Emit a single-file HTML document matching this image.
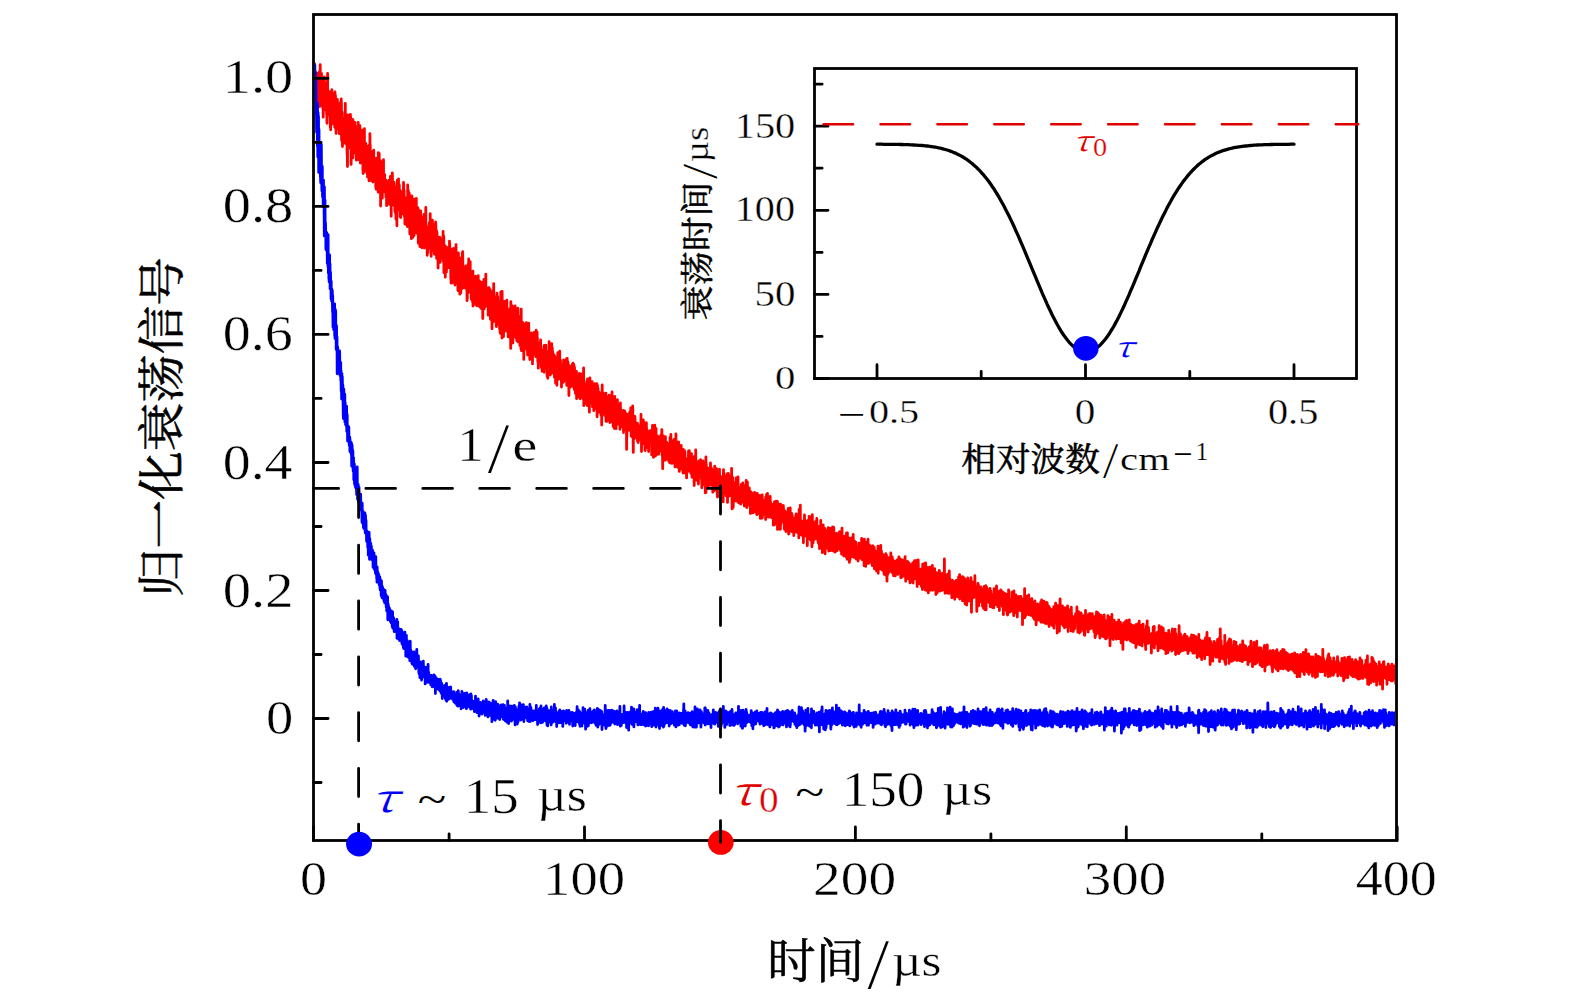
<!DOCTYPE html><html><head><meta charset="utf-8"><style>html,body{margin:0;padding:0;background:#fff;}svg{display:block;}</style></head><body><svg width="1575" height="1004" viewBox="0 0 1575 1004">
<defs><clipPath id="c1"><rect x="314.9" y="15.9" width="1080.2" height="823.2"/></clipPath></defs>
<polyline clip-path="url(#c1)" fill="none" stroke-linejoin="round" stroke-linecap="round" points="313.6,78.4 313.7,75.0 313.9,82.2 314.0,89.9 314.1,84.8 314.3,91.5 314.4,78.9 314.5,63.6 314.7,86.1 314.8,87.8 315.0,74.6 315.1,76.4 315.2,79.7 315.4,92.4 315.5,81.7 315.6,73.2 315.8,98.1 315.9,87.6 316.0,105.2 316.2,98.1 316.3,104.9 316.4,85.7 316.6,98.4 316.7,80.0 316.9,81.6 317.0,86.0 317.1,114.3 317.3,90.6 317.4,84.9 317.5,83.2 317.7,103.2 317.8,90.7 317.9,97.0 318.1,95.2 318.2,72.8 318.3,95.6 318.5,86.4 318.6,75.6 318.7,93.5 318.9,88.0 319.0,85.5 319.2,86.3 319.3,102.0 319.4,86.6 319.6,71.4 319.7,106.5 319.8,77.8 320.0,86.9 320.1,96.3 320.2,64.7 320.4,79.8 320.5,103.6 320.6,88.5 320.8,82.7 320.9,92.1 321.0,81.8 321.2,91.0 321.3,82.5 321.5,73.4 321.6,99.0 321.7,88.6 321.9,96.8 322.0,90.0 322.1,105.9 322.3,98.8 322.4,94.5 322.5,81.6 322.7,78.8 322.8,108.6 322.9,102.4 323.1,85.4 323.2,117.2 323.4,99.1 323.5,94.9 323.6,79.0 323.8,86.0 323.9,98.3 324.0,99.0 324.2,97.8 324.3,76.9 324.4,100.3 324.6,99.1 324.7,91.5 324.8,97.3 325.0,98.4 325.1,109.5 325.2,96.6 325.4,102.0 325.5,83.0 325.7,89.4 325.8,97.6 325.9,89.6 326.1,101.8 326.2,85.4 326.3,98.2 326.5,91.4 326.6,113.9 326.7,94.7 326.9,119.0 327.0,123.3 327.1,103.0 327.3,110.3 327.4,97.9 327.6,73.4 327.7,110.1 327.8,107.8 328.0,98.2 328.1,95.0 328.2,103.1 328.4,103.7 328.5,93.1 328.6,95.5 328.8,114.1 328.9,103.0 329.0,101.9 329.2,114.9 329.3,99.6 329.4,113.0 329.6,91.6 329.7,101.0 329.9,102.4 330.0,110.7 330.1,105.3 330.3,127.6 330.4,117.6 330.5,100.3 330.7,129.8 330.8,95.0 330.9,125.7 331.1,96.4 331.2,115.5 331.3,96.6 331.5,104.4 331.6,124.2 331.8,91.7 331.9,89.6 332.0,107.5 332.2,110.2 332.3,109.1 332.4,118.8 332.6,94.7 332.7,114.2 332.8,108.6 333.0,117.5 333.1,115.7 333.2,123.6 333.4,94.1 333.5,110.8 333.6,97.9 333.8,109.3 333.9,117.7 334.1,113.6 334.2,116.6 334.3,110.1 334.5,114.8 334.6,114.1 334.7,126.9 334.9,120.5 335.0,91.9 335.1,119.3 335.3,123.9 335.4,107.9 335.5,95.6 335.7,129.2 335.8,114.9 335.9,120.0 336.1,133.4 336.2,104.5 336.4,113.5 336.5,112.6 336.6,122.4 336.8,108.6 336.9,120.3 337.0,115.9 337.2,127.3 337.3,128.8 337.4,99.4 337.6,121.0 337.7,111.9 337.8,115.9 338.0,120.8 338.1,121.8 338.3,108.8 338.4,119.8 338.5,118.2 338.7,116.4 338.8,103.3 338.9,109.2 339.1,112.9 339.2,124.0 339.3,133.7 339.5,106.9 339.6,106.9 339.7,119.9 339.9,112.2 340.0,109.7 340.1,109.3 340.3,108.4 340.4,124.5 340.6,102.0 340.7,134.1 340.8,109.9 341.0,114.4 341.1,110.2 341.2,98.8 341.4,103.6 341.5,134.1 341.6,140.5 341.8,111.9 341.9,133.2 342.0,121.8 342.2,112.2 342.3,141.0 342.5,146.5 342.6,119.5 342.7,122.2 342.9,125.7 343.0,122.6 343.1,133.2 343.3,140.8 343.4,125.6 343.5,135.0 343.7,142.9 343.8,118.5 343.9,125.2 344.1,120.0 344.2,136.2 344.3,132.6 344.5,136.7 344.6,135.6 344.8,123.4 344.9,134.8 345.0,122.0 345.2,122.3 345.3,103.3 345.4,142.6 345.6,116.7 345.7,128.0 345.8,127.4 346.0,144.0 346.1,132.9 346.2,119.3 346.4,128.9 346.5,127.3 346.6,131.7 346.8,115.4 346.9,129.0 347.1,154.1 347.2,137.1 347.3,151.8 347.5,166.6 347.6,135.8 347.7,114.8 347.9,129.6 348.0,143.7 348.1,141.3 348.3,117.9 348.4,129.2 348.5,130.6 348.7,132.0 348.8,131.1 349.0,122.6 349.1,125.7 349.2,129.7 349.4,144.2 349.5,126.7 349.6,140.5 349.8,120.5 349.9,147.5 350.0,134.9 350.2,133.6 350.3,148.7 350.4,114.4 350.6,117.5 350.7,139.5 350.8,125.7 351.0,130.4 351.1,164.4 351.3,132.2 351.4,135.9 351.5,134.5 351.7,147.8 351.8,138.9 351.9,138.0 352.1,122.8 352.2,132.6 352.3,136.7 352.5,119.5 352.6,143.3 352.7,141.6 352.9,157.9 353.0,119.9 353.2,126.9 353.3,127.6 353.4,130.6 353.6,137.1 353.7,136.1 353.8,141.6 354.0,141.2 354.1,138.5 354.2,122.3 354.4,133.3 354.5,140.4 354.6,146.4 354.8,147.2 354.9,122.3 355.0,134.8 355.2,139.9 355.3,144.7 355.5,153.5 355.6,142.0 355.7,131.6 355.9,146.0 356.0,144.4 356.1,144.5 356.3,141.0 356.4,160.2 356.5,145.2 356.7,152.3 356.8,133.1 356.9,151.8 357.1,136.9 357.2,126.5 357.4,147.2 357.5,150.7 357.6,142.0 357.8,144.3 357.9,155.6 358.0,139.5 358.2,122.4 358.3,148.0 358.4,147.5 358.6,157.1 358.7,142.1 358.8,159.7 359.0,158.4 359.1,132.0 359.2,156.5 359.4,134.6 359.5,129.8 359.7,144.1 359.8,141.0 359.9,125.6 360.1,149.7 360.2,154.3 360.3,163.0 360.5,147.7 360.6,131.9 360.7,137.8 360.9,159.2 361.0,158.4 361.1,154.7 361.3,146.0 361.4,151.7 361.5,147.3 361.7,146.5 361.8,153.3 362.0,150.7 362.1,148.1 362.2,151.5 362.4,145.2 362.5,130.2 362.6,144.6 362.8,150.7 362.9,170.2 363.0,147.4 363.2,173.5 363.3,167.7 363.4,142.8 363.6,144.7 363.7,154.3 363.9,171.8 364.0,157.2 364.1,160.7 364.3,146.4 364.4,128.7 364.5,151.4 364.7,162.6 364.8,167.1 364.9,155.0 365.1,156.5 365.2,167.4 365.3,153.6 365.5,167.8 365.6,143.1 365.7,143.8 365.9,143.7 366.0,161.1 366.2,150.4 366.3,157.7 366.4,160.7 366.6,160.3 366.7,171.1 366.8,172.9 367.0,148.5 367.1,159.5 367.2,155.2 367.4,146.7 367.5,176.9 367.6,166.7 367.8,156.4 367.9,154.2 368.1,162.8 368.2,147.6 368.3,156.7 368.5,172.5 368.6,169.6 368.7,150.8 368.9,154.7 369.0,180.8 369.1,145.4 369.3,153.8 369.4,145.8 369.5,164.9 369.7,164.1 369.8,173.4 369.9,133.6 370.1,163.4 370.2,144.3 370.4,168.9 370.5,160.2 370.6,180.4 370.8,166.6 370.9,151.9 371.0,176.4 371.2,151.3 371.3,159.5 371.4,174.7 371.6,169.0 371.7,168.7 371.8,164.4 372.0,169.9 372.1,173.2 372.2,167.7 372.4,175.8 372.5,178.8 372.7,165.5 372.8,155.6 372.9,182.0 373.1,165.5 373.2,172.8 373.3,176.5 373.5,156.8 373.6,171.9 373.7,150.2 373.9,175.1 374.0,162.6 374.1,169.5 374.3,175.4 374.4,161.0 374.6,169.2 374.7,161.2 374.8,168.4 375.0,179.9 375.1,169.4 375.2,167.9 375.4,158.3 375.5,178.6 375.6,169.5 375.8,187.8 375.9,162.4 376.0,181.3 376.2,189.3 376.3,170.6 376.4,158.2 376.6,186.8 376.7,182.2 376.9,178.7 377.0,183.0 377.1,166.9 377.3,179.9 377.4,179.2 377.5,165.3 377.7,179.9 377.8,167.3 377.9,182.6 378.1,185.4 378.2,192.2 378.3,152.7 378.5,176.3 378.6,170.4 378.8,173.6 378.9,171.7 379.0,173.1 379.2,153.3 379.3,185.1 379.4,190.9 379.6,185.2 379.7,188.8 379.8,166.7 380.0,166.1 380.1,185.3 380.2,190.1 380.4,179.2 380.5,160.7 380.6,206.0 380.8,170.3 380.9,187.6 381.1,165.2 381.2,188.0 381.3,179.7 381.5,193.0 381.6,187.5 381.7,162.4 381.9,168.6 382.0,181.9 382.1,187.0 382.3,198.2 382.4,182.3 382.5,178.6 382.7,179.4 382.8,179.7 383.0,190.8 383.1,179.7 383.2,179.6 383.4,165.6 383.5,159.7 383.6,181.2 383.8,188.1 383.9,180.8 384.0,186.7 384.2,188.3 384.3,181.3 384.4,191.9 384.6,174.5 384.7,182.3 384.8,178.7 385.0,183.5 385.1,189.4 385.3,191.9 385.4,184.6 385.5,188.1 385.7,179.9 385.8,182.6 385.9,197.2 386.1,182.2 386.2,197.4 386.3,189.8 386.5,186.6 386.6,205.7 386.7,182.9 386.9,182.4 387.0,185.9 387.1,188.9 387.3,188.5 387.4,195.1 387.6,187.8 387.7,190.9 387.8,184.3 388.0,198.2 388.1,183.1 388.2,184.3 388.4,187.5 388.5,190.8 388.6,180.5 388.8,204.1 388.9,181.8 389.0,184.3 389.2,184.1 389.3,183.2 389.5,194.3 389.6,190.3 389.7,181.0 389.9,183.4 390.0,185.9 390.1,204.2 390.3,182.8 390.4,176.3 390.5,178.2 390.7,186.5 390.8,205.5 390.9,179.4 391.1,191.1 391.2,216.3 391.3,185.9 391.5,205.7 391.6,203.8 391.8,197.1 391.9,177.2 392.0,194.6 392.2,188.1 392.3,172.8 392.4,174.6 392.6,192.5 392.7,194.2 392.8,205.0 393.0,199.3 393.1,187.7 393.2,188.2 393.4,191.4 393.5,182.3 393.7,200.9 393.8,193.6 393.9,185.6 394.1,187.3 394.2,182.4 394.3,189.6 394.5,197.1 394.6,190.3 394.7,204.7 394.9,211.5 395.0,188.5 395.1,195.4 395.3,191.7 395.4,212.8 395.5,199.1 395.7,201.7 395.8,204.7 396.0,219.3 396.1,199.5 396.2,186.8 396.4,192.4 396.5,202.8 396.6,196.9 396.8,189.0 396.9,225.8 397.0,198.5 397.2,191.7 397.3,190.5 397.4,180.1 397.6,186.1 397.7,194.8 397.8,195.1 398.0,190.3 398.1,204.2 398.3,199.2 398.4,189.6 398.5,178.8 398.7,201.0 398.8,200.0 398.9,197.6 399.1,185.9 399.2,200.3 399.3,184.9 399.5,210.3 399.6,202.4 399.7,202.7 399.9,192.7 400.0,190.2 400.2,216.8 400.3,210.8 400.4,198.1 400.6,208.5 400.7,217.6 400.8,191.3 401.0,197.1 401.1,197.3 401.2,207.5 401.4,192.1 401.5,205.4 401.6,191.8 401.8,212.7 401.9,212.2 402.0,201.5 402.2,211.0 402.3,197.0 402.5,201.4 402.6,213.8 402.7,203.7 402.9,208.3 403.0,195.4 403.1,211.5 403.3,209.7 403.4,192.9 403.5,182.5 403.7,185.1 403.8,205.2 403.9,203.8 404.1,190.4 404.2,207.6 404.4,216.5 404.5,205.5 404.6,202.2 404.8,215.5 404.9,224.1 405.0,222.1 405.2,200.7 405.3,215.5 405.4,209.3 405.6,205.9 405.7,201.9 405.8,211.8 406.0,203.5 406.1,217.8 406.2,212.6 406.4,219.5 406.5,197.7 406.7,209.7 406.8,217.1 406.9,213.3 407.1,212.2 407.2,202.9 407.3,226.6 407.5,221.0 407.6,214.5 407.7,184.9 407.9,201.2 408.0,212.2 408.1,204.0 408.3,190.5 408.4,214.0 408.6,215.5 408.7,199.6 408.8,207.1 409.0,205.5 409.1,217.6 409.2,193.0 409.4,195.4 409.5,207.2 409.6,206.2 409.8,233.9 409.9,207.0 410.0,215.6 410.2,209.4 410.3,207.0 410.4,217.6 410.6,231.5 410.7,210.7 410.9,222.2 411.0,218.2 411.1,221.1 411.3,218.6 411.4,238.7 411.5,203.1 411.7,213.1 411.8,204.6 411.9,195.9 412.1,215.9 412.2,234.6 412.3,225.5 412.5,228.9 412.6,221.9 412.7,216.2 412.9,237.4 413.0,213.9 413.2,232.8 413.3,214.7 413.4,218.9 413.6,221.2 413.7,218.9 413.8,223.8 414.0,224.7 414.1,235.6 414.2,219.1 414.4,200.4 414.5,199.2 414.6,206.0 414.8,212.4 414.9,226.5 415.1,205.3 415.2,220.6 415.3,220.8 415.5,223.3 415.6,219.6 415.7,225.0 415.9,221.7 416.0,231.9 416.1,224.9 416.3,198.4 416.4,222.2 416.5,224.0 416.7,216.5 416.8,214.9 416.9,233.3 417.1,224.4 417.2,213.3 417.4,219.9 417.5,221.6 417.6,207.4 417.8,229.9 417.9,222.5 418.0,228.7 418.2,208.7 418.3,243.3 418.4,230.7 418.6,229.4 418.7,217.6 418.8,218.4 419.0,210.7 419.1,240.5 419.3,217.4 419.4,228.0 419.5,231.9 419.7,220.1 419.8,234.8 419.9,246.5 420.1,229.6 420.2,241.1 420.3,232.7 420.5,222.7 420.6,223.5 420.7,210.9 420.9,228.9 421.0,242.4 421.1,234.8 421.3,236.6 421.4,239.7 421.6,223.4 421.7,234.3 421.8,247.8 422.0,221.3 422.1,229.5 422.2,225.0 422.4,227.7 422.5,222.6 422.6,228.7 422.8,216.9 422.9,225.1 423.0,225.6 423.2,225.6 423.3,244.3 423.4,231.7 423.6,232.8 423.7,228.3 423.9,244.0 424.0,214.5 424.1,229.8 424.3,243.0 424.4,248.1 424.5,234.1 424.7,232.4 424.8,238.8 424.9,230.9 425.1,238.3 425.2,226.7 425.3,239.5 425.5,232.8 425.6,222.9 425.8,207.4 425.9,242.9 426.0,237.7 426.2,241.6 426.3,225.7 426.4,244.9 426.6,238.5 426.7,234.2 426.8,243.7 427.0,243.7 427.1,239.1 427.2,255.3 427.4,249.0 427.5,239.0 427.6,233.6 427.8,237.0 427.9,252.8 428.1,240.1 428.2,227.8 428.3,230.4 428.5,236.8 428.6,244.9 428.7,230.1 428.9,242.2 429.0,248.2 429.1,244.7 429.3,222.7 429.4,235.0 429.5,225.9 429.7,242.2 429.8,228.4 430.0,243.7 430.1,239.5 430.2,213.7 430.4,230.7 430.5,243.3 430.6,239.4 430.8,235.5 430.9,227.0 431.0,243.9 431.2,256.3 431.3,242.1 431.4,239.4 431.6,238.6 431.7,227.0 431.8,236.9 432.0,232.2 432.1,251.1 432.3,232.0 432.4,220.2 432.5,233.3 432.7,238.5 432.8,239.6 432.9,223.8 433.1,250.5 433.2,242.7 433.3,237.3 433.5,234.7 433.6,246.4 433.7,239.2 433.9,245.1 434.0,241.4 434.2,244.0 434.3,254.0 434.4,243.2 434.6,234.6 434.7,252.8 434.8,245.9 435.0,237.2 435.1,254.2 435.2,242.2 435.4,254.5 435.5,233.3 435.6,222.0 435.8,225.0 435.9,246.9 436.0,237.7 436.2,243.9 436.3,244.3 436.5,230.4 436.6,258.4 436.7,235.5 436.9,246.4 437.0,232.4 437.1,244.4 437.3,252.9 437.4,243.8 437.5,239.5 437.7,246.5 437.8,242.3 437.9,252.2 438.1,268.0 438.2,238.7 438.3,240.8 438.5,246.3 438.6,247.3 438.8,238.1 438.9,252.7 439.0,255.2 439.2,250.4 439.3,237.2 439.4,262.3 439.6,237.5 439.7,255.4 439.8,260.0 440.0,237.3 440.1,250.6 440.2,262.3 440.4,253.4 440.5,241.1 440.7,238.8 440.8,254.5 440.9,246.7 441.1,243.9 441.2,257.1 441.3,247.6 441.5,251.5 441.6,256.5 441.7,256.3 441.9,251.0 442.0,251.5 442.1,257.4 442.3,256.2 442.4,241.6 442.5,250.4 442.7,244.1 442.8,241.2 443.0,247.3 443.1,231.3 443.2,261.2 443.4,245.6 443.5,256.6 443.6,235.9 443.8,237.5 443.9,272.7 444.0,263.4 444.2,247.9 444.3,246.9 444.4,247.6 444.6,255.5 444.7,250.6 444.9,248.8 445.0,256.0 445.1,245.6 445.3,277.2 445.4,249.6 445.5,265.7 445.7,246.8 445.8,258.4 445.9,264.8 446.1,252.9 446.2,265.3 446.3,265.5 446.5,271.9 446.6,257.3 446.7,252.5 446.9,247.6 447.0,258.9 447.2,247.7 447.3,257.7 447.4,258.9 447.6,252.7 447.7,248.2 447.8,261.7 448.0,260.9 448.1,260.3 448.2,258.1 448.4,267.7 448.5,249.5 448.6,263.2 448.8,255.1 448.9,267.5 449.1,256.4 449.2,256.3 449.3,264.2 449.5,241.1 449.6,256.9 449.7,243.7 449.9,251.7 450.0,267.2 450.1,264.7 450.3,257.1 450.4,260.8 450.5,261.1 450.7,264.4 450.8,279.0 450.9,264.1 451.1,283.2 451.2,258.8 451.4,269.3 451.5,269.4 451.6,264.8 451.8,260.3 451.9,276.6 452.0,279.7 452.2,273.4 452.3,282.8 452.4,272.8 452.6,248.8 452.7,273.9 452.8,258.0 453.0,277.2 453.1,261.6 453.2,267.6 453.4,265.3 453.5,259.5 453.7,248.4 453.8,263.3 453.9,264.1 454.1,274.6 454.2,260.1 454.3,268.1 454.5,258.1 454.6,266.5 454.7,249.8 454.9,285.0 455.0,269.3 455.1,258.4 455.3,270.1 455.4,274.4 455.6,269.6 455.7,280.3 455.8,266.3 456.0,244.6 456.1,257.0 456.2,278.3 456.4,276.2 456.5,272.0 456.6,258.9 456.8,276.2 456.9,275.1 457.0,260.5 457.2,260.8 457.3,272.6 457.4,279.7 457.6,283.9 457.7,276.1 457.9,290.6 458.0,262.8 458.1,275.9 458.3,265.6 458.4,252.8 458.5,259.4 458.7,281.3 458.8,262.6 458.9,260.0 459.1,278.0 459.2,280.1 459.3,272.3 459.5,286.4 459.6,257.9 459.8,294.2 459.9,282.3 460.0,274.6 460.2,274.3 460.3,270.8 460.4,270.0 460.6,274.7 460.7,262.2 460.8,292.9 461.0,273.1 461.1,279.9 461.2,272.2 461.4,271.5 461.5,282.2 461.6,279.8 461.8,266.6 461.9,270.9 462.1,280.6 462.2,255.5 462.3,253.1 462.5,288.3 462.6,272.1 462.7,251.7 462.9,267.9 463.0,273.3 463.1,277.4 463.3,280.7 463.4,277.7 463.5,281.0 463.7,269.2 463.8,279.9 463.9,280.5 464.1,287.7 464.2,277.1 464.4,285.1 464.5,278.6 464.6,267.4 464.8,273.9 464.9,272.7 465.0,274.2 465.2,277.1 465.3,279.0 465.4,280.8 465.6,271.1 465.7,288.3 465.8,266.0 466.0,278.3 466.1,285.6 466.3,283.4 466.4,285.3 466.5,277.7 466.7,285.9 466.8,268.9 466.9,286.8 467.1,300.7 467.2,286.6 467.3,298.6 467.5,280.5 467.6,270.6 467.7,274.5 467.9,292.9 468.0,287.8 468.1,264.5 468.3,278.1 468.4,281.2 468.6,271.6 468.7,258.9 468.8,269.7 469.0,280.5 469.1,278.7 469.2,276.4 469.4,287.9 469.5,292.1 469.6,282.0 469.8,291.4 469.9,283.4 470.0,282.1 470.2,261.6 470.3,291.1 470.5,284.5 470.6,285.0 470.7,279.7 470.9,274.2 471.0,288.5 471.1,291.6 471.3,299.3 471.4,292.9 471.5,279.6 471.7,284.3 471.8,294.1 471.9,288.4 472.1,284.8 472.2,280.6 472.3,290.8 472.5,287.8 472.6,302.3 472.8,296.4 472.9,271.2 473.0,306.1 473.2,289.4 473.3,284.4 473.4,290.0 473.6,294.1 473.7,287.4 473.8,287.0 474.0,287.9 474.1,304.4 474.2,288.8 474.4,295.4 474.5,292.7 474.7,285.8 474.8,282.2 474.9,280.0 475.1,292.8 475.2,280.0 475.3,277.9 475.5,278.4 475.6,276.2 475.7,290.3 475.9,290.7 476.0,281.8 476.1,301.9 476.3,287.7 476.4,294.5 476.5,293.2 476.7,305.8 476.8,298.2 477.0,290.5 477.1,282.4 477.2,281.6 477.4,291.4 477.5,292.6 477.6,298.5 477.8,287.5 477.9,293.5 478.0,285.9 478.2,275.7 478.3,292.0 478.4,305.4 478.6,299.8 478.7,305.4 478.8,303.1 479.0,280.6 479.1,290.5 479.3,306.5 479.4,286.9 479.5,281.6 479.7,296.4 479.8,299.4 479.9,296.5 480.1,291.0 480.2,287.9 480.3,283.2 480.5,283.0 480.6,283.4 480.7,282.0 480.9,288.4 481.0,308.4 481.2,295.9 481.3,292.0 481.4,298.4 481.6,286.9 481.7,298.5 481.8,303.7 482.0,282.5 482.1,289.7 482.2,293.8 482.4,287.6 482.5,286.5 482.6,293.2 482.8,318.5 482.9,302.6 483.0,300.8 483.2,305.7 483.3,295.2 483.5,286.4 483.6,301.6 483.7,307.6 483.9,279.3 484.0,301.7 484.1,308.9 484.3,295.8 484.4,294.2 484.5,304.5 484.7,291.2 484.8,302.9 484.9,306.9 485.1,297.2 485.2,292.0 485.4,304.7 485.5,296.2 485.6,300.2 485.8,274.1 485.9,306.0 486.0,287.3 486.2,300.4 486.3,301.2 486.4,293.7 486.6,292.3 486.7,289.1 486.8,297.6 487.0,306.1 487.1,305.7 487.2,296.4 487.4,295.9 487.5,288.8 487.7,297.7 487.8,292.1 487.9,288.1 488.1,300.4 488.2,315.2 488.3,312.6 488.5,315.1 488.6,288.2 488.7,310.1 488.9,291.7 489.0,297.6 489.1,287.6 489.3,294.1 489.4,304.1 489.5,305.1 489.7,302.7 489.8,302.1 490.0,308.5 490.1,304.2 490.2,289.7 490.4,319.3 490.5,302.0 490.6,312.5 490.8,302.9 490.9,297.3 491.0,305.4 491.2,298.1 491.3,319.3 491.4,295.5 491.6,310.8 491.7,300.0 491.9,304.1 492.0,328.8 492.1,312.7 492.3,304.2 492.4,292.5 492.5,303.8 492.7,304.2 492.8,319.2 492.9,294.1 493.1,290.9 493.2,306.8 493.3,309.2 493.5,321.7 493.6,299.7 493.7,283.7 493.9,301.4 494.0,296.7 494.2,303.2 494.3,316.9 494.4,296.5 494.6,319.4 494.7,310.4 494.8,306.3 495.0,301.1 495.1,305.3 495.2,305.7 495.4,316.0 495.5,320.8 495.6,309.0 495.8,315.9 495.9,321.4 496.1,321.1 496.2,314.4 496.3,326.6 496.5,322.2 496.6,324.9 496.7,309.0 496.9,307.2 497.0,293.2 497.1,324.2 497.3,317.2 497.4,303.3 497.5,313.3 497.7,314.5 497.8,296.7 497.9,314.8 498.1,322.2 498.2,323.7 498.4,309.3 498.5,309.7 498.6,324.6 498.8,321.3 498.9,308.1 499.0,307.9 499.2,318.7 499.3,307.7 499.4,308.3 499.6,329.1 499.7,316.3 499.8,310.1 500.0,318.9 500.1,332.8 500.3,316.6 500.4,307.7 500.5,300.6 500.7,333.7 500.8,291.8 500.9,324.7 501.1,306.6 501.2,304.3 501.3,306.6 501.5,314.0 501.6,325.7 501.7,310.1 501.9,322.0 502.0,338.0 502.1,291.3 502.3,310.0 502.4,300.4 502.6,324.4 502.7,303.7 502.8,302.8 503.0,303.3 503.1,317.2 503.2,327.6 503.4,318.8 503.5,336.6 503.6,332.3 503.8,316.8 503.9,326.4 504.0,319.3 504.2,319.0 504.3,301.3 504.4,307.0 504.6,318.8 504.7,308.0 504.9,325.5 505.0,321.8 505.1,311.0 505.3,329.9 505.4,321.7 505.5,330.9 505.7,318.5 505.8,305.4 505.9,326.3 506.1,317.9 506.2,327.8 506.3,330.2 506.5,331.0 506.6,307.8 506.8,300.1 506.9,316.5 507.0,327.0 507.2,314.8 507.3,324.0 507.4,314.3 507.6,318.8 507.7,319.1 507.8,316.4 508.0,326.8 508.1,325.4 508.2,336.9 508.4,326.0 508.5,334.6 508.6,323.7 508.8,330.8 508.9,321.8 509.1,318.9 509.2,335.2 509.3,330.1 509.5,331.4 509.6,316.9 509.7,308.7 509.9,316.2 510.0,326.8 510.1,311.2 510.3,337.1 510.4,311.2 510.5,329.9 510.7,348.4 510.8,301.6 511.0,311.0 511.1,333.7 511.2,323.5 511.4,326.9 511.5,324.3 511.6,338.1 511.8,331.3 511.9,321.5 512.0,323.8 512.2,315.5 512.3,325.3 512.4,305.9 512.6,332.4 512.7,324.1 512.8,343.0 513.0,337.4 513.1,315.3 513.3,335.0 513.4,322.4 513.5,327.7 513.7,336.2 513.8,330.4 513.9,331.9 514.1,331.8 514.2,321.3 514.3,322.3 514.5,333.0 514.6,336.0 514.7,325.9 514.9,329.3 515.0,319.8 515.1,305.9 515.3,321.6 515.4,329.3 515.6,330.6 515.7,336.6 515.8,337.1 516.0,338.1 516.1,333.0 516.2,333.4 516.4,323.5 516.5,333.4 516.6,331.8 516.8,340.7 516.9,316.3 517.0,326.2 517.2,315.4 517.3,324.0 517.5,318.2 517.6,333.2 517.7,325.0 517.9,308.2 518.0,341.9 518.1,321.5 518.3,317.2 518.4,328.2 518.5,325.4 518.7,321.2 518.8,337.9 518.9,328.8 519.1,340.0 519.2,338.5 519.3,338.1 519.5,334.1 519.6,331.7 519.8,329.2 519.9,345.6 520.0,316.1 520.2,323.4 520.3,327.3 520.4,336.9 520.6,334.6 520.7,329.2 520.8,330.5 521.0,348.9 521.1,327.9 521.2,309.1 521.4,350.7 521.5,326.1 521.7,331.7 521.8,336.0 521.9,323.2 522.1,345.6 522.2,334.0 522.3,322.8 522.5,337.4 522.6,339.4 522.7,334.9 522.9,339.9 523.0,322.7 523.1,344.2 523.3,328.8 523.4,347.4 523.5,330.9 523.7,337.7 523.8,359.4 524.0,337.1 524.1,346.5 524.2,341.2 524.4,324.1 524.5,347.3 524.6,346.9 524.8,325.3 524.9,336.9 525.0,324.7 525.2,335.4 525.3,346.0 525.4,339.0 525.6,327.9 525.7,330.5 525.9,338.8 526.0,338.5 526.1,340.1 526.3,344.2 526.4,322.6 526.5,339.4 526.7,349.4 526.8,343.9 526.9,333.6 527.1,334.4 527.2,341.3 527.3,346.0 527.5,340.1 527.6,355.0 527.7,351.9 527.9,333.8 528.0,345.0 528.2,337.7 528.3,330.6 528.4,335.6 528.6,341.2 528.7,323.1 528.8,335.8 529.0,344.8 529.1,335.5 529.2,338.5 529.4,349.5 529.5,341.6 529.6,343.8 529.8,359.5 529.9,344.1 530.0,345.2 530.2,346.6 530.3,357.2 530.5,346.2 530.6,343.6 530.7,342.5 530.9,353.3 531.0,338.2 531.1,354.2 531.3,345.8 531.4,332.8 531.5,350.1 531.7,348.6 531.8,335.1 531.9,347.8 532.1,347.2 532.2,342.8 532.4,335.8 532.5,363.9 532.6,352.2 532.8,353.9 532.9,354.7 533.0,352.8 533.2,352.8 533.3,343.1 533.4,353.5 533.6,344.9 533.7,342.7 533.8,352.5 534.0,345.2 534.1,332.5 534.2,343.8 534.4,352.2 534.5,347.4 534.7,354.8 534.8,344.8 534.9,339.9 535.1,354.3 535.2,349.2 535.3,338.1 535.5,351.9 535.6,346.2 535.7,356.7 535.9,355.0 536.0,352.6 536.1,330.2 536.3,351.9 536.4,353.0 536.6,353.4 536.7,350.2 536.8,343.5 537.0,347.5 537.1,332.1 537.2,347.5 537.4,337.4 537.5,347.3 537.6,344.7 537.8,361.8 537.9,351.0 538.0,350.6 538.2,352.2 538.3,368.2 538.4,343.1 538.6,353.8 538.7,354.3 538.9,352.9 539.0,352.8 539.1,347.7 539.3,361.7 539.4,359.0 539.5,349.0 539.7,350.3 539.8,354.8 539.9,356.5 540.1,358.8 540.2,352.5 540.3,342.4 540.5,361.0 540.6,339.8 540.7,345.5 540.9,356.4 541.0,346.3 541.2,365.0 541.3,367.3 541.4,363.8 541.6,356.6 541.7,356.0 541.8,357.7 542.0,352.8 542.1,371.3 542.2,349.8 542.4,365.7 542.5,359.5 542.6,357.6 542.8,363.9 542.9,365.7 543.1,362.9 543.2,354.8 543.3,350.0 543.5,350.3 543.6,363.2 543.7,361.7 543.9,362.9 544.0,351.7 544.1,372.3 544.3,345.5 544.4,359.8 544.5,362.3 544.7,353.2 544.8,347.7 544.9,353.5 545.1,347.7 545.2,355.4 545.4,346.5 545.5,346.5 545.6,357.7 545.8,345.2 545.9,355.8 546.0,356.5 546.2,364.9 546.3,359.8 546.4,351.2 546.6,368.5 546.7,352.5 546.8,355.1 547.0,355.8 547.1,376.3 547.3,359.2 547.4,353.1 547.5,364.8 547.7,357.9 547.8,378.3 547.9,353.4 548.1,364.5 548.2,352.0 548.3,374.3 548.5,353.7 548.6,361.4 548.7,353.0 548.9,367.3 549.0,364.9 549.1,341.7 549.3,366.9 549.4,366.0 549.6,362.6 549.7,368.8 549.8,350.9 550.0,346.6 550.1,366.6 550.2,375.0 550.4,351.5 550.5,352.1 550.6,354.6 550.8,352.0 550.9,368.6 551.0,363.0 551.2,373.1 551.3,373.4 551.5,354.0 551.6,367.6 551.7,343.7 551.9,361.8 552.0,367.7 552.1,356.1 552.3,348.1 552.4,358.9 552.5,372.9 552.7,360.1 552.8,352.0 552.9,367.3 553.1,369.7 553.2,355.3 553.3,362.5 553.5,372.7 553.6,367.0 553.8,370.2 553.9,361.7 554.0,363.4 554.2,355.0 554.3,358.7 554.4,377.3 554.6,361.4 554.7,357.6 554.8,361.3 555.0,356.7 555.1,369.7 555.2,373.0 555.4,357.9 555.5,374.2 555.6,383.2 555.8,357.5 555.9,371.8 556.1,368.5 556.2,377.5 556.3,377.0 556.5,375.7 556.6,369.4 556.7,363.6 556.9,385.3 557.0,360.8 557.1,376.5 557.3,375.7 557.4,361.7 557.5,367.9 557.7,379.8 557.8,352.7 558.0,374.6 558.1,365.8 558.2,366.3 558.4,356.6 558.5,371.8 558.6,360.1 558.8,374.4 558.9,359.4 559.0,374.8 559.2,371.6 559.3,353.6 559.4,366.4 559.6,368.2 559.7,351.1 559.8,366.4 560.0,376.0 560.1,363.6 560.3,379.2 560.4,360.7 560.5,360.2 560.7,374.6 560.8,375.2 560.9,368.8 561.1,370.2 561.2,378.3 561.3,366.0 561.5,387.1 561.6,374.3 561.7,374.2 561.9,373.2 562.0,368.7 562.2,381.1 562.3,366.7 562.4,373.0 562.6,376.8 562.7,382.7 562.8,381.3 563.0,369.1 563.1,379.8 563.2,371.7 563.4,363.8 563.5,364.2 563.6,360.0 563.8,375.0 563.9,381.5 564.0,364.7 564.2,370.5 564.3,364.1 564.5,373.2 564.6,363.8 564.7,366.7 564.9,367.9 565.0,369.7 565.1,370.6 565.3,372.1 565.4,372.2 565.5,366.2 565.7,378.4 565.8,360.5 565.9,375.4 566.1,366.8 566.2,375.5 566.3,376.8 566.5,358.7 566.6,377.5 566.8,385.4 566.9,381.0 567.0,378.0 567.2,358.3 567.3,374.0 567.4,368.3 567.6,383.9 567.7,373.2 567.8,370.8 568.0,361.9 568.1,381.9 568.2,371.6 568.4,374.2 568.5,384.8 568.7,376.9 568.8,379.0 568.9,395.5 569.1,372.4 569.2,373.0 569.3,380.9 569.5,388.1 569.6,365.8 569.7,375.6 569.9,369.7 570.0,366.7 570.1,382.2 570.3,371.7 570.4,380.2 570.5,378.9 570.7,379.2 570.8,378.6 571.0,369.9 571.1,377.9 571.2,380.2 571.4,381.3 571.5,376.5 571.6,386.4 571.8,383.4 571.9,379.9 572.0,384.1 572.2,380.7 572.3,384.7 572.4,364.1 572.6,369.6 572.7,376.6 572.9,380.7 573.0,363.1 573.1,378.0 573.3,381.3 573.4,378.4 573.5,378.4 573.7,369.8 573.8,381.2 573.9,364.6 574.1,388.3 574.2,375.9 574.3,389.5 574.5,367.3 574.6,384.4 574.7,382.3 574.9,374.7 575.0,372.2 575.2,391.0 575.3,385.1 575.4,393.4 575.6,381.5 575.7,383.5 575.8,385.5 576.0,388.3 576.1,386.0 576.2,389.0 576.4,379.1 576.5,371.4 576.6,398.7 576.8,384.5 576.9,387.0 577.1,379.9 577.2,391.4 577.3,385.2 577.5,392.3 577.6,378.7 577.7,383.6 577.9,385.7 578.0,381.7 578.1,386.6 578.3,397.0 578.4,380.2 578.5,382.7 578.7,386.3 578.8,377.5 578.9,375.8 579.1,394.0 579.2,391.7 579.4,373.5 579.5,374.6 579.6,391.7 579.8,395.3 579.9,391.1 580.0,390.1 580.2,398.8 580.3,386.2 580.4,396.6 580.6,396.2 580.7,379.6 580.8,392.2 581.0,387.6 581.1,382.2 581.2,380.9 581.4,390.0 581.5,387.1 581.7,394.0 581.8,374.0 581.9,382.7 582.1,396.5 582.2,388.0 582.3,382.5 582.5,384.5 582.6,374.0 582.7,377.7 582.9,392.8 583.0,389.4 583.1,398.8 583.3,386.9 583.4,387.8 583.6,368.0 583.7,388.4 583.8,405.7 584.0,394.7 584.1,388.7 584.2,399.4 584.4,396.5 584.5,392.7 584.6,387.3 584.8,391.4 584.9,397.1 585.0,384.2 585.2,394.6 585.3,394.4 585.4,401.4 585.6,396.9 585.7,385.8 585.9,403.5 586.0,391.6 586.1,385.6 586.3,394.2 586.4,389.5 586.5,400.2 586.7,381.4 586.8,383.2 586.9,390.0 587.1,405.6 587.2,400.2 587.3,384.6 587.5,379.0 587.6,390.1 587.8,382.8 587.9,397.3 588.0,394.2 588.2,392.8 588.3,389.6 588.4,404.9 588.6,385.8 588.7,383.0 588.8,402.3 589.0,404.0 589.1,390.8 589.2,398.7 589.4,412.2 589.5,387.6 589.6,392.8 589.8,397.8 589.9,377.8 590.1,393.2 590.2,400.3 590.3,393.8 590.5,402.7 590.6,400.6 590.7,391.9 590.9,399.3 591.0,398.6 591.1,382.3 591.3,388.6 591.4,389.2 591.5,391.4 591.7,391.9 591.8,384.5 591.9,396.0 592.1,381.6 592.2,403.4 592.4,398.1 592.5,406.9 592.6,399.0 592.8,392.5 592.9,385.4 593.0,401.8 593.2,396.8 593.3,399.7 593.4,402.7 593.6,406.3 593.7,396.8 593.8,410.7 594.0,396.6 594.1,397.4 594.3,402.7 594.4,405.5 594.5,408.5 594.7,383.6 594.8,408.4 594.9,386.2 595.1,393.7 595.2,401.2 595.3,407.4 595.5,390.6 595.6,385.4 595.7,406.0 595.9,401.2 596.0,391.0 596.1,396.6 596.3,383.9 596.4,403.7 596.6,395.3 596.7,409.2 596.8,383.6 597.0,405.4 597.1,416.8 597.2,401.0 597.4,401.2 597.5,385.5 597.6,402.9 597.8,400.5 597.9,396.0 598.0,388.5 598.2,401.2 598.3,392.9 598.5,397.0 598.6,403.3 598.7,400.6 598.9,401.1 599.0,408.4 599.1,392.2 599.3,412.2 599.4,392.7 599.5,394.5 599.7,402.6 599.8,407.9 599.9,403.8 600.1,398.6 600.2,396.6 600.3,400.2 600.5,395.0 600.6,406.9 600.8,401.0 600.9,414.8 601.0,397.1 601.2,401.9 601.3,406.3 601.4,394.4 601.6,398.1 601.7,425.0 601.8,403.3 602.0,414.8 602.1,395.7 602.2,384.9 602.4,408.0 602.5,403.5 602.7,406.1 602.8,401.6 602.9,399.5 603.1,394.7 603.2,412.2 603.3,392.8 603.5,411.9 603.6,402.8 603.7,396.2 603.9,399.7 604.0,412.4 604.1,410.7 604.3,409.0 604.4,406.0 604.5,397.0 604.7,415.6 604.8,402.3 605.0,401.4 605.1,401.9 605.2,402.7 605.4,394.8 605.5,402.7 605.6,400.0 605.8,402.3 605.9,393.1 606.0,421.3 606.2,397.2 606.3,409.0 606.4,409.3 606.6,414.6 606.7,421.5 606.8,410.3 607.0,412.8 607.1,403.9 607.3,418.9 607.4,397.0 607.5,405.9 607.7,409.9 607.8,413.6 607.9,414.2 608.1,416.9 608.2,412.6 608.3,408.5 608.5,410.0 608.6,419.5 608.7,410.9 608.9,415.8 609.0,407.9 609.2,395.1 609.3,404.6 609.4,411.8 609.6,421.8 609.7,420.3 609.8,422.5 610.0,404.3 610.1,415.7 610.2,409.6 610.4,414.8 610.5,409.5 610.6,399.8 610.8,415.6 610.9,413.1 611.0,416.7 611.2,404.1 611.3,418.6 611.5,419.5 611.6,421.5 611.7,421.8 611.9,407.7 612.0,392.0 612.1,419.0 612.3,404.4 612.4,409.8 612.5,420.1 612.7,414.0 612.8,413.7 612.9,417.3 613.1,397.6 613.2,426.6 613.4,409.5 613.5,410.0 613.6,417.0 613.8,411.6 613.9,406.2 614.0,411.7 614.2,409.9 614.3,407.9 614.4,428.5 614.6,402.2 614.7,396.3 614.8,406.1 615.0,406.0 615.1,424.3 615.2,414.7 615.4,420.0 615.5,418.4 615.7,406.9 615.8,420.3 615.9,415.3 616.1,428.7 616.2,415.7 616.3,413.9 616.5,420.0 616.6,420.2 616.7,400.8 616.9,424.1 617.0,423.0 617.1,421.3 617.3,406.3 617.4,399.7 617.5,413.0 617.7,421.0 617.8,418.9 618.0,407.9 618.1,422.8 618.2,405.2 618.4,405.5 618.5,415.7 618.6,411.5 618.8,410.8 618.9,404.9 619.0,424.5 619.2,407.9 619.3,419.6 619.4,422.7 619.6,416.3 619.7,418.7 619.9,424.6 620.0,429.3 620.1,424.5 620.3,406.7 620.4,403.0 620.5,412.9 620.7,409.0 620.8,421.8 620.9,418.6 621.1,416.0 621.2,426.3 621.3,425.7 621.5,417.7 621.6,420.9 621.7,426.6 621.9,415.9 622.0,420.8 622.2,411.3 622.3,419.1 622.4,421.4 622.6,418.3 622.7,420.6 622.8,424.4 623.0,422.5 623.1,414.1 623.2,414.9 623.4,410.3 623.5,432.5 623.6,423.0 623.8,423.2 623.9,419.0 624.1,423.7 624.2,424.3 624.3,414.7 624.5,419.3 624.6,429.4 624.7,410.9 624.9,413.5 625.0,425.3 625.1,415.0 625.3,426.7 625.4,413.0 625.5,423.1 625.7,427.5 625.8,424.4 625.9,427.4 626.1,420.4 626.2,420.6 626.4,421.8 626.5,426.3 626.6,449.4 626.8,421.6 626.9,436.5 627.0,420.7 627.2,414.2 627.3,420.7 627.4,425.7 627.6,424.2 627.7,424.0 627.8,427.2 628.0,427.5 628.1,430.1 628.3,414.6 628.4,423.6 628.5,416.5 628.7,425.6 628.8,423.3 628.9,425.2 629.1,420.6 629.2,418.0 629.3,422.4 629.5,429.3 629.6,430.2 629.7,412.2 629.9,426.7 630.0,426.8 630.1,414.0 630.3,416.8 630.4,421.0 630.6,428.0 630.7,407.8 630.8,422.4 631.0,421.3 631.1,426.7 631.2,436.0 631.4,435.5 631.5,422.8 631.6,423.0 631.8,427.7 631.9,434.7 632.0,436.8 632.2,428.7 632.3,437.1 632.4,419.8 632.6,418.0 632.7,405.8 632.9,420.3 633.0,431.2 633.1,433.3 633.3,452.4 633.4,431.5 633.5,428.5 633.7,420.2 633.8,422.9 633.9,423.2 634.1,426.0 634.2,422.8 634.3,417.2 634.5,435.7 634.6,431.4 634.8,438.3 634.9,416.3 635.0,418.8 635.2,422.9 635.3,437.3 635.4,427.3 635.6,430.4 635.7,428.2 635.8,430.2 636.0,425.1 636.1,432.0 636.2,422.9 636.4,427.5 636.5,431.5 636.6,430.3 636.8,432.8 636.9,423.7 637.1,431.7 637.2,427.7 637.3,432.8 637.5,440.9 637.6,423.5 637.7,438.0 637.9,425.3 638.0,427.3 638.1,442.6 638.3,437.5 638.4,434.5 638.5,436.8 638.7,439.5 638.8,425.6 639.0,432.8 639.1,428.4 639.2,434.4 639.4,429.1 639.5,436.9 639.6,431.7 639.8,427.4 639.9,431.4 640.0,435.2 640.2,439.9 640.3,430.8 640.4,429.6 640.6,434.1 640.7,437.9 640.8,428.5 641.0,414.4 641.1,434.8 641.3,430.2 641.4,430.0 641.5,451.6 641.7,432.1 641.8,438.2 641.9,423.1 642.1,435.1 642.2,439.0 642.3,435.1 642.5,432.3 642.6,437.7 642.7,434.1 642.9,443.7 643.0,435.6 643.1,428.4 643.3,419.8 643.4,429.1 643.6,432.3 643.7,425.8 643.8,427.1 644.0,422.5 644.1,426.8 644.2,435.6 644.4,433.0 644.5,433.7 644.6,432.9 644.8,433.7 644.9,440.9 645.0,450.6 645.2,440.3 645.3,450.3 645.5,435.1 645.6,435.7 645.7,448.0 645.9,430.9 646.0,429.7 646.1,435.4 646.3,424.1 646.4,422.7 646.5,445.1 646.7,429.0 646.8,433.4 646.9,433.6 647.1,430.0 647.2,442.1 647.3,441.2 647.5,443.0 647.6,442.6 647.8,438.0 647.9,447.8 648.0,445.0 648.2,433.3 648.3,438.1 648.4,434.9 648.6,451.5 648.7,443.6 648.8,442.0 649.0,437.8 649.1,442.4 649.2,431.5 649.4,438.8 649.5,438.3 649.7,438.4 649.8,433.5 649.9,442.1 650.1,430.7 650.2,435.6 650.3,437.9 650.5,438.8 650.6,435.4 650.7,432.0 650.9,432.6 651.0,436.8 651.1,433.2 651.3,438.8 651.4,430.7 651.5,440.0 651.7,454.9 651.8,430.4 652.0,439.4 652.1,448.7 652.2,441.7 652.4,446.8 652.5,425.4 652.6,437.0 652.8,452.0 652.9,436.8 653.0,443.7 653.2,427.2 653.3,448.6 653.4,457.3 653.6,440.8 653.7,443.8 653.9,444.4 654.0,456.9 654.1,438.5 654.3,429.7 654.4,455.5 654.5,433.5 654.7,446.1 654.8,425.2 654.9,439.0 655.1,443.6 655.2,434.4 655.3,438.7 655.5,446.8 655.6,437.5 655.7,446.4 655.9,455.6 656.0,428.3 656.2,445.5 656.3,447.5 656.4,440.7 656.6,454.5 656.7,453.1 656.8,447.0 657.0,447.3 657.1,443.1 657.2,435.7 657.4,447.2 657.5,440.4 657.6,439.7 657.8,451.9 657.9,442.5 658.0,451.0 658.2,436.7 658.3,441.2 658.5,444.4 658.6,454.2 658.7,443.9 658.9,450.3 659.0,439.9 659.1,445.9 659.3,450.9 659.4,438.6 659.5,440.1 659.7,449.6 659.8,437.1 659.9,447.7 660.1,447.9 660.2,444.8 660.4,451.2 660.5,449.1 660.6,447.2 660.8,435.2 660.9,435.5 661.0,448.1 661.2,434.9 661.3,446.8 661.4,443.8 661.6,440.3 661.7,444.6 661.8,429.6 662.0,445.2 662.1,455.5 662.2,437.8 662.4,450.1 662.5,449.4 662.7,468.7 662.8,440.3 662.9,441.7 663.1,441.9 663.2,440.8 663.3,435.8 663.5,448.2 663.6,441.3 663.7,453.4 663.9,450.7 664.0,440.7 664.1,445.6 664.3,457.9 664.4,446.0 664.6,449.9 664.7,454.5 664.8,445.7 665.0,451.8 665.1,460.2 665.2,457.0 665.4,436.6 665.5,460.0 665.6,447.8 665.8,445.1 665.9,445.0 666.0,458.3 666.2,452.0 666.3,448.8 666.4,444.2 666.6,454.6 666.7,458.3 666.9,443.0 667.0,442.4 667.1,447.7 667.3,454.7 667.4,447.6 667.5,449.8 667.7,444.7 667.8,459.6 667.9,450.0 668.1,452.1 668.2,458.9 668.3,449.6 668.5,451.0 668.6,454.2 668.7,448.6 668.9,461.5 669.0,452.0 669.2,448.6 669.3,449.7 669.4,444.2 669.6,460.4 669.7,462.7 669.8,450.4 670.0,449.0 670.1,437.3 670.2,448.0 670.4,458.6 670.5,446.9 670.6,458.6 670.8,463.2 670.9,434.4 671.1,450.6 671.2,447.9 671.3,449.1 671.5,440.4 671.6,451.3 671.7,444.7 671.9,460.7 672.0,463.4 672.1,443.5 672.3,443.3 672.4,450.2 672.5,452.3 672.7,452.8 672.8,458.9 672.9,443.3 673.1,449.6 673.2,450.8 673.4,451.8 673.5,447.1 673.6,451.0 673.8,449.4 673.9,463.0 674.0,451.3 674.2,439.5 674.3,458.7 674.4,456.0 674.6,448.9 674.7,448.5 674.8,451.0 675.0,466.9 675.1,452.0 675.3,464.0 675.4,461.5 675.5,452.0 675.7,458.0 675.8,450.3 675.9,433.9 676.1,450.7 676.2,451.2 676.3,462.6 676.5,460.9 676.6,464.0 676.7,460.3 676.9,464.4 677.0,461.4 677.1,458.3 677.3,464.0 677.4,467.0 677.6,466.7 677.7,454.0 677.8,456.9 678.0,450.2 678.1,450.1 678.2,460.0 678.4,452.9 678.5,467.8 678.6,441.8 678.8,449.5 678.9,459.5 679.0,466.2 679.2,455.5 679.3,471.4 679.5,463.8 679.6,453.2 679.7,458.0 679.9,462.0 680.0,452.0 680.1,466.1 680.3,456.9 680.4,462.4 680.5,465.0 680.7,455.9 680.8,466.2 680.9,446.0 681.1,463.5 681.2,445.5 681.3,467.2 681.5,455.4 681.6,468.1 681.8,469.2 681.9,458.8 682.0,455.2 682.2,469.0 682.3,451.9 682.4,465.8 682.6,459.4 682.7,457.8 682.8,456.3 683.0,473.1 683.1,449.4 683.2,456.8 683.4,463.8 683.5,468.1 683.6,472.8 683.8,470.6 683.9,457.4 684.1,463.7 684.2,469.3 684.3,465.1 684.5,450.6 684.6,463.9 684.7,465.8 684.9,452.4 685.0,458.7 685.1,461.6 685.3,466.3 685.4,473.0 685.5,470.4 685.7,465.6 685.8,463.9 686.0,460.0 686.1,458.7 686.2,461.1 686.4,461.2 686.5,469.8 686.6,477.9 686.8,466.6 686.9,469.7 687.0,467.7 687.2,465.1 687.3,472.0 687.4,471.1 687.6,464.2 687.7,462.8 687.8,468.2 688.0,460.3 688.1,465.4 688.3,471.0 688.4,463.7 688.5,451.0 688.7,468.9 688.8,456.2 688.9,454.8 689.1,454.0 689.2,470.2 689.3,450.6 689.5,463.9 689.6,466.5 689.7,466.4 689.9,460.8 690.0,464.7 690.2,466.3 690.3,456.3 690.4,470.3 690.6,472.6 690.7,459.9 690.8,460.6 691.0,458.0 691.1,473.1 691.2,458.3 691.4,462.5 691.5,453.7 691.6,474.7 691.8,464.6 691.9,468.1 692.0,477.3 692.2,471.3 692.3,458.6 692.5,469.8 692.6,471.6 692.7,460.7 692.9,459.9 693.0,460.0 693.1,472.4 693.3,467.4 693.4,460.0 693.5,471.7 693.7,472.5 693.8,461.6 693.9,456.7 694.1,475.5 694.2,485.6 694.3,477.7 694.5,474.8 694.6,468.8 694.8,463.7 694.9,469.1 695.0,473.0 695.2,467.1 695.3,474.9 695.4,468.7 695.6,472.9 695.7,450.0 695.8,463.0 696.0,474.5 696.1,475.7 696.2,471.9 696.4,480.3 696.5,474.1 696.7,474.2 696.8,463.1 696.9,472.2 697.1,474.8 697.2,478.7 697.3,477.7 697.5,470.1 697.6,471.2 697.7,462.0 697.9,474.2 698.0,462.7 698.1,468.3 698.3,470.2 698.4,484.0 698.5,479.2 698.7,465.3 698.8,460.8 699.0,469.1 699.1,465.4 699.2,473.5 699.4,473.3 699.5,475.4 699.6,464.2 699.8,468.7 699.9,472.7 700.0,473.5 700.2,467.5 700.3,469.1 700.4,477.2 700.6,459.7 700.7,469.8 700.9,471.6 701.0,461.6 701.1,464.8 701.3,472.5 701.4,468.3 701.5,479.4 701.7,476.6 701.8,487.8 701.9,464.0 702.1,485.5 702.2,467.8 702.3,478.3 702.5,479.4 702.6,474.1 702.7,471.0 702.9,468.7 703.0,460.9 703.2,470.6 703.3,467.1 703.4,477.3 703.6,468.4 703.7,472.4 703.8,476.7 704.0,474.2 704.1,474.1 704.2,472.4 704.4,471.1 704.5,477.4 704.6,479.1 704.8,468.9 704.9,485.8 705.1,478.5 705.2,463.7 705.3,492.9 705.5,479.2 705.6,469.8 705.7,485.9 705.9,456.9 706.0,492.5 706.1,465.1 706.3,464.3 706.4,468.8 706.5,476.6 706.7,472.8 706.8,481.4 706.9,469.8 707.1,483.1 707.2,477.4 707.4,468.8 707.5,483.3 707.6,478.3 707.8,474.7 707.9,485.1 708.0,468.1 708.2,473.8 708.3,486.5 708.4,476.6 708.6,481.6 708.7,480.9 708.8,476.0 709.0,481.4 709.1,470.1 709.2,481.5 709.4,470.1 709.5,477.2 709.7,471.1 709.8,480.7 709.9,480.6 710.1,485.1 710.2,473.4 710.3,471.0 710.5,463.0 710.6,468.8 710.7,475.9 710.9,479.1 711.0,475.1 711.1,478.1 711.3,468.0 711.4,471.6 711.6,483.8 711.7,482.9 711.8,469.0 712.0,476.2 712.1,480.0 712.2,470.4 712.4,481.2 712.5,480.6 712.6,481.9 712.8,492.2 712.9,473.0 713.0,487.2 713.2,482.9 713.3,484.2 713.4,474.3 713.6,479.8 713.7,479.3 713.9,490.9 714.0,480.1 714.1,489.6 714.3,477.6 714.4,477.3 714.5,480.0 714.7,466.1 714.8,476.4 714.9,476.1 715.1,479.2 715.2,481.6 715.3,473.8 715.5,472.9 715.6,489.3 715.8,473.4 715.9,477.2 716.0,474.2 716.2,477.7 716.3,489.3 716.4,488.9 716.6,468.7 716.7,479.4 716.8,490.8 717.0,478.9 717.1,483.8 717.2,493.9 717.4,497.0 717.5,492.5 717.6,479.8 717.8,482.1 717.9,483.5 718.1,480.0 718.2,477.9 718.3,496.3 718.5,484.2 718.6,487.8 718.7,490.7 718.9,486.1 719.0,483.3 719.1,484.3 719.3,492.5 719.4,486.0 719.5,469.2 719.7,490.0 719.8,494.3 720.0,481.2 720.1,479.1 720.2,480.0 720.4,490.8 720.5,476.6 720.6,488.7 720.8,491.2 720.9,487.7 721.0,484.4 721.2,478.9 721.3,479.6 721.4,484.0 721.6,477.7 721.7,483.5 721.8,478.1 722.0,493.7 722.1,494.9 722.3,479.1 722.4,493.8 722.5,486.5 722.7,485.2 722.8,488.0 722.9,487.8 723.1,475.4 723.2,501.9 723.3,479.0 723.5,469.6 723.6,485.0 723.7,485.3 723.9,480.4 724.0,473.1 724.1,493.4 724.3,484.9 724.4,486.8 724.6,481.9 724.7,484.7 724.8,481.4 725.0,488.7 725.1,485.7 725.2,490.6 725.4,490.6 725.5,487.2 725.6,487.2 725.8,494.3 725.9,475.9 726.0,487.4 726.2,495.9 726.3,479.3 726.5,491.8 726.6,483.4 726.7,487.0 726.9,485.3 727.0,485.9 727.1,491.0 727.3,486.9 727.4,473.7 727.5,502.4 727.7,487.0 727.8,484.6 727.9,494.7 728.1,496.9 728.2,473.3 728.3,490.3 728.5,474.0 728.6,484.4 728.8,487.6 728.9,485.0 729.0,484.0 729.2,480.4 729.3,485.5 729.4,487.5 729.6,487.3 729.7,479.5 729.8,483.2 730.0,495.5 730.1,493.1 730.2,486.7 730.4,493.2 730.5,491.6 730.7,495.5 730.8,491.0 730.9,486.5 731.1,482.7 731.2,489.4 731.3,475.6 731.5,490.1 731.6,468.3 731.7,483.1 731.9,486.5 732.0,493.2 732.1,508.9 732.3,491.1 732.4,488.9 732.5,477.4 732.7,499.5 732.8,477.6 733.0,492.1 733.1,485.7 733.2,507.6 733.4,489.7 733.5,493.0 733.6,486.3 733.8,490.3 733.9,498.6 734.0,484.7 734.2,486.5 734.3,487.2 734.4,484.5 734.6,484.0 734.7,491.6 734.8,500.6 735.0,500.8 735.1,482.6 735.3,487.0 735.4,491.1 735.5,494.8 735.7,491.7 735.8,491.9 735.9,494.3 736.1,496.8 736.2,477.8 736.3,490.8 736.5,496.4 736.6,501.2 736.7,497.4 736.9,487.8 737.0,487.7 737.2,494.2 737.3,492.5 737.4,495.0 737.6,500.4 737.7,484.4 737.8,490.7 738.0,476.8 738.1,498.3 738.2,494.3 738.4,487.6 738.5,495.2 738.6,502.8 738.8,500.0 738.9,493.1 739.0,491.5 739.2,494.5 739.3,487.3 739.5,487.5 739.6,492.0 739.7,494.0 739.9,496.0 740.0,490.7 740.1,488.3 740.3,494.1 740.4,491.6 740.5,496.8 740.7,504.1 740.8,501.4 740.9,489.8 741.1,492.0 741.2,484.5 741.4,494.7 741.5,489.4 741.6,486.5 741.8,488.7 741.9,499.4 742.0,496.7 742.2,494.7 742.3,502.2 742.4,492.6 742.6,489.0 742.7,499.0 742.8,482.8 743.0,497.9 743.1,497.4 743.2,497.7 743.4,500.9 743.5,493.5 743.7,496.2 743.8,485.4 743.9,492.5 744.1,493.0 744.2,498.1 744.3,506.1 744.5,497.4 744.6,502.5 744.7,490.7 744.9,497.2 745.0,486.1 745.1,492.3 745.3,491.7 745.4,495.8 745.6,496.0 745.7,493.2 745.8,491.4 746.0,502.3 746.1,494.4 746.2,480.4 746.4,498.4 746.5,499.6 746.6,502.6 746.8,507.6 746.9,490.3 747.0,497.8 747.2,496.3 747.3,486.2 747.4,481.9 747.6,504.4 747.7,491.6 747.9,494.5 748.0,496.1 748.1,495.6 748.3,499.0 748.4,488.4 748.5,494.9 748.7,496.8 748.8,490.9 748.9,493.3 749.1,496.3 749.2,497.2 749.3,487.9 749.5,496.1 749.6,500.2 749.7,505.3 749.9,502.0 750.0,506.7 750.2,499.2 750.3,498.3 750.4,513.5 750.6,500.0 750.7,495.9 750.8,499.1 751.0,506.6 751.1,492.0 751.2,505.0 751.4,508.6 751.5,507.7 751.6,500.8 751.8,494.3 751.9,493.1 752.1,499.5 752.2,508.8 752.3,505.4 752.5,507.0 752.6,502.4 752.7,512.9 752.9,500.6 753.0,497.2 753.1,502.5 753.3,498.5 753.4,507.8 753.5,511.3 753.7,506.0 753.8,494.2 753.9,495.1 754.1,505.0 754.2,494.2 754.4,504.3 754.5,492.3 754.6,499.1 754.8,505.3 754.9,497.2 755.0,507.6 755.2,508.7 755.3,512.2 755.4,501.0 755.6,503.1 755.7,503.4 755.8,505.6 756.0,493.6 756.1,505.9 756.3,507.9 756.4,495.0 756.5,494.0 756.7,501.1 756.8,514.8 756.9,507.4 757.1,499.6 757.2,503.5 757.3,493.5 757.5,512.7 757.6,499.4 757.7,508.0 757.9,495.3 758.0,504.6 758.1,497.4 758.3,508.5 758.4,513.5 758.6,511.6 758.7,508.4 758.8,511.2 759.0,496.7 759.1,495.9 759.2,502.9 759.4,511.6 759.5,505.6 759.6,509.4 759.8,495.5 759.9,503.0 760.0,501.9 760.2,507.8 760.3,518.4 760.4,510.4 760.6,512.7 760.7,503.1 760.9,504.9 761.0,510.9 761.1,508.3 761.3,495.6 761.4,512.1 761.5,511.9 761.7,507.5 761.8,510.6 761.9,508.9 762.1,502.7 762.2,495.0 762.3,518.0 762.5,506.5 762.6,506.2 762.8,507.1 762.9,507.9 763.0,508.9 763.2,500.2 763.3,509.9 763.4,507.7 763.6,507.0 763.7,506.4 763.8,508.2 764.0,500.7 764.1,507.3 764.2,506.2 764.4,507.7 764.5,514.0 764.6,513.0 764.8,514.5 764.9,506.4 765.1,512.4 765.2,514.7 765.3,506.3 765.5,504.6 765.6,519.5 765.7,497.1 765.9,508.0 766.0,508.9 766.1,501.4 766.3,507.9 766.4,512.4 766.5,494.3 766.7,515.6 766.8,509.3 767.0,503.2 767.1,515.8 767.2,509.5 767.4,506.4 767.5,493.4 767.6,514.9 767.8,509.5 767.9,504.9 768.0,508.8 768.2,517.2 768.3,506.8 768.4,508.8 768.6,506.7 768.7,502.3 768.8,503.1 769.0,507.1 769.1,507.8 769.3,517.1 769.4,510.9 769.5,508.6 769.7,512.7 769.8,509.6 769.9,515.6 770.1,500.4 770.2,496.4 770.3,513.0 770.5,508.0 770.6,512.1 770.7,502.5 770.9,507.9 771.0,510.3 771.2,512.3 771.3,510.1 771.4,517.5 771.6,506.7 771.7,515.8 771.8,507.8 772.0,510.5 772.1,504.3 772.2,511.6 772.4,504.9 772.5,517.6 772.6,507.7 772.8,513.2 772.9,510.5 773.0,511.4 773.2,505.9 773.3,525.1 773.5,510.0 773.6,521.8 773.7,504.4 773.9,525.0 774.0,518.8 774.1,523.2 774.3,501.9 774.4,520.9 774.5,511.9 774.7,516.2 774.8,524.4 774.9,515.0 775.1,508.6 775.2,514.2 775.3,506.9 775.5,515.4 775.6,513.1 775.8,515.7 775.9,511.1 776.0,501.1 776.2,511.1 776.3,512.3 776.4,517.6 776.6,518.5 776.7,504.3 776.8,521.0 777.0,519.7 777.1,514.5 777.2,516.7 777.4,501.4 777.5,529.4 777.7,511.9 777.8,509.7 777.9,521.6 778.1,518.6 778.2,511.7 778.3,504.0 778.5,520.5 778.6,524.9 778.7,508.5 778.9,505.0 779.0,517.0 779.1,529.2 779.3,505.6 779.4,516.4 779.5,507.9 779.7,515.5 779.8,517.7 780.0,518.3 780.1,505.9 780.2,506.2 780.4,529.3 780.5,521.6 780.6,504.2 780.8,518.1 780.9,524.6 781.0,515.9 781.2,516.7 781.3,516.7 781.4,519.2 781.6,518.2 781.7,519.2 781.9,514.1 782.0,521.6 782.1,518.3 782.3,517.4 782.4,508.2 782.5,514.2 782.7,517.4 782.8,513.3 782.9,514.2 783.1,509.9 783.2,513.7 783.3,505.5 783.5,508.5 783.6,517.4 783.7,519.9 783.9,511.6 784.0,514.0 784.2,518.0 784.3,527.0 784.4,529.3 784.6,515.4 784.7,512.8 784.8,512.6 785.0,526.1 785.1,511.2 785.2,521.4 785.4,515.5 785.5,515.4 785.6,523.3 785.8,522.0 785.9,531.6 786.0,524.3 786.2,530.0 786.3,515.7 786.5,518.2 786.6,512.8 786.7,516.4 786.9,522.8 787.0,516.6 787.1,521.4 787.3,515.1 787.4,517.0 787.5,525.4 787.7,519.2 787.8,518.9 787.9,521.3 788.1,513.6 788.2,508.5 788.4,521.9 788.5,521.8 788.6,534.0 788.8,520.5 788.9,522.6 789.0,533.7 789.2,518.1 789.3,516.2 789.4,524.7 789.6,522.5 789.7,526.4 789.8,515.4 790.0,530.0 790.1,522.4 790.2,507.9 790.4,520.2 790.5,517.6 790.7,521.6 790.8,528.2 790.9,521.0 791.1,518.2 791.2,527.4 791.3,518.8 791.5,513.1 791.6,514.3 791.7,531.3 791.9,527.5 792.0,531.6 792.1,514.5 792.3,517.5 792.4,517.0 792.6,527.2 792.7,529.1 792.8,521.2 793.0,521.1 793.1,527.3 793.2,521.0 793.4,517.8 793.5,520.6 793.6,528.7 793.8,535.6 793.9,523.9 794.0,521.2 794.2,524.0 794.3,525.1 794.4,526.9 794.6,518.0 794.7,522.9 794.9,521.9 795.0,528.9 795.1,526.7 795.3,521.8 795.4,529.3 795.5,531.0 795.7,525.2 795.8,515.5 795.9,522.0 796.1,513.9 796.2,524.2 796.3,525.4 796.5,532.3 796.6,527.2 796.8,514.4 796.9,521.6 797.0,519.0 797.2,519.3 797.3,523.9 797.4,525.2 797.6,523.2 797.7,519.8 797.8,521.2 798.0,521.0 798.1,523.2 798.2,529.2 798.4,526.0 798.5,530.4 798.6,518.1 798.8,537.9 798.9,526.0 799.1,509.5 799.2,526.9 799.3,532.0 799.5,525.0 799.6,516.7 799.7,526.0 799.9,521.2 800.0,524.5 800.1,527.6 800.3,505.2 800.4,524.9 800.5,528.8 800.7,528.6 800.8,523.1 800.9,523.0 801.1,520.7 801.2,524.8 801.4,534.9 801.5,522.5 801.6,527.9 801.8,527.8 801.9,535.4 802.0,529.7 802.2,530.8 802.3,526.5 802.4,535.5 802.6,526.0 802.7,525.6 802.8,533.6 803.0,530.5 803.1,532.0 803.3,520.9 803.4,542.8 803.5,529.0 803.7,537.4 803.8,529.7 803.9,521.6 804.1,531.0 804.2,526.2 804.3,532.5 804.5,514.9 804.6,521.5 804.7,520.2 804.9,535.8 805.0,534.5 805.1,520.7 805.3,528.9 805.4,529.3 805.6,525.6 805.7,535.8 805.8,523.0 806.0,527.8 806.1,525.0 806.2,532.3 806.4,524.9 806.5,532.7 806.6,522.2 806.8,521.2 806.9,522.6 807.0,525.2 807.2,524.5 807.3,545.7 807.5,523.4 807.6,530.4 807.7,528.2 807.9,530.6 808.0,537.7 808.1,532.4 808.3,524.9 808.4,520.1 808.5,533.1 808.7,534.9 808.8,520.1 808.9,534.9 809.1,516.3 809.2,529.1 809.3,535.1 809.5,523.4 809.6,519.0 809.8,538.8 809.9,519.9 810.0,531.6 810.2,520.5 810.3,532.4 810.4,540.0 810.6,526.9 810.7,524.3 810.8,517.0 811.0,519.4 811.1,526.0 811.2,531.9 811.4,533.8 811.5,532.4 811.6,535.8 811.8,532.4 811.9,546.8 812.1,529.7 812.2,531.0 812.3,514.7 812.5,526.2 812.6,534.1 812.7,527.5 812.9,538.9 813.0,535.0 813.1,543.1 813.3,522.3 813.4,527.7 813.5,538.9 813.7,531.9 813.8,525.6 814.0,528.5 814.1,529.3 814.2,537.2 814.4,535.9 814.5,531.3 814.6,526.2 814.8,537.2 814.9,539.1 815.0,524.9 815.2,538.1 815.3,525.5 815.4,530.8 815.6,526.9 815.7,521.5 815.8,528.2 816.0,527.7 816.1,538.4 816.3,537.1 816.4,528.7 816.5,523.2 816.7,524.1 816.8,518.4 816.9,531.1 817.1,531.8 817.2,526.8 817.3,533.1 817.5,533.7 817.6,539.9 817.7,527.2 817.9,540.2 818.0,530.3 818.2,542.5 818.3,526.7 818.4,540.2 818.6,528.5 818.7,543.8 818.8,536.6 819.0,526.5 819.1,539.1 819.2,533.6 819.4,537.1 819.5,548.7 819.6,532.3 819.8,531.6 819.9,541.3 820.0,530.8 820.2,539.5 820.3,540.9 820.5,534.6 820.6,539.0 820.7,520.4 820.9,544.6 821.0,530.2 821.1,528.7 821.3,547.4 821.4,545.9 821.5,531.6 821.7,538.2 821.8,532.8 821.9,528.1 822.1,537.7 822.2,542.1 822.4,552.6 822.5,534.3 822.6,541.4 822.8,533.7 822.9,534.3 823.0,544.5 823.2,525.0 823.3,529.1 823.4,530.6 823.6,543.4 823.7,538.6 823.8,539.6 824.0,538.8 824.1,543.3 824.2,533.6 824.4,535.0 824.5,534.2 824.7,539.7 824.8,528.5 824.9,535.5 825.1,553.8 825.2,540.8 825.3,537.2 825.5,530.8 825.6,538.8 825.7,538.6 825.9,541.2 826.0,533.0 826.1,540.0 826.3,541.0 826.4,541.9 826.5,533.9 826.7,540.7 826.8,548.0 827.0,533.6 827.1,542.0 827.2,535.4 827.4,535.4 827.5,530.3 827.6,531.3 827.8,541.5 827.9,539.0 828.0,546.1 828.2,527.6 828.3,535.4 828.4,529.5 828.6,540.3 828.7,551.1 828.9,528.8 829.0,537.9 829.1,537.7 829.3,538.2 829.4,534.6 829.5,535.4 829.7,548.7 829.8,532.0 829.9,542.2 830.1,541.8 830.2,528.2 830.3,533.3 830.5,541.2 830.6,550.7 830.7,538.2 830.9,535.9 831.0,539.8 831.2,547.2 831.3,544.4 831.4,547.3 831.6,538.2 831.7,534.5 831.8,533.3 832.0,544.3 832.1,538.4 832.2,536.4 832.4,543.1 832.5,540.9 832.6,526.8 832.8,538.8 832.9,534.7 833.1,542.9 833.2,540.0 833.3,551.0 833.5,540.6 833.6,533.0 833.7,527.5 833.9,533.1 834.0,536.4 834.1,540.4 834.3,544.5 834.4,541.8 834.5,537.1 834.7,545.8 834.8,535.2 834.9,547.2 835.1,552.2 835.2,547.5 835.4,551.6 835.5,549.8 835.6,534.3 835.8,542.7 835.9,540.1 836.0,534.3 836.2,533.8 836.3,544.8 836.4,533.5 836.6,539.4 836.7,541.8 836.8,539.1 837.0,550.8 837.1,546.9 837.2,542.7 837.4,538.3 837.5,544.5 837.7,543.0 837.8,536.3 837.9,533.6 838.1,537.7 838.2,534.6 838.3,545.0 838.5,544.5 838.6,540.7 838.7,544.6 838.9,545.9 839.0,532.6 839.1,544.1 839.3,548.9 839.4,540.0 839.6,531.7 839.7,542.6 839.8,535.5 840.0,546.0 840.1,546.3 840.2,547.6 840.4,544.3 840.5,532.1 840.6,550.7 840.8,533.4 840.9,549.9 841.0,545.2 841.2,538.6 841.3,539.9 841.4,542.1 841.6,554.2 841.7,541.7 841.9,550.4 842.0,528.2 842.1,545.5 842.3,543.1 842.4,551.4 842.5,547.3 842.7,552.4 842.8,538.4 842.9,546.1 843.1,541.1 843.2,548.9 843.3,547.8 843.5,536.8 843.6,550.8 843.8,556.0 843.9,542.4 844.0,552.0 844.2,547.8 844.3,539.5 844.4,550.2 844.6,539.8 844.7,549.5 844.8,536.1 845.0,537.2 845.1,548.4 845.2,546.8 845.4,550.7 845.5,544.4 845.6,538.6 845.8,554.7 845.9,540.1 846.1,554.0 846.2,551.2 846.3,557.0 846.5,533.0 846.6,545.7 846.7,544.6 846.9,550.4 847.0,539.7 847.1,559.3 847.3,546.2 847.4,532.8 847.5,548.8 847.7,546.4 847.8,542.4 848.0,551.7 848.1,546.6 848.2,540.8 848.4,545.6 848.5,544.6 848.6,549.1 848.8,545.0 848.9,546.7 849.0,538.1 849.2,542.7 849.3,548.7 849.4,562.4 849.6,542.9 849.7,542.7 849.8,553.1 850.0,559.8 850.1,554.6 850.3,541.9 850.4,554.2 850.5,550.6 850.7,546.4 850.8,540.3 850.9,548.0 851.1,548.6 851.2,551.4 851.3,538.0 851.5,541.6 851.6,548.8 851.7,556.9 851.9,553.2 852.0,544.8 852.1,552.9 852.3,543.0 852.4,546.3 852.6,546.8 852.7,544.6 852.8,545.6 853.0,554.0 853.1,550.8 853.2,534.5 853.4,556.4 853.5,551.9 853.6,542.5 853.8,550.1 853.9,554.2 854.0,557.4 854.2,546.0 854.3,543.0 854.5,540.8 854.6,549.1 854.7,543.1 854.9,555.9 855.0,548.6 855.1,553.8 855.3,548.6 855.4,545.2 855.5,543.2 855.7,556.0 855.8,542.1 855.9,552.9 856.1,556.4 856.2,551.2 856.3,559.2 856.5,550.2 856.6,548.5 856.8,551.6 856.9,547.1 857.0,552.4 857.2,550.5 857.3,559.4 857.4,550.4 857.6,555.9 857.7,553.5 857.8,551.4 858.0,549.7 858.1,561.0 858.2,560.5 858.4,552.9 858.5,548.1 858.7,548.9 858.8,545.7 858.9,543.2 859.1,548.2 859.2,551.5 859.3,557.7 859.5,557.3 859.6,554.4 859.7,549.9 859.9,550.3 860.0,551.6 860.1,552.7 860.3,547.9 860.4,550.6 860.5,550.1 860.7,550.1 860.8,555.4 861.0,558.4 861.1,549.1 861.2,549.6 861.4,553.6 861.5,554.8 861.6,538.4 861.8,557.0 861.9,553.8 862.0,550.9 862.2,559.6 862.3,551.9 862.4,541.7 862.6,547.0 862.7,548.9 862.8,549.2 863.0,552.2 863.1,547.1 863.3,554.0 863.4,555.6 863.5,552.5 863.7,547.6 863.8,551.2 863.9,549.1 864.1,565.7 864.2,546.1 864.3,539.1 864.5,545.3 864.6,555.5 864.7,558.8 864.9,552.0 865.0,559.8 865.2,549.3 865.3,557.0 865.4,548.0 865.6,545.6 865.7,566.4 865.8,552.3 866.0,558.4 866.1,562.8 866.2,558.0 866.4,555.6 866.5,548.0 866.6,563.7 866.8,548.0 866.9,542.1 867.0,550.9 867.2,551.3 867.3,554.7 867.5,561.9 867.6,551.5 867.7,552.5 867.9,550.4 868.0,539.2 868.1,550.5 868.3,552.4 868.4,545.5 868.5,563.4 868.7,562.2 868.8,557.5 868.9,559.3 869.1,551.1 869.2,557.4 869.4,544.8 869.5,546.2 869.6,550.9 869.8,558.0 869.9,551.9 870.0,550.8 870.2,562.3 870.3,553.7 870.4,551.6 870.6,554.6 870.7,546.4 870.8,548.7 871.0,561.2 871.1,555.4 871.2,561.3 871.4,552.7 871.5,561.6 871.7,550.8 871.8,554.1 871.9,550.6 872.1,557.4 872.2,565.5 872.3,545.9 872.5,557.8 872.6,548.4 872.7,554.2 872.9,552.8 873.0,545.8 873.1,554.9 873.3,548.5 873.4,566.1 873.6,551.8 873.7,558.7 873.8,558.1 874.0,557.3 874.1,555.2 874.2,547.3 874.4,568.8 874.5,557.3 874.6,561.9 874.8,550.5 874.9,560.3 875.0,555.0 875.2,560.2 875.3,553.8 875.4,551.7 875.6,560.4 875.7,557.7 875.9,566.7 876.0,556.2 876.1,553.0 876.3,561.6 876.4,551.5 876.5,570.9 876.7,569.6 876.8,566.9 876.9,561.4 877.1,558.4 877.2,559.1 877.3,559.0 877.5,554.3 877.6,561.6 877.7,566.5 877.9,566.4 878.0,546.1 878.2,573.3 878.3,560.1 878.4,550.2 878.6,556.2 878.7,564.2 878.8,559.2 879.0,554.0 879.1,552.0 879.2,564.8 879.4,554.8 879.5,558.0 879.6,552.8 879.8,551.2 879.9,561.7 880.1,568.5 880.2,557.4 880.3,549.0 880.5,555.7 880.6,558.5 880.7,545.4 880.9,566.3 881.0,554.6 881.1,563.6 881.3,559.9 881.4,559.7 881.5,551.1 881.7,566.0 881.8,563.6 881.9,570.1 882.1,557.5 882.2,563.3 882.4,558.0 882.5,567.2 882.6,562.9 882.8,554.5 882.9,561.9 883.0,557.1 883.2,557.7 883.3,563.1 883.4,570.5 883.6,555.1 883.7,560.1 883.8,555.2 884.0,573.4 884.1,571.3 884.3,574.3 884.4,566.7 884.5,555.1 884.7,558.1 884.8,561.8 884.9,560.8 885.1,557.0 885.2,563.5 885.3,559.4 885.5,561.0 885.6,575.1 885.7,564.2 885.9,553.7 886.0,564.4 886.1,562.9 886.3,565.8 886.4,565.1 886.6,555.4 886.7,563.9 886.8,568.5 887.0,581.2 887.1,565.9 887.2,574.4 887.4,573.6 887.5,557.8 887.6,558.4 887.8,574.3 887.9,557.6 888.0,560.0 888.2,567.6 888.3,558.5 888.4,572.8 888.6,570.3 888.7,571.8 888.9,569.8 889.0,557.8 889.1,571.3 889.3,570.2 889.4,569.1 889.5,562.2 889.7,565.5 889.8,558.3 889.9,567.8 890.1,571.4 890.2,566.7 890.3,563.5 890.5,569.4 890.6,562.1 890.8,552.9 890.9,567.4 891.0,563.7 891.2,555.9 891.3,568.0 891.4,569.3 891.6,570.8 891.7,561.9 891.8,561.2 892.0,565.3 892.1,564.2 892.2,556.8 892.4,559.3 892.5,573.1 892.6,564.7 892.8,564.1 892.9,560.4 893.1,566.2 893.2,568.8 893.3,567.7 893.5,575.7 893.6,565.2 893.7,568.7 893.9,562.4 894.0,571.4 894.1,567.9 894.3,571.3 894.4,571.8 894.5,561.2 894.7,568.3 894.8,562.9 895.0,572.4 895.1,565.1 895.2,575.9 895.4,568.7 895.5,568.9 895.6,562.4 895.8,564.9 895.9,567.1 896.0,561.0 896.2,565.0 896.3,562.9 896.4,561.6 896.6,566.7 896.7,568.1 896.8,564.4 897.0,569.0 897.1,564.2 897.3,559.9 897.4,561.5 897.5,569.0 897.7,574.4 897.8,567.1 897.9,567.6 898.1,560.2 898.2,569.2 898.3,568.2 898.5,562.6 898.6,569.9 898.7,568.1 898.9,556.9 899.0,558.3 899.2,563.5 899.3,565.7 899.4,573.2 899.6,564.1 899.7,567.1 899.8,566.2 900.0,570.7 900.1,567.7 900.2,568.8 900.4,565.8 900.5,559.2 900.6,565.7 900.8,577.8 900.9,573.8 901.0,577.5 901.2,572.8 901.3,564.7 901.5,565.7 901.6,571.8 901.7,566.6 901.9,572.8 902.0,576.9 902.1,576.8 902.3,573.6 902.4,560.0 902.5,576.6 902.7,561.1 902.8,560.7 902.9,569.8 903.1,569.0 903.2,572.5 903.3,569.0 903.5,565.0 903.6,568.9 903.8,563.0 903.9,561.9 904.0,567.0 904.2,567.2 904.3,569.6 904.4,567.2 904.6,576.0 904.7,566.9 904.8,568.2 905.0,574.6 905.1,556.6 905.2,575.4 905.4,574.8 905.5,568.0 905.7,581.3 905.8,574.5 905.9,578.9 906.1,575.7 906.2,570.7 906.3,568.1 906.5,563.4 906.6,565.2 906.7,563.0 906.9,566.6 907.0,573.0 907.1,563.6 907.3,573.2 907.4,574.0 907.5,561.3 907.7,565.7 907.8,569.2 908.0,566.1 908.1,565.4 908.2,578.8 908.4,571.3 908.5,577.8 908.6,570.1 908.8,574.9 908.9,562.8 909.0,567.9 909.2,575.9 909.3,571.2 909.4,578.4 909.6,570.9 909.7,567.9 909.9,569.7 910.0,582.9 910.1,573.4 910.3,568.4 910.4,569.6 910.5,564.6 910.7,579.3 910.8,568.5 910.9,575.6 911.1,570.5 911.2,569.3 911.3,567.7 911.5,575.3 911.6,570.8 911.7,578.9 911.9,580.4 912.0,568.7 912.2,572.4 912.3,581.8 912.4,577.3 912.6,572.1 912.7,563.0 912.8,566.1 913.0,567.6 913.1,583.1 913.2,573.1 913.4,569.7 913.5,570.2 913.6,570.2 913.8,574.1 913.9,562.2 914.0,564.0 914.2,573.4 914.3,578.8 914.5,560.7 914.6,576.3 914.7,565.9 914.9,561.7 915.0,578.8 915.1,571.5 915.3,575.3 915.4,570.2 915.5,571.4 915.7,561.8 915.8,569.9 915.9,573.5 916.1,566.8 916.2,575.2 916.4,575.8 916.5,560.3 916.6,578.6 916.8,576.7 916.9,573.6 917.0,580.2 917.2,586.5 917.3,567.7 917.4,578.7 917.6,577.3 917.7,576.3 917.8,580.0 918.0,580.6 918.1,573.3 918.2,560.0 918.4,570.0 918.5,569.9 918.7,583.4 918.8,574.6 918.9,581.6 919.1,570.0 919.2,576.0 919.3,574.5 919.5,575.3 919.6,578.3 919.7,583.9 919.9,571.4 920.0,583.2 920.1,582.0 920.3,576.8 920.4,579.3 920.6,573.6 920.7,569.1 920.8,573.7 921.0,574.1 921.1,575.2 921.2,570.2 921.4,586.4 921.5,573.3 921.6,581.1 921.8,582.9 921.9,575.6 922.0,578.0 922.2,572.2 922.3,569.2 922.4,589.6 922.6,576.3 922.7,564.2 922.9,570.8 923.0,567.4 923.1,575.4 923.3,584.6 923.4,582.8 923.5,571.9 923.7,570.5 923.8,580.6 923.9,577.9 924.1,574.8 924.2,586.8 924.3,578.5 924.5,566.9 924.6,563.5 924.8,577.2 924.9,565.7 925.0,579.8 925.2,581.6 925.3,590.1 925.4,571.1 925.6,579.1 925.7,563.0 925.8,575.0 926.0,575.9 926.1,587.8 926.2,568.2 926.4,579.3 926.5,578.2 926.6,590.4 926.8,571.8 926.9,571.5 927.1,581.0 927.2,576.9 927.3,575.1 927.5,571.8 927.6,577.0 927.7,567.4 927.9,579.1 928.0,581.3 928.1,580.5 928.3,592.9 928.4,582.7 928.5,571.9 928.7,576.4 928.8,582.9 928.9,576.0 929.1,590.1 929.2,579.8 929.4,575.1 929.5,574.1 929.6,582.9 929.8,572.9 929.9,567.2 930.0,580.9 930.2,574.0 930.3,587.8 930.4,590.2 930.6,574.9 930.7,578.4 930.8,577.5 931.0,582.2 931.1,580.5 931.3,574.0 931.4,568.7 931.5,580.2 931.7,588.8 931.8,571.4 931.9,575.5 932.1,575.0 932.2,578.1 932.3,565.4 932.5,578.8 932.6,576.2 932.7,590.3 932.9,582.8 933.0,583.5 933.1,579.6 933.3,577.4 933.4,584.0 933.6,569.3 933.7,586.0 933.8,582.4 934.0,578.3 934.1,587.2 934.2,576.4 934.4,576.1 934.5,581.7 934.6,568.6 934.8,579.5 934.9,578.4 935.0,585.8 935.2,590.1 935.3,583.9 935.5,582.2 935.6,583.0 935.7,575.8 935.9,594.5 936.0,587.2 936.1,591.3 936.3,572.6 936.4,583.9 936.5,583.7 936.7,587.2 936.8,575.4 936.9,583.2 937.1,579.5 937.2,592.9 937.3,573.9 937.5,578.6 937.6,577.7 937.8,573.7 937.9,582.2 938.0,582.1 938.2,576.9 938.3,578.7 938.4,582.7 938.6,581.0 938.7,584.3 938.8,577.1 939.0,575.9 939.1,581.4 939.2,570.4 939.4,590.7 939.5,583.0 939.6,571.5 939.8,584.2 939.9,591.2 940.1,573.5 940.2,578.6 940.3,589.0 940.5,577.3 940.6,588.0 940.7,590.0 940.9,583.0 941.0,585.0 941.1,588.7 941.3,584.4 941.4,588.2 941.5,581.9 941.7,582.5 941.8,578.0 942.0,585.1 942.1,590.4 942.2,590.3 942.4,584.0 942.5,573.5 942.6,577.6 942.8,586.5 942.9,577.2 943.0,589.7 943.2,576.8 943.3,585.1 943.4,578.4 943.6,579.3 943.7,584.7 943.8,581.1 944.0,589.4 944.1,583.6 944.3,576.8 944.4,559.0 944.5,579.1 944.7,582.8 944.8,589.4 944.9,577.1 945.1,593.3 945.2,588.3 945.3,581.4 945.5,590.7 945.6,574.5 945.7,577.2 945.9,587.1 946.0,587.1 946.2,591.6 946.3,592.2 946.4,581.3 946.6,580.3 946.7,581.9 946.8,582.5 947.0,587.4 947.1,582.0 947.2,592.9 947.4,584.2 947.5,575.5 947.6,576.5 947.8,587.1 947.9,586.4 948.0,576.3 948.2,573.9 948.3,593.4 948.5,587.1 948.6,583.2 948.7,577.5 948.9,589.7 949.0,581.0 949.1,586.6 949.3,570.8 949.4,582.3 949.5,585.7 949.7,587.0 949.8,578.8 949.9,581.0 950.1,591.5 950.2,583.9 950.4,593.1 950.5,589.7 950.6,592.9 950.8,593.2 950.9,589.4 951.0,591.2 951.2,582.3 951.3,580.8 951.4,587.0 951.6,592.2 951.7,580.9 951.8,597.7 952.0,597.2 952.1,581.5 952.2,581.9 952.4,580.1 952.5,587.2 952.7,593.4 952.8,589.0 952.9,582.7 953.1,590.6 953.2,590.3 953.3,594.4 953.5,593.1 953.6,581.3 953.7,583.6 953.9,593.2 954.0,592.8 954.1,589.8 954.3,583.2 954.4,593.4 954.5,587.6 954.7,599.3 954.8,594.1 955.0,584.2 955.1,581.4 955.2,593.6 955.4,591.4 955.5,582.2 955.6,589.2 955.8,590.2 955.9,583.9 956.0,585.9 956.2,580.5 956.3,582.4 956.4,590.6 956.6,587.9 956.7,587.6 956.9,595.3 957.0,593.1 957.1,581.7 957.3,596.8 957.4,581.6 957.5,585.8 957.7,588.4 957.8,584.4 957.9,584.8 958.1,580.6 958.2,590.1 958.3,589.1 958.5,589.3 958.6,576.8 958.7,582.3 958.9,593.4 959.0,590.0 959.2,592.2 959.3,588.0 959.4,586.9 959.6,574.6 959.7,599.0 959.8,582.2 960.0,585.7 960.1,592.5 960.2,589.3 960.4,591.3 960.5,588.2 960.6,582.6 960.8,597.5 960.9,580.9 961.1,590.8 961.2,579.8 961.3,586.3 961.5,581.5 961.6,585.5 961.7,582.4 961.9,588.5 962.0,593.8 962.1,585.0 962.3,584.8 962.4,576.7 962.5,600.9 962.7,590.3 962.8,582.9 962.9,596.6 963.1,590.6 963.2,576.8 963.4,581.0 963.5,594.6 963.6,581.0 963.8,582.5 963.9,584.9 964.0,587.3 964.2,588.2 964.3,594.7 964.4,592.7 964.6,585.4 964.7,588.9 964.8,578.9 965.0,591.8 965.1,604.0 965.2,591.9 965.4,588.3 965.5,587.8 965.7,589.6 965.8,594.9 965.9,581.3 966.1,594.1 966.2,586.0 966.3,591.9 966.5,597.3 966.6,582.0 966.7,605.1 966.9,595.4 967.0,587.9 967.1,592.6 967.3,586.1 967.4,591.2 967.6,593.3 967.7,578.0 967.8,592.0 968.0,591.7 968.1,597.1 968.2,595.2 968.4,587.0 968.5,587.6 968.6,590.9 968.8,595.1 968.9,587.0 969.0,601.0 969.2,593.1 969.3,592.6 969.4,596.1 969.6,590.3 969.7,595.2 969.9,596.0 970.0,580.8 970.1,587.0 970.3,584.4 970.4,591.1 970.5,585.8 970.7,587.0 970.8,584.5 970.9,577.7 971.1,593.0 971.2,590.2 971.3,592.0 971.5,612.3 971.6,600.0 971.8,591.7 971.9,588.2 972.0,595.3 972.2,585.3 972.3,584.5 972.4,594.5 972.6,583.7 972.7,581.9 972.8,589.4 973.0,597.9 973.1,583.6 973.2,593.2 973.4,594.5 973.5,591.7 973.6,595.5 973.8,586.2 973.9,587.9 974.1,585.4 974.2,589.1 974.3,597.2 974.5,593.6 974.6,587.5 974.7,595.1 974.9,575.7 975.0,594.2 975.1,596.3 975.3,586.2 975.4,588.5 975.5,593.1 975.7,594.3 975.8,590.6 976.0,588.2 976.1,588.7 976.2,594.9 976.4,590.7 976.5,588.3 976.6,588.8 976.8,611.4 976.9,598.6 977.0,598.0 977.2,594.8 977.3,592.5 977.4,588.2 977.6,590.0 977.7,594.4 977.8,593.5 978.0,583.4 978.1,597.3 978.3,592.0 978.4,584.7 978.5,591.9 978.7,605.8 978.8,591.8 978.9,596.3 979.1,594.7 979.2,587.9 979.3,591.4 979.5,595.7 979.6,589.0 979.7,591.7 979.9,593.7 980.0,592.6 980.1,592.9 980.3,596.4 980.4,597.1 980.6,594.4 980.7,600.1 980.8,601.9 981.0,587.0 981.1,596.1 981.2,594.8 981.4,595.5 981.5,594.7 981.6,594.7 981.8,594.5 981.9,599.6 982.0,589.5 982.2,599.0 982.3,589.0 982.5,606.3 982.6,601.3 982.7,589.4 982.9,596.1 983.0,599.2 983.1,593.1 983.3,601.4 983.4,594.9 983.5,608.3 983.7,598.1 983.8,599.3 983.9,592.4 984.1,590.5 984.2,600.6 984.3,586.3 984.5,599.1 984.6,607.7 984.8,609.6 984.9,586.8 985.0,596.4 985.2,599.7 985.3,600.3 985.4,602.3 985.6,588.1 985.7,596.5 985.8,585.7 986.0,597.3 986.1,609.9 986.2,591.3 986.4,598.4 986.5,597.7 986.7,587.2 986.8,597.9 986.9,589.7 987.1,596.5 987.2,600.9 987.3,593.6 987.5,600.1 987.6,589.5 987.7,591.1 987.9,596.3 988.0,593.2 988.1,593.5 988.3,598.4 988.4,591.7 988.5,598.2 988.7,593.4 988.8,602.5 989.0,596.4 989.1,594.7 989.2,601.7 989.4,599.6 989.5,600.3 989.6,593.0 989.8,601.4 989.9,594.7 990.0,588.5 990.2,595.3 990.3,606.8 990.4,596.7 990.6,591.4 990.7,599.2 990.9,591.1 991.0,594.0 991.1,595.2 991.3,599.2 991.4,600.7 991.5,599.2 991.7,597.4 991.8,594.8 991.9,595.4 992.1,599.7 992.2,597.6 992.3,595.7 992.5,607.5 992.6,602.5 992.7,602.7 992.9,599.3 993.0,599.8 993.2,599.7 993.3,603.3 993.4,594.4 993.6,596.7 993.7,607.9 993.8,598.3 994.0,605.0 994.1,588.6 994.2,601.2 994.4,600.8 994.5,598.1 994.6,599.8 994.8,599.0 994.9,589.7 995.0,597.4 995.2,593.9 995.3,592.3 995.5,604.5 995.6,589.1 995.7,594.9 995.9,593.4 996.0,604.0 996.1,594.3 996.3,596.7 996.4,602.3 996.5,585.9 996.7,595.9 996.8,600.6 996.9,598.2 997.1,594.0 997.2,592.8 997.4,596.0 997.5,592.4 997.6,591.0 997.8,606.7 997.9,602.4 998.0,605.1 998.2,599.1 998.3,591.3 998.4,595.9 998.6,605.8 998.7,601.5 998.8,593.9 999.0,603.0 999.1,600.5 999.2,598.2 999.4,610.6 999.5,595.5 999.7,598.1 999.8,596.8 999.9,605.8 1000.1,604.6 1000.2,603.7 1000.3,598.8 1000.5,599.9 1000.6,599.6 1000.7,590.0 1000.9,592.9 1001.0,604.6 1001.1,604.3 1001.3,590.6 1001.4,602.4 1001.6,592.6 1001.7,591.4 1001.8,603.8 1002.0,602.3 1002.1,600.3 1002.2,605.8 1002.4,606.5 1002.5,603.2 1002.6,596.0 1002.8,603.6 1002.9,602.2 1003.0,603.8 1003.2,609.0 1003.3,592.5 1003.4,614.7 1003.6,605.0 1003.7,598.0 1003.9,609.4 1004.0,597.8 1004.1,594.1 1004.3,606.4 1004.4,600.2 1004.5,607.9 1004.7,598.6 1004.8,601.1 1004.9,600.4 1005.1,593.7 1005.2,599.0 1005.3,593.9 1005.5,598.1 1005.6,608.7 1005.7,600.3 1005.9,599.0 1006.0,610.3 1006.2,594.2 1006.3,601.6 1006.4,599.9 1006.6,607.3 1006.7,601.7 1006.8,600.4 1007.0,604.1 1007.1,601.8 1007.2,614.5 1007.4,594.4 1007.5,608.8 1007.6,615.0 1007.8,608.0 1007.9,607.3 1008.1,599.4 1008.2,607.8 1008.3,600.9 1008.5,608.2 1008.6,589.9 1008.7,599.5 1008.9,591.4 1009.0,608.6 1009.1,599.0 1009.3,608.4 1009.4,599.5 1009.5,599.0 1009.7,612.2 1009.8,609.6 1009.9,609.8 1010.1,611.8 1010.2,607.4 1010.4,608.7 1010.5,611.6 1010.6,602.7 1010.8,600.1 1010.9,610.9 1011.0,606.6 1011.2,603.4 1011.3,604.8 1011.4,607.5 1011.6,598.9 1011.7,598.7 1011.8,599.7 1012.0,604.9 1012.1,592.2 1012.3,593.7 1012.4,606.1 1012.5,604.5 1012.7,597.0 1012.8,608.5 1012.9,601.6 1013.1,603.7 1013.2,608.1 1013.3,605.4 1013.5,613.2 1013.6,607.3 1013.7,615.7 1013.9,591.0 1014.0,595.5 1014.1,597.2 1014.3,602.6 1014.4,598.6 1014.6,597.1 1014.7,598.6 1014.8,599.2 1015.0,609.8 1015.1,602.1 1015.2,607.7 1015.4,611.5 1015.5,611.3 1015.6,602.3 1015.8,598.7 1015.9,612.7 1016.0,594.8 1016.2,596.4 1016.3,607.1 1016.5,607.6 1016.6,605.4 1016.7,599.4 1016.9,607.3 1017.0,611.5 1017.1,603.2 1017.3,617.1 1017.4,604.4 1017.5,598.6 1017.7,603.6 1017.8,600.9 1017.9,602.5 1018.1,601.2 1018.2,604.6 1018.3,610.3 1018.5,606.8 1018.6,606.0 1018.8,598.4 1018.9,596.3 1019.0,603.3 1019.2,610.1 1019.3,610.0 1019.4,606.9 1019.6,597.8 1019.7,604.0 1019.8,606.2 1020.0,610.4 1020.1,600.9 1020.2,604.4 1020.4,606.4 1020.5,605.5 1020.6,596.4 1020.8,607.1 1020.9,596.5 1021.1,599.1 1021.2,606.0 1021.3,601.2 1021.5,607.1 1021.6,611.2 1021.7,608.0 1021.9,611.7 1022.0,603.6 1022.1,606.5 1022.3,603.3 1022.4,601.9 1022.5,624.7 1022.7,604.9 1022.8,617.1 1023.0,605.8 1023.1,611.9 1023.2,606.3 1023.4,599.0 1023.5,616.8 1023.6,605.9 1023.8,607.5 1023.9,617.9 1024.0,603.3 1024.2,606.9 1024.3,610.1 1024.4,611.4 1024.6,588.7 1024.7,609.5 1024.8,617.7 1025.0,612.7 1025.1,609.5 1025.3,609.6 1025.4,607.9 1025.5,613.5 1025.7,604.4 1025.8,610.3 1025.9,615.4 1026.1,612.3 1026.2,609.9 1026.3,602.8 1026.5,605.0 1026.6,609.7 1026.7,607.7 1026.9,606.6 1027.0,596.2 1027.2,611.5 1027.3,605.3 1027.4,603.8 1027.6,613.5 1027.7,607.0 1027.8,607.2 1028.0,610.9 1028.1,604.9 1028.2,602.3 1028.4,601.8 1028.5,609.4 1028.6,607.2 1028.8,594.8 1028.9,614.8 1029.0,607.2 1029.2,603.4 1029.3,607.7 1029.5,604.8 1029.6,607.6 1029.7,604.3 1029.9,601.3 1030.0,610.0 1030.1,607.6 1030.3,609.1 1030.4,611.1 1030.5,609.0 1030.7,615.4 1030.8,604.6 1030.9,599.2 1031.1,599.2 1031.2,601.7 1031.3,614.6 1031.5,600.4 1031.6,613.3 1031.8,609.5 1031.9,598.6 1032.0,615.4 1032.2,604.5 1032.3,607.7 1032.4,610.2 1032.6,614.4 1032.7,607.0 1032.8,612.1 1033.0,603.5 1033.1,602.5 1033.2,617.5 1033.4,612.5 1033.5,611.5 1033.7,616.5 1033.8,616.1 1033.9,609.3 1034.1,611.0 1034.2,619.3 1034.3,613.0 1034.5,606.9 1034.6,616.9 1034.7,615.3 1034.9,600.9 1035.0,602.5 1035.1,619.4 1035.3,617.9 1035.4,608.0 1035.5,617.0 1035.7,611.7 1035.8,612.9 1036.0,607.1 1036.1,624.9 1036.2,623.0 1036.4,617.5 1036.5,604.6 1036.6,611.4 1036.8,620.3 1036.9,607.7 1037.0,606.5 1037.2,612.0 1037.3,612.6 1037.4,608.2 1037.6,603.8 1037.7,609.9 1037.9,607.7 1038.0,611.1 1038.1,613.1 1038.3,616.2 1038.4,609.5 1038.5,612.7 1038.7,612.4 1038.8,605.7 1038.9,608.3 1039.1,606.1 1039.2,620.2 1039.3,608.0 1039.5,614.6 1039.6,615.9 1039.7,616.2 1039.9,604.4 1040.0,606.6 1040.2,615.5 1040.3,618.0 1040.4,611.4 1040.6,614.2 1040.7,602.0 1040.8,620.0 1041.0,622.1 1041.1,613.1 1041.2,611.6 1041.4,611.0 1041.5,607.5 1041.6,599.9 1041.8,613.8 1041.9,615.0 1042.1,622.0 1042.2,610.6 1042.3,607.1 1042.5,613.5 1042.6,605.3 1042.7,611.9 1042.9,603.4 1043.0,610.3 1043.1,618.3 1043.3,615.9 1043.4,621.1 1043.5,622.3 1043.7,610.8 1043.8,607.4 1043.9,601.2 1044.1,612.8 1044.2,613.8 1044.4,618.9 1044.5,606.9 1044.6,610.4 1044.8,616.0 1044.9,608.7 1045.0,609.5 1045.2,623.4 1045.3,608.5 1045.4,612.0 1045.6,615.1 1045.7,615.3 1045.8,602.9 1046.0,604.1 1046.1,602.5 1046.2,619.6 1046.4,616.8 1046.5,607.9 1046.7,620.0 1046.8,617.3 1046.9,623.5 1047.1,602.6 1047.2,607.2 1047.3,610.7 1047.5,612.1 1047.6,615.7 1047.7,615.7 1047.9,609.9 1048.0,617.5 1048.1,606.5 1048.3,616.4 1048.4,618.6 1048.6,606.2 1048.7,614.5 1048.8,610.5 1049.0,616.1 1049.1,626.6 1049.2,610.6 1049.4,621.5 1049.5,607.7 1049.6,622.8 1049.8,624.6 1049.9,612.2 1050.0,611.6 1050.2,613.4 1050.3,621.0 1050.4,609.0 1050.6,622.5 1050.7,616.8 1050.9,618.7 1051.0,616.4 1051.1,609.4 1051.3,617.9 1051.4,611.1 1051.5,610.4 1051.7,624.2 1051.8,621.1 1051.9,616.7 1052.1,617.9 1052.2,612.8 1052.3,625.6 1052.5,610.5 1052.6,610.4 1052.8,615.6 1052.9,622.6 1053.0,614.7 1053.2,617.9 1053.3,611.6 1053.4,615.3 1053.6,610.7 1053.7,617.4 1053.8,606.7 1054.0,628.2 1054.1,620.8 1054.2,612.3 1054.4,623.7 1054.5,610.9 1054.6,622.1 1054.8,614.7 1054.9,620.5 1055.1,617.8 1055.2,614.3 1055.3,615.9 1055.5,617.6 1055.6,603.1 1055.7,615.4 1055.9,621.0 1056.0,610.2 1056.1,610.9 1056.3,608.6 1056.4,605.4 1056.5,621.0 1056.7,609.6 1056.8,609.2 1056.9,615.7 1057.1,614.4 1057.2,633.0 1057.4,619.1 1057.5,605.7 1057.6,626.1 1057.8,619.0 1057.9,614.3 1058.0,612.7 1058.2,606.7 1058.3,626.2 1058.4,615.9 1058.6,611.3 1058.7,623.7 1058.8,616.5 1059.0,605.5 1059.1,608.8 1059.3,613.3 1059.4,631.3 1059.5,617.1 1059.7,614.2 1059.8,618.2 1059.9,616.9 1060.1,598.9 1060.2,617.8 1060.3,622.1 1060.5,615.3 1060.6,618.5 1060.7,618.5 1060.9,617.2 1061.0,612.4 1061.1,615.5 1061.3,623.7 1061.4,617.6 1061.6,614.2 1061.7,619.6 1061.8,610.4 1062.0,612.6 1062.1,622.7 1062.2,615.3 1062.4,605.8 1062.5,608.2 1062.6,617.5 1062.8,612.1 1062.9,621.1 1063.0,625.5 1063.2,614.2 1063.3,615.9 1063.5,614.4 1063.6,617.6 1063.7,615.6 1063.9,620.4 1064.0,614.8 1064.1,612.8 1064.3,617.9 1064.4,613.0 1064.5,627.8 1064.7,622.2 1064.8,609.5 1064.9,607.7 1065.1,616.4 1065.2,618.4 1065.3,625.1 1065.5,615.8 1065.6,613.5 1065.8,626.4 1065.9,614.8 1066.0,615.2 1066.2,615.5 1066.3,624.5 1066.4,615.0 1066.6,626.7 1066.7,609.7 1066.8,617.5 1067.0,624.9 1067.1,610.6 1067.2,611.7 1067.4,622.1 1067.5,605.8 1067.7,624.1 1067.8,616.7 1067.9,611.7 1068.1,631.5 1068.2,612.8 1068.3,619.0 1068.5,618.7 1068.6,624.8 1068.7,616.8 1068.9,625.0 1069.0,624.3 1069.1,621.3 1069.3,625.8 1069.4,609.9 1069.5,626.5 1069.7,623.2 1069.8,620.8 1070.0,619.0 1070.1,614.5 1070.2,614.4 1070.4,620.8 1070.5,621.3 1070.6,619.0 1070.8,614.5 1070.9,615.2 1071.0,622.2 1071.2,631.0 1071.3,607.1 1071.4,613.9 1071.6,617.9 1071.7,617.5 1071.8,622.4 1072.0,625.2 1072.1,621.4 1072.3,620.8 1072.4,623.1 1072.5,627.9 1072.7,621.4 1072.8,616.4 1072.9,622.5 1073.1,619.6 1073.2,631.6 1073.3,621.0 1073.5,620.5 1073.6,626.9 1073.7,629.8 1073.9,617.6 1074.0,624.6 1074.2,617.2 1074.3,622.4 1074.4,616.5 1074.6,622.0 1074.7,628.7 1074.8,620.7 1075.0,622.1 1075.1,616.5 1075.2,622.8 1075.4,622.5 1075.5,615.4 1075.6,613.7 1075.8,616.1 1075.9,614.5 1076.0,617.9 1076.2,616.1 1076.3,615.5 1076.5,618.3 1076.6,620.2 1076.7,619.8 1076.9,607.0 1077.0,620.6 1077.1,622.1 1077.3,622.8 1077.4,621.0 1077.5,619.4 1077.7,627.3 1077.8,632.2 1077.9,619.2 1078.1,630.1 1078.2,619.5 1078.4,620.2 1078.5,614.5 1078.6,611.6 1078.8,619.0 1078.9,624.3 1079.0,627.9 1079.2,625.7 1079.3,621.0 1079.4,633.0 1079.6,620.9 1079.7,621.4 1079.8,617.7 1080.0,623.3 1080.1,620.9 1080.2,625.7 1080.4,624.1 1080.5,631.6 1080.7,620.9 1080.8,612.8 1080.9,620.7 1081.1,619.6 1081.2,627.3 1081.3,613.6 1081.5,626.1 1081.6,617.2 1081.7,621.2 1081.9,627.3 1082.0,616.1 1082.1,621.8 1082.3,620.9 1082.4,619.4 1082.5,622.1 1082.7,624.2 1082.8,619.4 1083.0,624.4 1083.1,621.8 1083.2,626.0 1083.4,630.7 1083.5,626.1 1083.6,625.1 1083.8,622.2 1083.9,615.6 1084.0,632.0 1084.2,621.7 1084.3,635.0 1084.4,628.4 1084.6,625.4 1084.7,635.3 1084.9,633.1 1085.0,621.7 1085.1,622.2 1085.3,623.3 1085.4,627.3 1085.5,610.5 1085.7,623.7 1085.8,627.7 1085.9,613.3 1086.1,619.4 1086.2,625.0 1086.3,616.1 1086.5,622.1 1086.6,619.3 1086.7,621.7 1086.9,628.9 1087.0,617.6 1087.2,622.2 1087.3,628.9 1087.4,627.5 1087.6,617.8 1087.7,625.3 1087.8,623.0 1088.0,619.6 1088.1,622.6 1088.2,632.0 1088.4,619.8 1088.5,618.1 1088.6,618.5 1088.8,614.3 1088.9,621.5 1089.1,619.1 1089.2,614.6 1089.3,625.3 1089.5,613.8 1089.6,613.8 1089.7,619.3 1089.9,613.3 1090.0,618.9 1090.1,628.8 1090.3,617.4 1090.4,622.0 1090.5,621.6 1090.7,623.1 1090.8,616.3 1090.9,620.9 1091.1,628.0 1091.2,621.3 1091.4,620.0 1091.5,628.2 1091.6,626.6 1091.8,626.4 1091.9,627.7 1092.0,622.3 1092.2,618.5 1092.3,613.6 1092.4,617.6 1092.6,618.6 1092.7,617.9 1092.8,616.9 1093.0,626.6 1093.1,620.6 1093.3,622.7 1093.4,625.3 1093.5,627.2 1093.7,627.5 1093.8,626.2 1093.9,631.7 1094.1,621.8 1094.2,624.9 1094.3,624.2 1094.5,622.9 1094.6,620.7 1094.7,628.2 1094.9,625.5 1095.0,634.1 1095.1,637.6 1095.3,636.0 1095.4,616.3 1095.6,635.4 1095.7,622.4 1095.8,616.8 1096.0,627.8 1096.1,616.0 1096.2,614.7 1096.4,619.9 1096.5,611.8 1096.6,621.8 1096.8,629.5 1096.9,622.4 1097.0,627.9 1097.2,632.8 1097.3,632.7 1097.4,612.4 1097.6,628.6 1097.7,625.7 1097.9,629.3 1098.0,624.8 1098.1,627.0 1098.3,628.0 1098.4,632.5 1098.5,633.7 1098.7,629.9 1098.8,624.1 1098.9,614.0 1099.1,619.8 1099.2,615.5 1099.3,623.1 1099.5,626.4 1099.6,633.4 1099.8,625.9 1099.9,638.1 1100.0,627.7 1100.2,616.8 1100.3,624.2 1100.4,619.7 1100.6,628.3 1100.7,633.9 1100.8,628.9 1101.0,628.4 1101.1,619.4 1101.2,615.1 1101.4,630.5 1101.5,628.3 1101.6,627.1 1101.8,628.3 1101.9,633.4 1102.1,625.9 1102.2,624.4 1102.3,624.3 1102.5,633.3 1102.6,627.2 1102.7,636.4 1102.9,621.4 1103.0,632.4 1103.1,628.2 1103.3,629.2 1103.4,630.0 1103.5,632.7 1103.7,636.8 1103.8,617.0 1104.0,625.4 1104.1,625.3 1104.2,615.0 1104.4,627.5 1104.5,623.8 1104.6,626.8 1104.8,620.3 1104.9,624.2 1105.0,625.3 1105.2,628.5 1105.3,625.5 1105.4,620.5 1105.6,638.9 1105.7,627.9 1105.8,629.6 1106.0,628.9 1106.1,638.5 1106.3,623.2 1106.4,632.1 1106.5,628.7 1106.7,630.2 1106.8,636.9 1106.9,630.0 1107.1,637.9 1107.2,632.8 1107.3,629.3 1107.5,627.6 1107.6,627.3 1107.7,628.4 1107.9,615.6 1108.0,625.2 1108.1,634.6 1108.3,631.2 1108.4,631.5 1108.6,628.8 1108.7,631.3 1108.8,632.7 1109.0,618.6 1109.1,627.7 1109.2,629.9 1109.4,629.4 1109.5,629.3 1109.6,620.2 1109.8,625.4 1109.9,621.8 1110.0,645.8 1110.2,626.3 1110.3,622.2 1110.5,617.1 1110.6,628.1 1110.7,638.0 1110.9,625.0 1111.0,631.7 1111.1,638.5 1111.3,631.9 1111.4,622.5 1111.5,621.7 1111.7,624.4 1111.8,634.4 1111.9,614.3 1112.1,635.2 1112.2,629.1 1112.3,636.8 1112.5,621.2 1112.6,626.2 1112.8,623.7 1112.9,628.2 1113.0,629.2 1113.2,627.8 1113.3,639.5 1113.4,623.2 1113.6,623.7 1113.7,631.1 1113.8,629.0 1114.0,627.3 1114.1,620.1 1114.2,626.6 1114.4,628.8 1114.5,632.0 1114.7,637.6 1114.8,632.5 1114.9,628.8 1115.1,630.6 1115.2,628.8 1115.3,625.0 1115.5,626.8 1115.6,627.8 1115.7,625.6 1115.9,628.3 1116.0,629.6 1116.1,626.8 1116.3,639.2 1116.4,622.4 1116.5,636.8 1116.7,624.8 1116.8,629.5 1117.0,623.3 1117.1,629.4 1117.2,635.0 1117.4,623.6 1117.5,628.7 1117.6,629.1 1117.8,629.3 1117.9,624.1 1118.0,625.2 1118.2,628.5 1118.3,638.6 1118.4,632.2 1118.6,629.3 1118.7,619.8 1118.9,627.8 1119.0,630.5 1119.1,623.3 1119.3,630.7 1119.4,630.2 1119.5,629.2 1119.7,638.6 1119.8,624.8 1119.9,627.8 1120.1,631.8 1120.2,636.7 1120.3,629.1 1120.5,622.4 1120.6,634.0 1120.7,636.4 1120.9,628.0 1121.0,639.4 1121.2,643.0 1121.3,633.0 1121.4,634.4 1121.6,632.1 1121.7,633.7 1121.8,628.7 1122.0,631.9 1122.1,634.0 1122.2,633.3 1122.4,627.1 1122.5,625.3 1122.6,625.7 1122.8,626.9 1122.9,649.4 1123.0,636.5 1123.2,632.7 1123.3,629.7 1123.5,640.1 1123.6,622.9 1123.7,629.3 1123.9,634.5 1124.0,630.1 1124.1,633.0 1124.3,635.4 1124.4,628.3 1124.5,633.7 1124.7,639.1 1124.8,634.8 1124.9,631.9 1125.1,637.4 1125.2,624.2 1125.4,637.5 1125.5,621.4 1125.6,626.3 1125.8,636.7 1125.9,630.7 1126.0,624.8 1126.2,632.6 1126.3,638.2 1126.4,630.9 1126.6,620.4 1126.7,640.0 1126.8,628.5 1127.0,631.6 1127.1,632.3 1127.2,633.9 1127.4,633.5 1127.5,625.9 1127.7,628.4 1127.8,637.4 1127.9,623.1 1128.1,639.2 1128.2,628.2 1128.3,630.9 1128.5,625.2 1128.6,630.0 1128.7,626.0 1128.9,632.2 1129.0,626.6 1129.1,630.1 1129.3,620.0 1129.4,636.1 1129.6,625.4 1129.7,629.6 1129.8,631.2 1130.0,635.4 1130.1,629.8 1130.2,640.6 1130.4,640.0 1130.5,628.3 1130.6,641.1 1130.8,624.3 1130.9,634.0 1131.0,631.1 1131.2,632.1 1131.3,630.1 1131.4,634.1 1131.6,634.6 1131.7,633.3 1131.9,626.7 1132.0,626.3 1132.1,625.5 1132.3,630.7 1132.4,633.9 1132.5,642.2 1132.7,629.2 1132.8,628.1 1132.9,635.1 1133.1,628.3 1133.2,625.6 1133.3,632.4 1133.5,627.0 1133.6,631.3 1133.7,642.8 1133.9,635.7 1134.0,635.4 1134.2,630.1 1134.3,638.0 1134.4,635.6 1134.6,638.6 1134.7,633.4 1134.8,632.8 1135.0,627.8 1135.1,628.8 1135.2,632.4 1135.4,632.0 1135.5,632.8 1135.6,632.8 1135.8,624.7 1135.9,647.5 1136.1,634.5 1136.2,631.8 1136.3,627.2 1136.5,639.7 1136.6,631.7 1136.7,628.8 1136.9,636.2 1137.0,644.4 1137.1,635.7 1137.3,640.5 1137.4,630.1 1137.5,638.6 1137.7,623.8 1137.8,633.1 1137.9,638.4 1138.1,636.8 1138.2,640.1 1138.4,631.8 1138.5,625.6 1138.6,635.2 1138.8,628.9 1138.9,639.4 1139.0,632.4 1139.2,621.2 1139.3,642.1 1139.4,627.3 1139.6,627.6 1139.7,644.8 1139.8,642.3 1140.0,639.8 1140.1,628.9 1140.3,636.8 1140.4,635.3 1140.5,630.4 1140.7,633.8 1140.8,633.2 1140.9,636.3 1141.1,628.2 1141.2,638.9 1141.3,625.2 1141.5,636.5 1141.6,639.1 1141.7,631.0 1141.9,632.2 1142.0,645.9 1142.1,633.5 1142.3,642.4 1142.4,639.5 1142.6,630.4 1142.7,639.7 1142.8,632.9 1143.0,637.1 1143.1,624.1 1143.2,635.5 1143.4,641.6 1143.5,641.3 1143.6,640.2 1143.8,634.4 1143.9,635.2 1144.0,629.7 1144.2,634.3 1144.3,634.5 1144.5,633.5 1144.6,636.0 1144.7,633.7 1144.9,631.0 1145.0,631.0 1145.1,638.5 1145.3,645.4 1145.4,640.0 1145.5,633.9 1145.7,649.5 1145.8,638.2 1145.9,633.1 1146.1,638.8 1146.2,641.9 1146.3,625.8 1146.5,627.9 1146.6,637.2 1146.8,628.3 1146.9,628.5 1147.0,642.2 1147.2,620.8 1147.3,641.2 1147.4,637.4 1147.6,642.1 1147.7,635.6 1147.8,643.4 1148.0,636.1 1148.1,630.0 1148.2,634.9 1148.4,637.6 1148.5,627.5 1148.6,641.2 1148.8,630.8 1148.9,638.0 1149.1,635.1 1149.2,636.1 1149.3,635.6 1149.5,636.7 1149.6,640.8 1149.7,639.6 1149.9,634.0 1150.0,637.1 1150.1,643.1 1150.3,640.5 1150.4,640.5 1150.5,636.9 1150.7,635.7 1150.8,636.2 1151.0,640.4 1151.1,636.7 1151.2,644.5 1151.4,653.0 1151.5,637.2 1151.6,646.2 1151.8,642.2 1151.9,643.7 1152.0,633.4 1152.2,643.8 1152.3,635.5 1152.4,639.8 1152.6,644.1 1152.7,646.0 1152.8,634.6 1153.0,635.0 1153.1,632.9 1153.3,627.0 1153.4,635.8 1153.5,635.8 1153.7,638.1 1153.8,636.8 1153.9,639.4 1154.1,642.5 1154.2,626.3 1154.3,648.0 1154.5,636.1 1154.6,635.1 1154.7,636.8 1154.9,643.1 1155.0,638.8 1155.2,640.3 1155.3,643.8 1155.4,638.1 1155.6,640.1 1155.7,641.0 1155.8,634.1 1156.0,643.9 1156.1,635.5 1156.2,641.4 1156.4,635.6 1156.5,637.7 1156.6,636.7 1156.8,643.6 1156.9,642.5 1157.0,643.0 1157.2,637.2 1157.3,634.1 1157.5,632.2 1157.6,641.1 1157.7,637.9 1157.9,647.4 1158.0,650.8 1158.1,643.3 1158.3,642.2 1158.4,647.2 1158.5,648.5 1158.7,635.6 1158.8,643.1 1158.9,648.0 1159.1,625.7 1159.2,637.7 1159.3,640.5 1159.5,635.0 1159.6,643.0 1159.8,629.9 1159.9,647.5 1160.0,646.2 1160.2,639.7 1160.3,643.2 1160.4,631.1 1160.6,648.0 1160.7,643.1 1160.8,637.7 1161.0,636.0 1161.1,633.5 1161.2,637.2 1161.4,626.9 1161.5,641.9 1161.7,638.3 1161.8,634.5 1161.9,641.1 1162.1,641.0 1162.2,642.0 1162.3,643.0 1162.5,645.7 1162.6,642.6 1162.7,648.2 1162.9,637.4 1163.0,648.5 1163.1,628.1 1163.3,630.1 1163.4,633.5 1163.5,640.9 1163.7,643.0 1163.8,632.9 1164.0,638.8 1164.1,636.7 1164.2,643.9 1164.4,633.9 1164.5,644.4 1164.6,639.3 1164.8,649.6 1164.9,643.6 1165.0,637.2 1165.2,642.6 1165.3,642.6 1165.4,635.7 1165.6,640.5 1165.7,633.2 1165.9,653.7 1166.0,637.0 1166.1,637.4 1166.3,648.9 1166.4,647.5 1166.5,635.4 1166.7,646.3 1166.8,643.9 1166.9,637.1 1167.1,642.3 1167.2,637.8 1167.3,645.3 1167.5,638.9 1167.6,634.5 1167.7,638.8 1167.9,652.8 1168.0,637.0 1168.2,640.3 1168.3,645.7 1168.4,632.9 1168.6,650.5 1168.7,630.3 1168.8,644.3 1169.0,632.0 1169.1,641.1 1169.2,648.3 1169.4,640.4 1169.5,639.1 1169.6,637.9 1169.8,635.0 1169.9,646.0 1170.1,638.3 1170.2,636.9 1170.3,642.6 1170.5,646.3 1170.6,646.5 1170.7,637.0 1170.9,636.7 1171.0,645.8 1171.1,648.7 1171.3,634.3 1171.4,649.9 1171.5,640.4 1171.7,645.8 1171.8,651.1 1171.9,640.7 1172.1,642.5 1172.2,633.4 1172.4,628.8 1172.5,642.5 1172.6,635.8 1172.8,635.7 1172.9,644.5 1173.0,646.4 1173.2,632.6 1173.3,643.7 1173.4,641.8 1173.6,643.3 1173.7,642.5 1173.8,645.1 1174.0,637.6 1174.1,634.8 1174.2,643.9 1174.4,649.5 1174.5,641.6 1174.7,650.2 1174.8,645.5 1174.9,635.1 1175.1,629.1 1175.2,639.9 1175.3,648.0 1175.5,637.7 1175.6,654.6 1175.7,646.0 1175.9,633.7 1176.0,638.0 1176.1,649.9 1176.3,651.5 1176.4,637.5 1176.6,642.5 1176.7,645.6 1176.8,640.0 1177.0,645.5 1177.1,653.1 1177.2,637.9 1177.4,646.0 1177.5,648.0 1177.6,649.9 1177.8,641.1 1177.9,647.0 1178.0,639.1 1178.2,644.1 1178.3,636.6 1178.4,644.8 1178.6,646.3 1178.7,653.6 1178.9,648.8 1179.0,638.7 1179.1,625.7 1179.3,649.7 1179.4,648.6 1179.5,640.9 1179.7,640.2 1179.8,646.6 1179.9,642.5 1180.1,651.9 1180.2,644.6 1180.3,638.0 1180.5,633.9 1180.6,644.0 1180.8,644.5 1180.9,640.6 1181.0,636.9 1181.2,640.4 1181.3,647.3 1181.4,641.2 1181.6,637.8 1181.7,647.2 1181.8,650.7 1182.0,640.4 1182.1,641.3 1182.2,637.9 1182.4,642.8 1182.5,646.9 1182.6,645.8 1182.8,649.1 1182.9,648.7 1183.1,646.6 1183.2,646.2 1183.3,637.3 1183.5,650.4 1183.6,643.8 1183.7,646.9 1183.9,635.3 1184.0,642.2 1184.1,645.7 1184.3,639.1 1184.4,643.3 1184.5,646.4 1184.7,635.2 1184.8,639.8 1184.9,634.2 1185.1,637.4 1185.2,639.5 1185.4,643.1 1185.5,649.9 1185.6,640.0 1185.8,643.5 1185.9,640.2 1186.0,644.0 1186.2,647.8 1186.3,649.6 1186.4,640.2 1186.6,636.9 1186.7,645.7 1186.8,641.6 1187.0,636.5 1187.1,648.8 1187.3,646.1 1187.4,650.4 1187.5,637.7 1187.7,642.8 1187.8,646.8 1187.9,653.5 1188.1,645.3 1188.2,638.8 1188.3,646.0 1188.5,646.7 1188.6,640.9 1188.7,651.3 1188.9,644.2 1189.0,641.2 1189.1,648.8 1189.3,649.1 1189.4,643.2 1189.6,645.1 1189.7,645.9 1189.8,643.5 1190.0,643.4 1190.1,649.8 1190.2,648.4 1190.4,642.2 1190.5,638.5 1190.6,637.3 1190.8,649.5 1190.9,638.7 1191.0,640.6 1191.2,645.0 1191.3,642.2 1191.5,640.3 1191.6,635.0 1191.7,650.8 1191.9,641.6 1192.0,645.8 1192.1,646.2 1192.3,638.7 1192.4,640.5 1192.5,650.7 1192.7,646.7 1192.8,643.9 1192.9,653.0 1193.1,640.4 1193.2,645.6 1193.3,644.3 1193.5,643.4 1193.6,635.3 1193.8,645.1 1193.9,647.3 1194.0,635.7 1194.2,648.1 1194.3,648.3 1194.4,653.1 1194.6,639.5 1194.7,644.0 1194.8,642.9 1195.0,644.6 1195.1,646.3 1195.2,649.9 1195.4,649.9 1195.5,643.2 1195.7,644.9 1195.8,636.6 1195.9,649.9 1196.1,648.4 1196.2,651.4 1196.3,638.1 1196.5,652.6 1196.6,641.5 1196.7,637.9 1196.9,646.6 1197.0,641.9 1197.1,657.6 1197.3,648.0 1197.4,655.1 1197.5,645.0 1197.7,645.9 1197.8,650.2 1198.0,640.8 1198.1,644.1 1198.2,649.0 1198.4,648.9 1198.5,654.2 1198.6,647.2 1198.8,634.5 1198.9,650.1 1199.0,643.9 1199.2,649.3 1199.3,641.8 1199.4,643.9 1199.6,647.6 1199.7,656.2 1199.8,649.2 1200.0,639.8 1200.1,647.7 1200.3,643.0 1200.4,649.1 1200.5,656.8 1200.7,644.1 1200.8,644.8 1200.9,649.7 1201.1,648.6 1201.2,645.0 1201.3,649.9 1201.5,644.7 1201.6,647.8 1201.7,659.7 1201.9,647.5 1202.0,650.0 1202.2,651.4 1202.3,644.6 1202.4,649.5 1202.6,643.9 1202.7,640.8 1202.8,646.1 1203.0,655.4 1203.1,651.0 1203.2,641.9 1203.4,648.4 1203.5,651.4 1203.6,647.5 1203.8,644.3 1203.9,645.6 1204.0,643.5 1204.2,651.6 1204.3,648.6 1204.5,648.5 1204.6,647.3 1204.7,658.7 1204.9,648.5 1205.0,654.6 1205.1,639.6 1205.3,638.7 1205.4,638.0 1205.5,642.9 1205.7,650.0 1205.8,642.1 1205.9,648.5 1206.1,644.1 1206.2,652.4 1206.4,650.7 1206.5,644.9 1206.6,637.7 1206.8,647.7 1206.9,635.1 1207.0,632.4 1207.2,654.7 1207.3,647.8 1207.4,652.9 1207.6,648.4 1207.7,650.6 1207.8,648.1 1208.0,642.4 1208.1,642.6 1208.2,646.4 1208.4,647.8 1208.5,647.2 1208.7,647.2 1208.8,644.7 1208.9,647.9 1209.1,645.2 1209.2,655.2 1209.3,643.6 1209.5,638.4 1209.6,647.0 1209.7,655.8 1209.9,640.6 1210.0,649.9 1210.1,664.6 1210.3,649.3 1210.4,644.8 1210.5,646.1 1210.7,641.4 1210.8,644.8 1211.0,647.6 1211.1,659.1 1211.2,654.4 1211.4,647.3 1211.5,644.6 1211.6,654.0 1211.8,651.7 1211.9,645.8 1212.0,658.9 1212.2,659.2 1212.3,649.7 1212.4,647.1 1212.6,651.2 1212.7,661.2 1212.9,648.4 1213.0,655.9 1213.1,645.0 1213.3,649.2 1213.4,647.2 1213.5,645.1 1213.7,651.6 1213.8,644.2 1213.9,641.9 1214.1,646.6 1214.2,641.5 1214.3,652.3 1214.5,643.8 1214.6,647.4 1214.7,654.3 1214.9,649.3 1215.0,651.9 1215.2,652.0 1215.3,648.5 1215.4,643.1 1215.6,650.8 1215.7,648.4 1215.8,657.2 1216.0,648.5 1216.1,642.8 1216.2,644.7 1216.4,646.5 1216.5,652.1 1216.6,654.6 1216.8,649.7 1216.9,656.6 1217.1,656.1 1217.2,644.1 1217.3,654.4 1217.5,639.4 1217.6,657.2 1217.7,647.0 1217.9,655.9 1218.0,648.5 1218.1,655.2 1218.3,649.3 1218.4,650.4 1218.5,652.0 1218.7,646.7 1218.8,641.3 1218.9,652.9 1219.1,644.7 1219.2,649.2 1219.4,649.8 1219.5,637.6 1219.6,661.7 1219.8,653.5 1219.9,659.7 1220.0,651.5 1220.2,651.1 1220.3,628.8 1220.4,647.9 1220.6,640.0 1220.7,642.7 1220.8,652.3 1221.0,647.3 1221.1,640.8 1221.3,649.0 1221.4,648.9 1221.5,647.3 1221.7,658.3 1221.8,654.6 1221.9,648.2 1222.1,647.1 1222.2,655.2 1222.3,652.0 1222.5,650.9 1222.6,651.1 1222.7,646.4 1222.9,649.7 1223.0,649.4 1223.1,658.1 1223.3,656.1 1223.4,648.6 1223.6,659.2 1223.7,648.9 1223.8,654.1 1224.0,654.9 1224.1,646.9 1224.2,654.2 1224.4,655.3 1224.5,654.3 1224.6,650.3 1224.8,635.4 1224.9,662.3 1225.0,650.8 1225.2,652.0 1225.3,645.4 1225.4,652.8 1225.6,664.4 1225.7,643.5 1225.9,656.8 1226.0,651.2 1226.1,658.4 1226.3,656.9 1226.4,653.6 1226.5,646.2 1226.7,646.3 1226.8,654.3 1226.9,648.2 1227.1,653.1 1227.2,650.4 1227.3,650.2 1227.5,647.7 1227.6,654.5 1227.8,651.9 1227.9,650.0 1228.0,650.7 1228.2,655.6 1228.3,641.7 1228.4,653.8 1228.6,647.1 1228.7,650.2 1228.8,644.6 1229.0,663.4 1229.1,640.1 1229.2,652.6 1229.4,658.2 1229.5,650.7 1229.6,639.0 1229.8,648.7 1229.9,658.3 1230.1,654.1 1230.2,644.2 1230.3,659.4 1230.5,652.6 1230.6,653.3 1230.7,639.7 1230.9,653.3 1231.0,644.5 1231.1,655.5 1231.3,656.2 1231.4,646.2 1231.5,648.4 1231.7,661.4 1231.8,648.3 1232.0,648.3 1232.1,655.3 1232.2,650.7 1232.4,650.5 1232.5,654.7 1232.6,655.2 1232.8,655.7 1232.9,653.5 1233.0,659.4 1233.2,652.3 1233.3,660.4 1233.4,651.7 1233.6,652.6 1233.7,657.9 1233.8,647.5 1234.0,641.5 1234.1,644.9 1234.3,659.8 1234.4,645.3 1234.5,651.1 1234.7,652.6 1234.8,655.6 1234.9,652.4 1235.1,644.7 1235.2,649.4 1235.3,654.7 1235.5,656.2 1235.6,654.8 1235.7,649.3 1235.9,642.2 1236.0,658.4 1236.1,652.6 1236.3,654.7 1236.4,656.8 1236.6,650.5 1236.7,649.6 1236.8,660.5 1237.0,658.4 1237.1,646.2 1237.2,651.0 1237.4,649.9 1237.5,655.6 1237.6,654.9 1237.8,650.3 1237.9,655.6 1238.0,659.0 1238.2,652.9 1238.3,648.0 1238.5,658.6 1238.6,647.2 1238.7,649.1 1238.9,657.8 1239.0,653.0 1239.1,653.3 1239.3,649.6 1239.4,649.4 1239.5,660.3 1239.7,660.6 1239.8,647.5 1239.9,652.6 1240.1,650.9 1240.2,651.4 1240.3,644.8 1240.5,659.9 1240.6,647.3 1240.8,657.8 1240.9,649.3 1241.0,646.0 1241.2,661.0 1241.3,651.2 1241.4,655.0 1241.6,655.1 1241.7,653.2 1241.8,659.3 1242.0,658.8 1242.1,649.9 1242.2,648.9 1242.4,656.7 1242.5,661.6 1242.7,640.9 1242.8,647.6 1242.9,651.7 1243.1,659.3 1243.2,656.9 1243.3,652.4 1243.5,659.0 1243.6,645.0 1243.7,653.1 1243.9,651.7 1244.0,659.5 1244.1,658.8 1244.3,658.2 1244.4,652.4 1244.5,655.4 1244.7,655.5 1244.8,652.2 1245.0,652.8 1245.1,645.9 1245.2,655.1 1245.4,659.6 1245.5,654.1 1245.6,646.1 1245.8,657.2 1245.9,653.9 1246.0,656.1 1246.2,652.0 1246.3,652.8 1246.4,658.7 1246.6,655.5 1246.7,649.1 1246.9,648.3 1247.0,649.3 1247.1,649.6 1247.3,656.2 1247.4,656.4 1247.5,649.3 1247.7,660.8 1247.8,654.8 1247.9,664.6 1248.1,656.6 1248.2,658.4 1248.3,661.1 1248.5,651.4 1248.6,658.6 1248.7,656.6 1248.9,656.0 1249.0,658.7 1249.2,646.9 1249.3,657.4 1249.4,653.6 1249.6,661.8 1249.7,657.3 1249.8,656.5 1250.0,656.5 1250.1,658.0 1250.2,654.0 1250.4,646.4 1250.5,655.6 1250.6,655.6 1250.8,657.0 1250.9,641.1 1251.0,646.2 1251.2,651.9 1251.3,651.2 1251.5,658.9 1251.6,655.9 1251.7,653.9 1251.9,654.4 1252.0,659.8 1252.1,659.4 1252.3,652.3 1252.4,653.5 1252.5,666.7 1252.7,654.7 1252.8,648.3 1252.9,658.8 1253.1,654.0 1253.2,663.2 1253.4,650.8 1253.5,661.4 1253.6,662.2 1253.8,657.1 1253.9,642.5 1254.0,658.7 1254.2,662.3 1254.3,652.9 1254.4,654.2 1254.6,646.5 1254.7,662.4 1254.8,664.2 1255.0,657.3 1255.1,653.5 1255.2,653.7 1255.4,649.7 1255.5,663.8 1255.7,660.1 1255.8,656.4 1255.9,651.1 1256.1,653.1 1256.2,658.0 1256.3,661.3 1256.5,651.0 1256.6,650.6 1256.7,641.1 1256.9,656.8 1257.0,647.0 1257.1,662.5 1257.3,658.9 1257.4,659.6 1257.6,658.5 1257.7,660.7 1257.8,658.9 1258.0,656.3 1258.1,658.5 1258.2,652.5 1258.4,656.5 1258.5,656.1 1258.6,648.1 1258.8,654.4 1258.9,655.3 1259.0,656.3 1259.2,655.9 1259.3,653.1 1259.4,660.6 1259.6,650.0 1259.7,647.7 1259.9,650.0 1260.0,659.0 1260.1,665.0 1260.3,658.7 1260.4,655.5 1260.5,651.9 1260.7,657.4 1260.8,658.1 1260.9,648.2 1261.1,660.1 1261.2,650.7 1261.3,651.6 1261.5,663.8 1261.6,655.1 1261.8,659.6 1261.9,661.8 1262.0,666.7 1262.2,665.2 1262.3,654.4 1262.4,658.8 1262.6,655.2 1262.7,662.5 1262.8,658.5 1263.0,658.3 1263.1,665.2 1263.2,665.8 1263.4,654.4 1263.5,656.1 1263.6,661.9 1263.8,657.4 1263.9,653.3 1264.1,647.0 1264.2,661.8 1264.3,653.6 1264.5,645.5 1264.6,656.7 1264.7,649.1 1264.9,671.1 1265.0,649.2 1265.1,657.2 1265.3,667.3 1265.4,652.9 1265.5,651.5 1265.7,650.6 1265.8,650.7 1265.9,657.4 1266.1,661.3 1266.2,659.8 1266.4,657.5 1266.5,655.1 1266.6,659.9 1266.8,657.1 1266.9,652.6 1267.0,655.6 1267.2,645.0 1267.3,645.7 1267.4,663.7 1267.6,660.6 1267.7,664.6 1267.8,663.8 1268.0,654.6 1268.1,662.9 1268.3,663.3 1268.4,659.1 1268.5,653.3 1268.7,659.6 1268.8,659.6 1268.9,652.7 1269.1,655.1 1269.2,655.2 1269.3,652.6 1269.5,663.3 1269.6,656.6 1269.7,661.2 1269.9,652.2 1270.0,653.4 1270.1,663.5 1270.3,650.6 1270.4,664.3 1270.6,651.6 1270.7,656.8 1270.8,662.7 1271.0,664.1 1271.1,659.7 1271.2,658.2 1271.4,661.9 1271.5,655.0 1271.6,665.7 1271.8,658.1 1271.9,658.1 1272.0,668.3 1272.2,656.5 1272.3,665.1 1272.5,671.8 1272.6,661.6 1272.7,659.5 1272.9,653.3 1273.0,660.9 1273.1,650.3 1273.3,650.5 1273.4,652.4 1273.5,651.2 1273.7,656.5 1273.8,661.4 1273.9,654.9 1274.1,653.2 1274.2,657.2 1274.3,659.8 1274.5,667.1 1274.6,654.8 1274.8,656.6 1274.9,665.7 1275.0,658.0 1275.2,654.7 1275.3,659.2 1275.4,654.4 1275.6,654.6 1275.7,666.7 1275.8,660.4 1276.0,656.1 1276.1,653.7 1276.2,651.1 1276.4,669.3 1276.5,659.2 1276.6,654.9 1276.8,652.2 1276.9,649.7 1277.1,664.0 1277.2,660.9 1277.3,664.7 1277.5,654.5 1277.6,666.2 1277.7,652.5 1277.9,653.9 1278.0,656.4 1278.1,670.9 1278.3,662.8 1278.4,655.0 1278.5,666.9 1278.7,660.4 1278.8,659.7 1279.0,654.3 1279.1,657.6 1279.2,657.7 1279.4,661.6 1279.5,659.2 1279.6,660.0 1279.8,655.3 1279.9,660.3 1280.0,653.7 1280.2,668.6 1280.3,652.8 1280.4,660.3 1280.6,653.2 1280.7,659.0 1280.8,654.8 1281.0,651.3 1281.1,662.5 1281.3,659.1 1281.4,660.5 1281.5,658.4 1281.7,668.4 1281.8,660.5 1281.9,661.0 1282.1,663.9 1282.2,660.7 1282.3,668.1 1282.5,652.0 1282.6,657.3 1282.7,649.4 1282.9,664.5 1283.0,666.2 1283.2,658.3 1283.3,668.9 1283.4,658.6 1283.6,663.7 1283.7,661.7 1283.8,658.5 1284.0,659.7 1284.1,649.8 1284.2,656.5 1284.4,667.0 1284.5,654.6 1284.6,667.3 1284.8,659.6 1284.9,666.9 1285.0,664.6 1285.2,652.9 1285.3,663.2 1285.5,663.7 1285.6,663.2 1285.7,661.9 1285.9,652.3 1286.0,666.7 1286.1,667.0 1286.3,657.1 1286.4,669.0 1286.5,662.3 1286.7,654.1 1286.8,660.3 1286.9,663.0 1287.1,664.3 1287.2,665.4 1287.4,663.7 1287.5,659.7 1287.6,653.7 1287.8,655.2 1287.9,663.6 1288.0,664.5 1288.2,656.8 1288.3,670.5 1288.4,663.0 1288.6,662.4 1288.7,666.7 1288.8,666.1 1289.0,658.8 1289.1,669.8 1289.2,665.8 1289.4,664.3 1289.5,660.4 1289.7,668.3 1289.8,654.9 1289.9,662.6 1290.1,662.3 1290.2,662.9 1290.3,664.6 1290.5,666.3 1290.6,654.7 1290.7,659.9 1290.9,661.6 1291.0,655.6 1291.1,665.0 1291.3,657.7 1291.4,661.0 1291.5,666.0 1291.7,657.0 1291.8,669.4 1292.0,657.7 1292.1,666.1 1292.2,659.1 1292.4,653.8 1292.5,658.2 1292.6,664.6 1292.8,661.5 1292.9,663.4 1293.0,667.8 1293.2,667.5 1293.3,661.2 1293.4,658.6 1293.6,671.1 1293.7,661.9 1293.9,658.8 1294.0,661.0 1294.1,667.1 1294.3,656.0 1294.4,668.3 1294.5,658.2 1294.7,653.0 1294.8,672.8 1294.9,660.4 1295.1,660.1 1295.2,660.6 1295.3,666.0 1295.5,663.5 1295.6,669.5 1295.7,661.2 1295.9,659.0 1296.0,665.6 1296.2,667.0 1296.3,664.5 1296.4,662.0 1296.6,661.7 1296.7,662.6 1296.8,661.7 1297.0,669.2 1297.1,676.9 1297.2,658.8 1297.4,654.4 1297.5,669.9 1297.6,665.8 1297.8,660.6 1297.9,657.1 1298.1,658.7 1298.2,655.3 1298.3,662.6 1298.5,660.1 1298.6,660.1 1298.7,664.7 1298.9,655.9 1299.0,659.0 1299.1,657.1 1299.3,664.6 1299.4,656.9 1299.5,668.2 1299.7,660.4 1299.8,676.7 1299.9,668.0 1300.1,658.6 1300.2,665.0 1300.4,661.7 1300.5,671.4 1300.6,654.3 1300.8,659.4 1300.9,662.8 1301.0,660.4 1301.2,660.9 1301.3,655.1 1301.4,661.6 1301.6,670.7 1301.7,664.2 1301.8,655.9 1302.0,659.8 1302.1,665.1 1302.2,659.6 1302.4,662.3 1302.5,659.6 1302.7,671.5 1302.8,667.8 1302.9,659.4 1303.1,664.2 1303.2,661.1 1303.3,652.4 1303.5,664.7 1303.6,661.7 1303.7,666.1 1303.9,666.5 1304.0,663.5 1304.1,671.0 1304.3,674.5 1304.4,655.8 1304.6,663.7 1304.7,657.1 1304.8,662.6 1305.0,662.4 1305.1,659.6 1305.2,659.4 1305.4,669.8 1305.5,656.8 1305.6,668.6 1305.8,662.3 1305.9,649.6 1306.0,663.0 1306.2,654.4 1306.3,665.3 1306.4,660.1 1306.6,663.2 1306.7,661.2 1306.9,668.1 1307.0,668.5 1307.1,661.7 1307.3,672.0 1307.4,668.1 1307.5,660.1 1307.7,666.9 1307.8,668.4 1307.9,669.6 1308.1,662.9 1308.2,665.6 1308.3,662.9 1308.5,664.7 1308.6,653.8 1308.8,666.1 1308.9,674.3 1309.0,663.2 1309.2,663.8 1309.3,663.0 1309.4,672.5 1309.6,657.8 1309.7,664.0 1309.8,664.1 1310.0,672.4 1310.1,661.4 1310.2,664.3 1310.4,656.7 1310.5,666.2 1310.6,670.7 1310.8,663.3 1310.9,669.0 1311.1,661.8 1311.2,669.9 1311.3,664.8 1311.5,665.3 1311.6,664.3 1311.7,666.9 1311.9,668.5 1312.0,664.5 1312.1,667.3 1312.3,663.4 1312.4,665.7 1312.5,676.3 1312.7,664.6 1312.8,656.8 1313.0,662.7 1313.1,661.1 1313.2,661.9 1313.4,666.9 1313.5,671.5 1313.6,660.1 1313.8,658.8 1313.9,661.4 1314.0,662.2 1314.2,662.4 1314.3,664.6 1314.4,663.1 1314.6,664.5 1314.7,662.8 1314.8,669.6 1315.0,668.0 1315.1,661.6 1315.3,666.4 1315.4,677.5 1315.5,664.0 1315.7,676.9 1315.8,654.5 1315.9,660.9 1316.1,661.1 1316.2,668.3 1316.3,670.8 1316.5,665.9 1316.6,664.7 1316.7,668.9 1316.9,664.0 1317.0,661.2 1317.1,661.7 1317.3,670.4 1317.4,676.4 1317.6,664.9 1317.7,668.4 1317.8,662.6 1318.0,656.3 1318.1,656.3 1318.2,663.5 1318.4,659.1 1318.5,656.3 1318.6,664.8 1318.8,663.6 1318.9,660.6 1319.0,665.3 1319.2,667.7 1319.3,669.1 1319.5,665.1 1319.6,668.4 1319.7,660.9 1319.9,666.9 1320.0,657.5 1320.1,658.8 1320.3,671.8 1320.4,659.5 1320.5,667.4 1320.7,658.0 1320.8,662.6 1320.9,665.5 1321.1,661.8 1321.2,668.3 1321.3,663.6 1321.5,663.3 1321.6,666.1 1321.8,663.3 1321.9,670.6 1322.0,662.5 1322.2,671.8 1322.3,662.2 1322.4,663.0 1322.6,661.7 1322.7,668.4 1322.8,649.5 1323.0,666.7 1323.1,664.7 1323.2,669.5 1323.4,658.0 1323.5,668.0 1323.7,660.3 1323.8,670.5 1323.9,664.0 1324.1,667.5 1324.2,660.7 1324.3,667.1 1324.5,670.2 1324.6,663.3 1324.7,671.9 1324.9,670.7 1325.0,661.7 1325.1,675.5 1325.3,661.7 1325.4,667.8 1325.5,670.5 1325.7,664.5 1325.8,662.5 1326.0,668.8 1326.1,666.7 1326.2,661.6 1326.4,661.9 1326.5,666.1 1326.6,669.9 1326.8,670.8 1326.9,669.0 1327.0,662.3 1327.2,662.9 1327.3,664.3 1327.4,658.7 1327.6,667.5 1327.7,667.9 1327.8,668.0 1328.0,656.0 1328.1,676.7 1328.3,664.5 1328.4,663.7 1328.5,665.7 1328.7,653.9 1328.8,660.0 1328.9,662.1 1329.1,670.8 1329.2,663.5 1329.3,668.0 1329.5,665.9 1329.6,665.1 1329.7,668.7 1329.9,662.9 1330.0,657.7 1330.2,660.8 1330.3,665.1 1330.4,676.2 1330.6,660.6 1330.7,660.6 1330.8,667.3 1331.0,668.7 1331.1,662.9 1331.2,670.5 1331.4,662.2 1331.5,671.9 1331.6,671.1 1331.8,666.3 1331.9,673.9 1332.0,666.4 1332.2,663.6 1332.3,673.2 1332.5,661.6 1332.6,669.3 1332.7,663.6 1332.9,665.4 1333.0,668.8 1333.1,669.2 1333.3,675.3 1333.4,670.1 1333.5,670.5 1333.7,658.0 1333.8,661.3 1333.9,673.7 1334.1,662.5 1334.2,665.5 1334.4,668.6 1334.5,664.3 1334.6,662.6 1334.8,669.6 1334.9,668.1 1335.0,665.8 1335.2,671.8 1335.3,665.8 1335.4,667.2 1335.6,670.3 1335.7,671.1 1335.8,665.2 1336.0,662.3 1336.1,665.1 1336.2,671.3 1336.4,663.0 1336.5,666.0 1336.7,663.8 1336.8,660.9 1336.9,671.6 1337.1,667.7 1337.2,670.0 1337.3,671.5 1337.5,656.7 1337.6,662.2 1337.7,676.1 1337.9,664.8 1338.0,669.9 1338.1,661.2 1338.3,666.7 1338.4,668.0 1338.6,666.4 1338.7,665.2 1338.8,667.0 1339.0,668.3 1339.1,667.9 1339.2,664.6 1339.4,673.0 1339.5,667.3 1339.6,667.9 1339.8,669.8 1339.9,663.5 1340.0,674.0 1340.2,669.2 1340.3,671.7 1340.4,664.6 1340.6,669.8 1340.7,667.1 1340.9,665.4 1341.0,675.7 1341.1,665.1 1341.3,671.3 1341.4,668.8 1341.5,668.1 1341.7,663.4 1341.8,663.7 1341.9,658.5 1342.1,666.7 1342.2,670.0 1342.3,670.2 1342.5,664.3 1342.6,659.4 1342.7,665.9 1342.9,670.6 1343.0,666.3 1343.2,666.4 1343.3,667.5 1343.4,671.6 1343.6,680.8 1343.7,670.5 1343.8,662.4 1344.0,666.7 1344.1,679.2 1344.2,667.8 1344.4,677.4 1344.5,657.6 1344.6,666.9 1344.8,674.1 1344.9,663.8 1345.1,672.0 1345.2,665.1 1345.3,667.9 1345.5,674.1 1345.6,664.6 1345.7,674.9 1345.9,661.1 1346.0,667.7 1346.1,673.4 1346.3,677.4 1346.4,659.8 1346.5,660.7 1346.7,674.6 1346.8,659.7 1346.9,667.3 1347.1,669.3 1347.2,668.6 1347.4,669.6 1347.5,660.9 1347.6,667.5 1347.8,677.7 1347.9,657.5 1348.0,663.8 1348.2,673.9 1348.3,670.2 1348.4,673.0 1348.6,668.1 1348.7,666.4 1348.8,667.2 1349.0,671.5 1349.1,672.6 1349.3,664.1 1349.4,669.0 1349.5,656.9 1349.7,672.7 1349.8,664.5 1349.9,668.3 1350.1,672.5 1350.2,661.6 1350.3,668.0 1350.5,673.2 1350.6,670.3 1350.7,663.4 1350.9,675.0 1351.0,661.6 1351.1,665.2 1351.3,670.1 1351.4,661.7 1351.6,659.7 1351.7,665.7 1351.8,667.9 1352.0,659.3 1352.1,661.1 1352.2,673.6 1352.4,669.9 1352.5,670.0 1352.6,671.0 1352.8,676.6 1352.9,664.3 1353.0,668.5 1353.2,668.4 1353.3,661.7 1353.4,671.9 1353.6,669.3 1353.7,667.6 1353.9,671.2 1354.0,669.6 1354.1,665.1 1354.3,669.1 1354.4,662.2 1354.5,673.0 1354.7,668.1 1354.8,676.5 1354.9,669.8 1355.1,672.8 1355.2,662.1 1355.3,665.4 1355.5,666.6 1355.6,659.7 1355.8,661.8 1355.9,665.5 1356.0,672.9 1356.2,676.8 1356.3,669.5 1356.4,671.2 1356.6,672.7 1356.7,670.9 1356.8,677.9 1357.0,661.7 1357.1,675.3 1357.2,672.9 1357.4,666.5 1357.5,677.9 1357.6,664.7 1357.8,664.6 1357.9,671.1 1358.1,675.1 1358.2,672.0 1358.3,679.2 1358.5,662.4 1358.6,669.3 1358.7,673.4 1358.9,674.3 1359.0,666.7 1359.1,661.8 1359.3,676.3 1359.4,672.7 1359.5,678.8 1359.7,666.2 1359.8,668.9 1360.0,658.0 1360.1,670.4 1360.2,672.1 1360.4,673.5 1360.5,665.4 1360.6,678.3 1360.8,665.9 1360.9,668.6 1361.0,672.5 1361.2,674.6 1361.3,664.4 1361.4,660.2 1361.6,672.3 1361.7,667.2 1361.8,660.9 1362.0,673.2 1362.1,671.3 1362.3,676.4 1362.4,670.8 1362.5,670.5 1362.7,672.3 1362.8,674.0 1362.9,678.4 1363.1,677.1 1363.2,675.2 1363.3,666.8 1363.5,672.8 1363.6,674.6 1363.7,666.8 1363.9,667.3 1364.0,674.2 1364.2,673.5 1364.3,666.8 1364.4,668.4 1364.6,674.7 1364.7,669.1 1364.8,670.5 1365.0,664.5 1365.1,674.9 1365.2,665.8 1365.4,668.1 1365.5,675.7 1365.6,664.9 1365.8,665.7 1365.9,677.4 1366.0,660.1 1366.2,676.5 1366.3,675.3 1366.5,672.2 1366.6,666.5 1366.7,667.5 1366.9,671.1 1367.0,663.4 1367.1,668.5 1367.3,663.3 1367.4,655.8 1367.5,669.6 1367.7,684.2 1367.8,673.1 1367.9,676.4 1368.1,670.2 1368.2,670.2 1368.3,677.2 1368.5,676.9 1368.6,672.2 1368.8,671.8 1368.9,684.6 1369.0,665.7 1369.2,670.7 1369.3,670.9 1369.4,669.3 1369.6,676.3 1369.7,671.2 1369.8,665.4 1370.0,665.2 1370.1,668.5 1370.2,672.5 1370.4,675.4 1370.5,664.0 1370.7,668.2 1370.8,673.3 1370.9,682.6 1371.1,675.7 1371.2,681.4 1371.3,664.5 1371.5,670.1 1371.6,675.1 1371.7,672.6 1371.9,657.3 1372.0,664.7 1372.1,678.4 1372.3,671.9 1372.4,677.8 1372.5,680.5 1372.7,670.3 1372.8,658.3 1373.0,662.9 1373.1,671.1 1373.2,673.3 1373.4,670.3 1373.5,665.8 1373.6,679.2 1373.8,681.5 1373.9,661.3 1374.0,669.9 1374.2,662.8 1374.3,670.2 1374.4,663.5 1374.6,674.8 1374.7,668.8 1374.9,663.1 1375.0,666.0 1375.1,674.0 1375.3,666.7 1375.4,675.2 1375.5,679.3 1375.7,668.8 1375.8,664.0 1375.9,667.0 1376.1,678.5 1376.2,666.9 1376.3,668.0 1376.5,674.2 1376.6,685.2 1376.7,666.2 1376.9,666.9 1377.0,669.1 1377.2,681.2 1377.3,679.9 1377.4,666.3 1377.6,667.4 1377.7,669.1 1377.8,673.2 1378.0,669.7 1378.1,674.8 1378.2,673.6 1378.4,676.6 1378.5,670.5 1378.6,674.2 1378.8,666.8 1378.9,668.0 1379.0,676.4 1379.2,662.0 1379.3,678.2 1379.5,669.6 1379.6,666.1 1379.7,665.1 1379.9,684.2 1380.0,666.6 1380.1,665.4 1380.3,664.3 1380.4,684.3 1380.5,675.9 1380.7,672.7 1380.8,674.6 1380.9,664.9 1381.1,675.9 1381.2,665.5 1381.4,669.2 1381.5,680.2 1381.6,677.7 1381.8,674.9 1381.9,671.8 1382.0,666.9 1382.2,673.3 1382.3,667.4 1382.4,681.0 1382.6,689.1 1382.7,674.3 1382.8,669.9 1383.0,674.4 1383.1,678.0 1383.2,670.1 1383.4,661.9 1383.5,673.1 1383.7,676.5 1383.8,677.2 1383.9,661.7 1384.1,672.8 1384.2,669.2 1384.3,665.9 1384.5,666.7 1384.6,677.7 1384.7,667.4 1384.9,668.0 1385.0,670.0 1385.1,667.1 1385.3,675.8 1385.4,673.1 1385.6,675.6 1385.7,668.6 1385.8,676.4 1386.0,670.6 1386.1,678.8 1386.2,673.5 1386.4,674.8 1386.5,673.5 1386.6,672.1 1386.8,673.9 1386.9,674.1 1387.0,684.3 1387.2,666.8 1387.3,676.4 1387.4,674.3 1387.6,677.5 1387.7,667.5 1387.9,678.0 1388.0,670.2 1388.1,666.5 1388.3,664.0 1388.4,666.5 1388.5,669.7 1388.7,679.7 1388.8,666.0 1388.9,666.6 1389.1,668.5 1389.2,668.7 1389.3,672.7 1389.5,676.0 1389.6,667.2 1389.8,666.2 1389.9,678.9 1390.0,668.2 1390.2,671.9 1390.3,668.4 1390.4,671.7 1390.6,667.2 1390.7,667.6 1390.8,668.4 1391.0,680.8 1391.1,668.8 1391.2,673.0 1391.4,679.5 1391.5,669.5 1391.6,680.8 1391.8,668.5 1391.9,664.1 1392.1,676.1 1392.2,668.4 1392.3,670.9 1392.5,669.9 1392.6,680.8 1392.7,670.1 1392.9,672.7 1393.0,669.4 1393.1,673.4 1393.3,667.5 1393.4,672.0 1393.5,669.8 1393.7,666.0 1393.8,672.5 1393.9,668.1 1394.1,672.3 1394.2,670.7 1394.4,676.4 1394.5,669.4 1394.6,666.9 1394.8,674.0 1394.9,669.3 1395.0,671.3 1395.2,679.6 1395.3,671.7 1395.4,666.5 1395.6,676.3 1395.7,683.4 1395.8,672.6 1396.0,677.2 1396.1,663.4 1396.3,674.0 1396.4,673.8 1396.5,677.2 1396.7,672.4 1396.8,676.8 1396.9,678.7 1397.1,674.2 1397.2,678.2" stroke="#ff0000" stroke-width="2.8"/>
<polyline clip-path="url(#c1)" fill="none" stroke-linejoin="round" stroke-linecap="round" points="313.6,90.4 313.7,86.7 313.9,89.1 314.0,76.9 314.1,106.6 314.3,78.7 314.4,91.6 314.5,67.7 314.7,68.9 314.8,64.9 315.0,75.7 315.1,89.1 315.2,78.5 315.4,71.7 315.5,103.4 315.6,88.1 315.8,99.0 315.9,80.9 316.0,113.8 316.2,108.5 316.3,101.5 316.4,104.9 316.6,132.3 316.7,107.5 316.9,115.8 317.0,119.4 317.1,120.2 317.3,117.2 317.4,145.9 317.5,103.5 317.7,137.1 317.8,157.0 317.9,130.7 318.1,112.6 318.2,140.1 318.3,115.3 318.5,117.2 318.6,150.1 318.7,172.4 318.9,158.5 319.0,129.5 319.2,156.8 319.3,167.4 319.4,167.0 319.6,152.0 319.7,154.1 319.8,144.7 320.0,145.1 320.1,170.8 320.2,163.0 320.4,176.9 320.5,163.8 320.6,180.5 320.8,182.9 320.9,144.1 321.0,171.3 321.2,165.7 321.3,144.5 321.5,167.5 321.6,180.1 321.7,179.8 321.9,191.1 322.0,170.9 322.1,189.6 322.3,166.5 322.4,193.2 322.5,195.0 322.7,197.4 322.8,186.9 322.9,193.7 323.1,181.6 323.2,205.7 323.4,197.6 323.5,180.2 323.6,207.0 323.8,199.8 323.9,189.5 324.0,202.9 324.2,218.1 324.3,235.9 324.4,187.0 324.6,210.9 324.7,203.1 324.8,224.3 325.0,200.2 325.1,216.4 325.2,223.2 325.4,235.4 325.5,222.9 325.7,233.9 325.8,232.6 325.9,249.5 326.1,238.6 326.2,233.1 326.3,250.0 326.5,237.1 326.6,232.3 326.7,244.3 326.9,249.2 327.0,250.8 327.1,235.5 327.3,263.5 327.4,251.9 327.6,254.6 327.7,250.2 327.8,253.9 328.0,266.4 328.1,234.7 328.2,255.8 328.4,273.2 328.5,269.9 328.6,261.1 328.8,257.2 328.9,278.9 329.0,259.2 329.2,282.1 329.3,277.6 329.4,262.1 329.6,254.9 329.7,274.6 329.9,278.3 330.0,263.8 330.1,288.8 330.3,276.6 330.4,278.5 330.5,272.2 330.7,280.7 330.8,287.7 330.9,280.4 331.1,299.0 331.2,281.2 331.3,297.2 331.5,300.9 331.6,297.0 331.8,294.3 331.9,289.2 332.0,299.5 332.2,291.7 332.3,290.7 332.4,302.5 332.6,312.3 332.7,295.4 332.8,302.9 333.0,327.0 333.1,317.6 333.2,308.2 333.4,323.8 333.5,318.6 333.6,329.6 333.8,311.0 333.9,313.8 334.1,315.7 334.2,305.2 334.3,323.2 334.5,323.9 334.6,303.8 334.7,335.8 334.9,318.3 335.0,338.4 335.1,325.4 335.3,309.5 335.4,327.6 335.5,338.3 335.7,311.0 335.8,338.7 335.9,336.9 336.1,333.6 336.2,349.6 336.4,328.8 336.5,325.6 336.6,334.5 336.8,339.5 336.9,344.9 337.0,337.0 337.2,373.8 337.3,348.3 337.4,346.2 337.6,367.0 337.7,347.1 337.8,353.1 338.0,353.5 338.1,353.5 338.3,350.6 338.4,352.8 338.5,366.8 338.7,360.0 338.8,361.7 338.9,361.0 339.1,367.5 339.2,355.4 339.3,353.7 339.5,353.1 339.6,351.0 339.7,355.7 339.9,373.2 340.0,375.6 340.1,374.9 340.3,368.0 340.4,374.9 340.6,366.7 340.7,362.4 340.8,380.6 341.0,370.2 341.1,382.5 341.2,390.7 341.4,391.8 341.5,385.2 341.6,399.0 341.8,380.7 341.9,373.6 342.0,396.2 342.2,390.6 342.3,376.6 342.5,387.3 342.6,389.6 342.7,394.3 342.9,385.2 343.0,391.7 343.1,403.9 343.3,415.5 343.4,418.5 343.5,393.3 343.7,401.5 343.8,389.2 343.9,397.5 344.1,412.4 344.2,401.3 344.3,395.4 344.5,412.5 344.6,410.5 344.8,394.2 344.9,422.0 345.0,417.9 345.2,402.6 345.3,410.1 345.4,421.2 345.6,424.6 345.7,411.0 345.8,406.4 346.0,410.3 346.1,414.4 346.2,407.2 346.4,417.1 346.5,426.6 346.6,406.2 346.8,431.4 346.9,424.2 347.1,424.7 347.2,414.6 347.3,431.7 347.5,429.0 347.6,441.0 347.7,426.4 347.9,426.6 348.0,426.0 348.1,438.4 348.3,430.9 348.4,439.9 348.5,437.9 348.7,435.9 348.8,427.0 349.0,440.3 349.1,436.8 349.2,445.0 349.4,444.0 349.5,445.8 349.6,442.8 349.8,437.2 349.9,451.3 350.0,439.3 350.2,452.0 350.3,443.8 350.4,450.9 350.6,450.0 350.7,451.5 350.8,442.1 351.0,448.8 351.1,444.0 351.3,454.8 351.4,454.8 351.5,443.0 351.7,466.2 351.8,461.8 351.9,457.8 352.1,445.1 352.2,462.4 352.3,453.8 352.5,449.3 352.6,462.4 352.7,462.8 352.9,451.2 353.0,467.0 353.2,471.2 353.3,459.4 353.4,469.2 353.6,457.9 353.7,463.8 353.8,479.8 354.0,467.2 354.1,469.7 354.2,475.0 354.4,464.1 354.5,483.8 354.6,481.2 354.8,477.0 354.9,469.4 355.0,485.4 355.2,480.3 355.3,481.6 355.5,487.5 355.6,481.0 355.7,486.7 355.9,483.0 356.0,479.0 356.1,487.5 356.3,488.0 356.4,489.5 356.5,489.4 356.7,494.7 356.8,493.0 356.9,485.4 357.1,492.5 357.2,467.0 357.4,493.6 357.5,486.3 357.6,499.4 357.8,492.4 357.9,494.8 358.0,492.6 358.2,484.5 358.3,494.6 358.4,501.8 358.6,494.2 358.7,501.7 358.8,497.1 359.0,487.2 359.1,491.9 359.2,491.8 359.4,495.9 359.5,500.0 359.7,510.0 359.8,504.1 359.9,505.2 360.1,498.5 360.2,497.2 360.3,501.1 360.5,509.5 360.6,494.2 360.7,497.5 360.9,508.0 361.0,506.2 361.1,504.2 361.3,508.1 361.4,510.0 361.5,507.2 361.7,510.7 361.8,510.2 362.0,521.6 362.1,522.3 362.2,503.2 362.4,523.1 362.5,511.9 362.6,513.5 362.8,514.8 362.9,520.8 363.0,511.4 363.2,516.0 363.3,520.6 363.4,527.5 363.6,521.3 363.7,524.0 363.9,528.5 364.0,519.6 364.1,519.1 364.3,518.3 364.4,523.0 364.5,525.7 364.7,518.4 364.8,521.1 364.9,513.0 365.1,523.6 365.2,532.7 365.3,522.5 365.5,515.3 365.6,527.6 365.7,530.8 365.9,533.7 366.0,520.2 366.2,532.6 366.3,533.5 366.4,531.0 366.6,541.3 366.7,535.4 366.8,541.6 367.0,535.9 367.1,532.9 367.2,531.1 367.4,539.1 367.5,532.8 367.6,540.2 367.8,547.7 367.9,536.0 368.1,540.8 368.2,539.7 368.3,555.2 368.5,540.2 368.6,540.6 368.7,541.1 368.9,537.4 369.0,545.6 369.1,532.4 369.3,540.7 369.4,542.3 369.5,559.3 369.7,557.0 369.8,538.8 369.9,545.3 370.1,542.9 370.2,550.5 370.4,549.7 370.5,546.4 370.6,554.3 370.8,543.5 370.9,557.0 371.0,550.4 371.2,553.6 371.3,550.8 371.4,546.5 371.6,559.6 371.7,551.8 371.8,554.1 372.0,550.8 372.1,555.8 372.2,558.8 372.4,554.1 372.5,550.2 372.7,553.5 372.8,557.5 372.9,556.6 373.1,567.4 373.2,562.6 373.3,561.6 373.5,563.6 373.6,565.0 373.7,562.1 373.9,560.2 374.0,552.8 374.1,567.0 374.3,568.5 374.4,559.2 374.6,564.0 374.7,569.9 374.8,557.9 375.0,567.4 375.1,568.5 375.2,570.4 375.4,572.5 375.5,567.8 375.6,573.6 375.8,556.7 375.9,568.0 376.0,571.5 376.2,574.7 376.3,569.9 376.4,566.7 376.6,571.0 376.7,578.5 376.9,574.3 377.0,582.2 377.1,566.9 377.3,571.2 377.4,574.0 377.5,574.1 377.7,578.8 377.8,577.2 377.9,572.1 378.1,577.6 378.2,574.9 378.3,577.2 378.5,577.6 378.6,577.6 378.8,574.4 378.9,581.5 379.0,577.1 379.2,584.8 379.3,584.2 379.4,585.3 379.6,578.0 379.7,584.1 379.8,577.0 380.0,588.5 380.1,582.0 380.2,590.0 380.4,579.3 380.5,588.6 380.6,583.4 380.8,589.4 380.9,590.2 381.1,585.7 381.2,595.7 381.3,593.6 381.5,580.8 381.6,592.6 381.7,585.1 381.9,593.6 382.0,597.8 382.1,592.3 382.3,586.5 382.4,591.2 382.5,592.9 382.7,587.8 382.8,596.0 383.0,589.3 383.1,591.7 383.2,598.5 383.4,589.5 383.5,589.0 383.6,595.9 383.8,594.6 383.9,596.9 384.0,601.3 384.2,592.6 384.3,601.6 384.4,594.7 384.6,600.1 384.7,602.9 384.8,595.5 385.0,597.7 385.1,590.4 385.3,599.9 385.4,599.2 385.5,599.8 385.7,601.9 385.8,594.8 385.9,594.3 386.1,598.6 386.2,606.9 386.3,600.4 386.5,602.6 386.6,605.4 386.7,610.9 386.9,599.9 387.0,598.7 387.1,603.3 387.3,603.0 387.4,597.2 387.6,596.8 387.7,605.2 387.8,619.8 388.0,603.6 388.1,606.6 388.2,604.4 388.4,610.4 388.5,613.0 388.6,606.3 388.8,610.4 388.9,608.9 389.0,607.8 389.2,609.6 389.3,617.1 389.5,608.2 389.6,613.4 389.7,612.5 389.9,609.9 390.0,618.9 390.1,613.8 390.3,621.4 390.4,615.9 390.5,612.1 390.7,614.7 390.8,615.7 390.9,612.1 391.1,617.0 391.2,622.8 391.3,611.0 391.5,615.3 391.6,613.0 391.8,618.8 391.9,619.3 392.0,621.0 392.2,626.7 392.3,620.5 392.4,621.4 392.6,611.8 392.7,628.0 392.8,619.6 393.0,620.9 393.1,620.8 393.2,621.4 393.4,620.1 393.5,617.6 393.7,629.2 393.8,618.3 393.9,623.7 394.1,627.2 394.2,631.4 394.3,631.6 394.5,624.1 394.6,629.1 394.7,629.4 394.9,626.9 395.0,624.9 395.1,627.4 395.3,630.7 395.4,628.7 395.5,627.0 395.7,631.2 395.8,622.7 396.0,621.4 396.1,621.6 396.2,629.0 396.4,629.4 396.5,632.2 396.6,622.3 396.8,630.8 396.9,619.3 397.0,638.3 397.2,628.6 397.3,627.6 397.4,630.1 397.6,627.8 397.7,621.8 397.8,631.1 398.0,627.6 398.1,633.5 398.3,637.3 398.4,636.7 398.5,628.6 398.7,631.2 398.8,639.2 398.9,631.7 399.1,630.7 399.2,631.5 399.3,628.9 399.5,640.5 399.6,638.6 399.7,639.4 399.9,634.3 400.0,629.5 400.2,637.4 400.3,634.2 400.4,632.2 400.6,638.2 400.7,632.9 400.8,637.2 401.0,629.3 401.1,631.1 401.2,639.4 401.4,640.1 401.5,629.9 401.6,642.0 401.8,633.4 401.9,640.5 402.0,644.0 402.2,631.7 402.3,637.6 402.5,644.2 402.6,641.0 402.7,643.4 402.9,644.7 403.0,641.2 403.1,636.2 403.3,647.3 403.4,639.3 403.5,648.0 403.7,642.3 403.8,648.5 403.9,648.3 404.1,645.7 404.2,638.7 404.4,639.7 404.5,644.1 404.6,645.2 404.8,643.6 404.9,632.1 405.0,643.0 405.2,645.3 405.3,647.1 405.4,646.6 405.6,642.8 405.7,643.2 405.8,656.2 406.0,637.2 406.1,644.5 406.2,647.1 406.4,635.4 406.5,653.8 406.7,652.7 406.8,642.8 406.9,647.8 407.1,644.2 407.2,643.0 407.3,640.6 407.5,645.8 407.6,651.7 407.7,656.3 407.9,648.8 408.0,657.1 408.1,649.6 408.3,653.5 408.4,648.6 408.6,647.5 408.7,650.9 408.8,656.8 409.0,650.5 409.1,654.5 409.2,650.3 409.4,653.8 409.5,642.0 409.6,654.6 409.8,660.7 409.9,656.6 410.0,652.5 410.2,641.2 410.3,647.3 410.4,656.0 410.6,653.7 410.7,659.1 410.9,660.4 411.0,650.3 411.1,652.8 411.3,658.0 411.4,658.0 411.5,653.4 411.7,652.5 411.8,659.0 411.9,663.1 412.1,652.2 412.2,659.3 412.3,664.2 412.5,657.4 412.6,655.9 412.7,652.9 412.9,659.0 413.0,656.2 413.2,663.0 413.3,655.8 413.4,664.5 413.6,655.6 413.7,657.6 413.8,665.0 414.0,661.4 414.1,651.9 414.2,663.6 414.4,666.3 414.5,660.7 414.6,659.0 414.8,656.4 414.9,660.7 415.1,662.2 415.2,661.4 415.3,657.4 415.5,661.6 415.6,658.7 415.7,668.8 415.9,662.9 416.0,661.9 416.1,657.4 416.3,660.0 416.4,661.2 416.5,657.7 416.7,661.7 416.8,649.3 416.9,666.7 417.1,662.5 417.2,655.4 417.4,660.0 417.5,662.2 417.6,659.4 417.8,665.8 417.9,663.5 418.0,663.4 418.2,656.2 418.3,663.1 418.4,655.9 418.6,665.0 418.7,663.9 418.8,672.4 419.0,662.7 419.1,673.9 419.3,662.9 419.4,661.8 419.5,664.4 419.7,670.7 419.8,667.6 419.9,677.7 420.1,669.8 420.2,665.9 420.3,667.1 420.5,668.8 420.6,662.0 420.7,666.2 420.9,667.8 421.0,667.2 421.1,672.6 421.3,669.1 421.4,676.7 421.6,680.2 421.7,670.3 421.8,665.1 422.0,673.8 422.1,667.7 422.2,676.8 422.4,669.8 422.5,669.7 422.6,670.0 422.8,676.2 422.9,668.0 423.0,667.5 423.2,668.3 423.3,661.2 423.4,672.4 423.6,670.2 423.7,666.1 423.9,676.9 424.0,675.3 424.1,667.0 424.3,673.2 424.4,675.2 424.5,670.0 424.7,677.8 424.8,671.7 424.9,676.8 425.1,675.3 425.2,683.9 425.3,672.0 425.5,672.0 425.6,674.0 425.8,676.1 425.9,672.5 426.0,667.5 426.2,670.1 426.3,676.9 426.4,673.0 426.6,675.2 426.7,672.1 426.8,677.8 427.0,668.4 427.1,678.0 427.2,679.0 427.4,673.6 427.5,668.3 427.6,682.3 427.8,675.2 427.9,672.9 428.1,664.5 428.2,682.0 428.3,671.3 428.5,679.1 428.6,677.6 428.7,672.4 428.9,676.3 429.0,682.3 429.1,677.7 429.3,678.5 429.4,676.3 429.5,681.1 429.7,680.2 429.8,678.9 430.0,677.5 430.1,678.5 430.2,676.1 430.4,675.4 430.5,676.8 430.6,681.0 430.8,684.9 430.9,682.3 431.0,681.5 431.2,680.0 431.3,675.3 431.4,679.5 431.6,683.3 431.7,684.9 431.8,680.1 432.0,680.8 432.1,684.3 432.3,686.8 432.4,681.6 432.5,678.7 432.7,679.6 432.8,686.6 432.9,682.5 433.1,681.7 433.2,685.0 433.3,681.5 433.5,683.9 433.6,677.6 433.7,684.2 433.9,674.9 434.0,677.5 434.2,680.2 434.3,680.8 434.4,676.1 434.6,683.5 434.7,680.4 434.8,683.2 435.0,676.0 435.1,683.6 435.2,683.5 435.4,693.5 435.5,681.7 435.6,684.3 435.8,680.7 435.9,689.1 436.0,686.8 436.2,678.0 436.3,686.6 436.5,682.7 436.6,679.9 436.7,683.5 436.9,683.6 437.0,679.0 437.1,686.3 437.3,681.9 437.4,685.4 437.5,689.0 437.7,684.3 437.8,679.2 437.9,685.4 438.1,687.7 438.2,685.8 438.3,687.0 438.5,683.1 438.6,689.4 438.8,681.7 438.9,683.8 439.0,680.6 439.2,687.6 439.3,681.9 439.4,690.0 439.6,683.5 439.7,687.0 439.8,690.8 440.0,683.1 440.1,680.5 440.2,679.2 440.4,684.8 440.5,687.7 440.7,680.8 440.8,690.8 440.9,686.4 441.1,693.2 441.2,686.6 441.3,686.3 441.5,689.1 441.6,683.2 441.7,688.1 441.9,685.8 442.0,685.6 442.1,688.4 442.3,698.5 442.4,689.8 442.5,687.6 442.7,692.5 442.8,688.2 443.0,694.6 443.1,686.1 443.2,686.2 443.4,687.2 443.5,690.9 443.6,687.8 443.8,694.3 443.9,692.4 444.0,687.6 444.2,692.2 444.3,690.6 444.4,689.7 444.6,685.4 444.7,692.6 444.9,692.2 445.0,692.9 445.1,696.9 445.3,689.5 445.4,698.8 445.5,693.7 445.7,685.2 445.8,690.6 445.9,700.0 446.1,694.9 446.2,684.1 446.3,692.2 446.5,683.5 446.6,693.5 446.7,701.3 446.9,690.3 447.0,692.4 447.2,690.4 447.3,695.9 447.4,696.1 447.6,694.3 447.7,696.3 447.8,688.5 448.0,687.5 448.1,693.1 448.2,688.4 448.4,695.2 448.5,693.7 448.6,699.3 448.8,687.5 448.9,694.9 449.1,687.6 449.2,687.7 449.3,690.8 449.5,692.0 449.6,697.2 449.7,689.6 449.9,690.6 450.0,688.7 450.1,691.8 450.3,698.3 450.4,698.0 450.5,689.7 450.7,686.9 450.8,694.7 450.9,694.0 451.1,692.5 451.2,693.0 451.4,692.7 451.5,695.1 451.6,693.3 451.8,696.5 451.9,694.8 452.0,691.7 452.2,694.3 452.3,697.1 452.4,693.5 452.6,699.2 452.7,697.5 452.8,699.2 453.0,693.8 453.1,692.5 453.2,696.6 453.4,698.9 453.5,693.4 453.7,694.4 453.8,701.8 453.9,691.6 454.1,691.9 454.2,696.8 454.3,696.1 454.5,696.3 454.6,697.9 454.7,694.3 454.9,699.1 455.0,697.5 455.1,695.7 455.3,703.2 455.4,698.6 455.6,701.7 455.7,698.5 455.8,698.8 456.0,697.7 456.1,696.4 456.2,701.2 456.4,696.0 456.5,704.2 456.6,693.6 456.8,697.8 456.9,694.3 457.0,705.4 457.2,692.1 457.3,699.0 457.4,696.5 457.6,697.5 457.7,698.3 457.9,699.9 458.0,706.2 458.1,693.1 458.3,690.6 458.4,700.7 458.5,692.9 458.7,694.5 458.8,697.0 458.9,699.0 459.1,696.1 459.2,701.1 459.3,699.9 459.5,700.8 459.6,701.7 459.8,701.0 459.9,696.4 460.0,696.1 460.2,702.2 460.3,699.3 460.4,699.8 460.6,706.1 460.7,694.6 460.8,703.6 461.0,694.6 461.1,708.8 461.2,702.5 461.4,696.3 461.5,697.7 461.6,697.5 461.8,699.7 461.9,691.3 462.1,699.4 462.2,698.3 462.3,702.7 462.5,703.0 462.6,694.3 462.7,694.3 462.9,707.3 463.0,702.3 463.1,695.0 463.3,699.7 463.4,696.2 463.5,707.5 463.7,699.5 463.8,700.2 463.9,700.1 464.1,703.0 464.2,700.6 464.4,693.3 464.5,704.9 464.6,700.9 464.8,701.9 464.9,701.8 465.0,693.4 465.2,694.4 465.3,702.4 465.4,698.8 465.6,704.3 465.7,699.7 465.8,702.6 466.0,695.1 466.1,699.3 466.3,705.6 466.4,708.6 466.5,705.9 466.7,692.8 466.8,705.5 466.9,707.3 467.1,704.4 467.2,703.6 467.3,699.2 467.5,704.9 467.6,695.0 467.7,701.8 467.9,700.7 468.0,696.1 468.1,701.3 468.3,700.7 468.4,699.5 468.6,705.1 468.7,704.4 468.8,699.5 469.0,705.5 469.1,704.7 469.2,698.6 469.4,700.0 469.5,701.1 469.6,707.2 469.8,694.5 469.9,703.3 470.0,704.0 470.2,703.5 470.3,706.3 470.5,704.0 470.6,694.8 470.7,709.2 470.9,693.9 471.0,707.0 471.1,707.1 471.3,697.7 471.4,695.5 471.5,705.0 471.7,700.0 471.8,706.6 471.9,705.0 472.1,706.7 472.2,703.1 472.3,706.4 472.5,703.3 472.6,705.3 472.8,704.0 472.9,703.7 473.0,706.8 473.2,705.7 473.3,708.9 473.4,702.2 473.6,701.3 473.7,705.9 473.8,705.6 474.0,706.8 474.1,706.5 474.2,704.1 474.4,711.6 474.5,710.7 474.7,704.5 474.8,701.3 474.9,707.8 475.1,701.7 475.2,701.2 475.3,704.6 475.5,696.1 475.6,705.6 475.7,704.7 475.9,709.8 476.0,709.5 476.1,704.9 476.3,703.0 476.4,706.3 476.5,705.7 476.7,705.1 476.8,702.6 477.0,712.6 477.1,702.5 477.2,709.2 477.4,703.9 477.5,702.7 477.6,711.7 477.8,701.5 477.9,705.9 478.0,708.3 478.2,699.0 478.3,711.4 478.4,712.5 478.6,705.6 478.7,704.7 478.8,707.4 479.0,704.2 479.1,716.1 479.3,702.6 479.4,705.9 479.5,711.0 479.7,711.6 479.8,704.8 479.9,705.1 480.1,709.4 480.2,706.3 480.3,706.7 480.5,702.5 480.6,710.6 480.7,702.8 480.9,706.4 481.0,706.7 481.2,704.7 481.3,708.9 481.4,712.7 481.6,713.6 481.7,702.9 481.8,714.1 482.0,702.9 482.1,710.0 482.2,702.7 482.4,710.9 482.5,706.0 482.6,706.5 482.8,704.1 482.9,708.9 483.0,705.5 483.2,700.9 483.3,712.9 483.5,703.2 483.6,711.7 483.7,703.5 483.9,709.0 484.0,701.6 484.1,708.5 484.3,709.6 484.4,703.3 484.5,708.6 484.7,708.4 484.8,703.7 484.9,701.8 485.1,704.2 485.2,715.4 485.4,706.3 485.5,706.5 485.6,704.2 485.8,703.4 485.9,703.6 486.0,705.7 486.2,699.5 486.3,708.3 486.4,710.4 486.6,712.8 486.7,709.3 486.8,704.6 487.0,707.6 487.1,702.1 487.2,707.8 487.4,710.0 487.5,701.7 487.7,708.6 487.8,703.2 487.9,716.9 488.1,713.2 488.2,710.1 488.3,712.2 488.5,707.0 488.6,707.7 488.7,707.2 488.9,711.7 489.0,711.6 489.1,710.8 489.3,702.2 489.4,709.5 489.5,704.7 489.7,711.7 489.8,714.2 490.0,708.1 490.1,704.7 490.2,715.4 490.4,710.9 490.5,706.3 490.6,710.0 490.8,710.1 490.9,705.9 491.0,708.4 491.2,708.3 491.3,711.1 491.4,708.0 491.6,711.2 491.7,703.5 491.9,721.7 492.0,708.8 492.1,706.3 492.3,713.1 492.4,706.9 492.5,712.2 492.7,706.6 492.8,702.7 492.9,710.4 493.1,700.5 493.2,709.6 493.3,719.3 493.5,711.2 493.6,709.1 493.7,708.8 493.9,709.8 494.0,708.2 494.2,710.5 494.3,704.4 494.4,708.5 494.6,710.4 494.7,702.5 494.8,715.1 495.0,717.6 495.1,712.8 495.2,720.3 495.4,708.0 495.5,711.3 495.6,701.6 495.8,713.9 495.9,715.0 496.1,707.5 496.2,707.7 496.3,707.6 496.5,712.6 496.6,712.7 496.7,708.1 496.9,711.0 497.0,708.1 497.1,705.9 497.3,711.6 497.4,708.2 497.5,718.2 497.7,704.1 497.8,704.4 497.9,709.8 498.1,711.4 498.2,709.9 498.4,709.4 498.5,710.7 498.6,713.1 498.8,709.3 498.9,705.6 499.0,718.2 499.2,712.6 499.3,713.8 499.4,715.2 499.6,710.7 499.7,719.5 499.8,712.4 500.0,707.3 500.1,707.2 500.3,708.1 500.4,709.5 500.5,707.5 500.7,710.2 500.8,708.9 500.9,707.9 501.1,704.8 501.2,706.7 501.3,707.3 501.5,716.9 501.6,709.8 501.7,710.2 501.9,713.1 502.0,715.1 502.1,708.4 502.3,710.7 502.4,712.3 502.6,715.5 502.7,714.2 502.8,713.3 503.0,710.0 503.1,704.7 503.2,710.5 503.4,719.4 503.5,709.7 503.6,709.6 503.8,715.6 503.9,716.8 504.0,711.5 504.2,708.6 504.3,710.0 504.4,705.4 504.6,712.3 504.7,711.7 504.9,715.3 505.0,707.9 505.1,711.0 505.3,709.7 505.4,721.1 505.5,719.2 505.7,710.6 505.8,709.6 505.9,713.8 506.1,713.4 506.2,709.3 506.3,715.5 506.5,712.2 506.6,716.1 506.8,714.7 506.9,709.0 507.0,719.4 507.2,715.4 507.3,722.4 507.4,711.1 507.6,711.6 507.7,700.8 507.8,714.1 508.0,711.6 508.1,708.1 508.2,709.8 508.4,713.7 508.5,707.5 508.6,723.5 508.8,710.6 508.9,715.6 509.1,715.8 509.2,716.9 509.3,711.3 509.5,716.9 509.6,712.1 509.7,705.8 509.9,715.7 510.0,712.4 510.1,715.3 510.3,718.2 510.4,710.6 510.5,708.0 510.7,715.7 510.8,712.8 511.0,713.6 511.1,716.0 511.2,709.7 511.4,721.2 511.5,707.1 511.6,715.3 511.8,706.1 511.9,711.2 512.0,713.5 512.2,720.0 512.3,718.6 512.4,710.6 512.6,716.3 512.7,709.8 512.8,718.6 513.0,709.1 513.1,713.5 513.3,711.9 513.4,717.1 513.5,715.3 513.7,711.5 513.8,712.9 513.9,717.5 514.1,712.8 514.2,719.6 514.3,705.5 514.5,711.4 514.6,715.7 514.7,715.0 514.9,717.9 515.0,713.4 515.1,724.9 515.3,713.9 515.4,707.0 515.6,722.4 515.7,713.2 515.8,716.2 516.0,714.6 516.1,718.7 516.2,710.0 516.4,719.2 516.5,710.1 516.6,709.6 516.8,713.1 516.9,711.6 517.0,721.9 517.2,716.6 517.3,724.1 517.5,711.5 517.6,709.4 517.7,720.1 517.9,713.2 518.0,715.0 518.1,721.8 518.3,715.5 518.4,713.7 518.5,710.0 518.7,714.5 518.8,711.4 518.9,706.2 519.1,709.4 519.2,717.2 519.3,711.8 519.5,707.1 519.6,702.8 519.8,710.7 519.9,709.0 520.0,710.1 520.2,705.4 520.3,709.9 520.4,709.3 520.6,717.5 520.7,715.1 520.8,720.0 521.0,717.4 521.1,712.5 521.2,709.3 521.4,709.5 521.5,711.9 521.7,705.0 521.8,719.0 521.9,713.9 522.1,707.8 522.2,712.3 522.3,713.1 522.5,709.9 522.6,716.8 522.7,716.7 522.9,715.4 523.0,706.3 523.1,719.1 523.3,716.4 523.4,704.7 523.5,712.3 523.7,715.0 523.8,721.6 524.0,713.4 524.1,714.2 524.2,710.2 524.4,717.5 524.5,716.9 524.6,710.7 524.8,718.1 524.9,707.7 525.0,714.9 525.2,712.5 525.3,716.6 525.4,707.3 525.6,716.6 525.7,708.8 525.9,716.3 526.0,712.6 526.1,717.8 526.3,711.1 526.4,707.8 526.5,716.4 526.7,706.8 526.8,713.9 526.9,717.3 527.1,713.2 527.2,716.1 527.3,713.3 527.5,716.3 527.6,720.8 527.7,709.3 527.9,713.4 528.0,715.8 528.2,711.9 528.3,720.0 528.4,715.4 528.6,711.6 528.7,708.8 528.8,713.7 529.0,711.0 529.1,721.6 529.2,714.6 529.4,711.0 529.5,709.1 529.6,719.3 529.8,708.1 529.9,704.4 530.0,713.7 530.2,721.5 530.3,711.8 530.5,711.9 530.6,716.4 530.7,709.0 530.9,707.3 531.0,718.8 531.1,719.0 531.3,713.7 531.4,709.9 531.5,719.9 531.7,718.1 531.8,716.1 531.9,718.3 532.1,716.0 532.2,711.0 532.4,718.7 532.5,712.1 532.6,715.1 532.8,716.2 532.9,720.8 533.0,714.2 533.2,712.9 533.3,718.4 533.4,711.4 533.6,711.0 533.7,714.5 533.8,718.8 534.0,715.6 534.1,711.3 534.2,711.4 534.4,715.5 534.5,716.0 534.7,712.1 534.8,712.4 534.9,710.9 535.1,719.6 535.2,715.6 535.3,711.5 535.5,718.1 535.6,714.6 535.7,718.1 535.9,711.2 536.0,709.7 536.1,717.3 536.3,705.4 536.4,711.7 536.6,716.4 536.7,713.0 536.8,717.0 537.0,710.9 537.1,715.7 537.2,718.7 537.4,716.2 537.5,720.3 537.6,724.5 537.8,721.0 537.9,713.1 538.0,717.7 538.2,713.8 538.3,717.3 538.4,715.6 538.6,714.2 538.7,712.0 538.9,719.4 539.0,718.9 539.1,715.3 539.3,709.0 539.4,714.4 539.5,716.2 539.7,716.1 539.8,716.5 539.9,718.0 540.1,711.9 540.2,707.9 540.3,714.4 540.5,721.4 540.6,722.9 540.7,707.6 540.9,722.6 541.0,705.9 541.2,713.6 541.3,716.1 541.4,712.1 541.6,715.4 541.7,708.8 541.8,717.6 542.0,714.3 542.1,717.8 542.2,713.5 542.4,712.3 542.5,720.9 542.6,722.3 542.8,711.6 542.9,712.5 543.1,713.7 543.2,718.6 543.3,720.4 543.5,719.8 543.6,715.6 543.7,719.7 543.9,719.8 544.0,714.2 544.1,708.9 544.3,707.8 544.4,714.7 544.5,711.0 544.7,713.7 544.8,714.2 544.9,716.0 545.1,718.2 545.2,717.9 545.4,714.7 545.5,709.8 545.6,721.2 545.8,718.0 545.9,720.5 546.0,713.0 546.2,705.8 546.3,713.8 546.4,721.1 546.6,713.9 546.7,707.7 546.8,719.1 547.0,725.2 547.1,724.1 547.3,714.1 547.4,723.8 547.5,709.7 547.7,725.9 547.8,716.7 547.9,721.4 548.1,712.5 548.2,714.6 548.3,713.5 548.5,713.1 548.6,719.4 548.7,715.7 548.9,719.9 549.0,717.7 549.1,715.4 549.3,717.9 549.4,722.0 549.6,721.7 549.7,721.0 549.8,720.8 550.0,721.0 550.1,710.6 550.2,712.8 550.4,715.0 550.5,710.5 550.6,714.1 550.8,718.3 550.9,711.5 551.0,714.2 551.2,724.9 551.3,707.0 551.5,716.8 551.6,723.5 551.7,710.9 551.9,715.8 552.0,715.7 552.1,710.4 552.3,712.7 552.4,714.9 552.5,715.4 552.7,715.9 552.8,717.0 552.9,722.0 553.1,711.9 553.2,716.3 553.3,716.8 553.5,713.3 553.6,719.2 553.8,718.1 553.9,713.6 554.0,717.3 554.2,720.9 554.3,720.8 554.4,704.4 554.6,718.7 554.7,707.3 554.8,719.5 555.0,715.0 555.1,718.4 555.2,721.4 555.4,717.9 555.5,707.9 555.6,719.7 555.8,720.8 555.9,714.9 556.1,720.8 556.2,720.0 556.3,722.6 556.5,712.6 556.6,713.8 556.7,726.5 556.9,713.9 557.0,717.7 557.1,717.1 557.3,719.8 557.4,715.8 557.5,714.2 557.7,720.1 557.8,716.8 558.0,717.0 558.1,720.1 558.2,719.1 558.4,717.3 558.5,713.4 558.6,719.6 558.8,716.8 558.9,712.7 559.0,711.1 559.2,722.8 559.3,715.9 559.4,717.8 559.6,719.1 559.7,719.8 559.8,709.9 560.0,712.7 560.1,717.9 560.3,716.4 560.4,717.2 560.5,717.6 560.7,713.5 560.8,718.7 560.9,713.9 561.1,722.7 561.2,715.8 561.3,717.3 561.5,719.1 561.6,715.1 561.7,716.2 561.9,718.1 562.0,711.3 562.2,717.3 562.3,717.5 562.4,719.0 562.6,712.3 562.7,712.9 562.8,726.4 563.0,720.5 563.1,715.3 563.2,712.9 563.4,714.7 563.5,717.2 563.6,710.8 563.8,718.8 563.9,716.3 564.0,716.7 564.2,716.2 564.3,720.5 564.5,717.8 564.6,713.9 564.7,712.6 564.9,713.4 565.0,714.8 565.1,717.8 565.3,714.1 565.4,716.8 565.5,716.1 565.7,714.9 565.8,720.0 565.9,714.4 566.1,712.2 566.2,723.3 566.3,718.0 566.5,718.2 566.6,710.3 566.8,716.3 566.9,714.3 567.0,713.8 567.2,720.0 567.3,722.2 567.4,712.3 567.6,711.6 567.7,713.3 567.8,713.5 568.0,719.8 568.1,719.8 568.2,716.9 568.4,714.2 568.5,718.2 568.7,718.1 568.8,714.9 568.9,710.5 569.1,723.3 569.2,717.9 569.3,723.0 569.5,724.3 569.6,712.4 569.7,721.1 569.9,715.5 570.0,712.5 570.1,714.2 570.3,721.0 570.4,715.5 570.5,717.3 570.7,719.9 570.8,718.3 571.0,719.2 571.1,712.9 571.2,717.1 571.4,718.7 571.5,715.4 571.6,715.4 571.8,714.6 571.9,713.0 572.0,720.1 572.2,719.3 572.3,712.5 572.4,719.9 572.6,714.3 572.7,726.0 572.9,717.2 573.0,720.6 573.1,718.0 573.3,715.5 573.4,725.1 573.5,723.4 573.7,717.3 573.8,722.0 573.9,716.3 574.1,716.9 574.2,721.5 574.3,713.5 574.5,714.3 574.6,715.5 574.7,719.6 574.9,719.5 575.0,723.0 575.2,725.6 575.3,718.8 575.4,714.4 575.6,718.3 575.7,714.9 575.8,719.6 576.0,719.1 576.1,719.1 576.2,712.4 576.4,721.9 576.5,720.1 576.6,714.2 576.8,713.4 576.9,714.8 577.1,706.7 577.2,717.8 577.3,717.2 577.5,719.6 577.6,718.6 577.7,710.2 577.9,713.0 578.0,718.6 578.1,711.9 578.3,721.0 578.4,709.9 578.5,718.8 578.7,714.0 578.8,722.6 578.9,716.6 579.1,718.9 579.2,718.2 579.4,717.7 579.5,724.1 579.6,724.0 579.8,711.7 579.9,722.0 580.0,726.3 580.2,715.5 580.3,717.3 580.4,716.7 580.6,719.2 580.7,714.6 580.8,713.6 581.0,718.2 581.1,715.7 581.2,725.2 581.4,718.4 581.5,721.1 581.7,722.0 581.8,713.5 581.9,726.1 582.1,716.4 582.2,723.0 582.3,713.0 582.5,716.9 582.6,713.8 582.7,718.5 582.9,723.3 583.0,707.7 583.1,718.1 583.3,722.0 583.4,713.0 583.6,708.9 583.7,717.3 583.8,719.3 584.0,714.7 584.1,713.8 584.2,713.5 584.4,718.6 584.5,717.4 584.6,715.5 584.8,709.2 584.9,712.1 585.0,719.7 585.2,715.5 585.3,713.9 585.4,719.7 585.6,729.2 585.7,716.8 585.9,719.5 586.0,716.3 586.1,715.8 586.3,716.7 586.4,717.2 586.5,712.9 586.7,719.1 586.8,723.4 586.9,726.5 587.1,715.1 587.2,722.8 587.3,717.9 587.5,717.0 587.6,714.0 587.8,713.7 587.9,717.0 588.0,717.0 588.2,710.4 588.3,725.9 588.4,718.1 588.6,720.5 588.7,717.8 588.8,710.0 589.0,719.2 589.1,722.3 589.2,723.1 589.4,717.3 589.5,720.1 589.6,721.5 589.8,712.5 589.9,708.7 590.1,719.3 590.2,720.8 590.3,714.7 590.5,718.7 590.6,713.8 590.7,712.7 590.9,715.3 591.0,716.6 591.1,720.8 591.3,713.2 591.4,712.3 591.5,722.8 591.7,719.5 591.8,715.0 591.9,716.1 592.1,712.3 592.2,721.2 592.4,718.1 592.5,717.3 592.6,717.1 592.8,712.7 592.9,713.8 593.0,711.1 593.2,717.4 593.3,719.3 593.4,713.7 593.6,715.4 593.7,721.8 593.8,721.9 594.0,716.3 594.1,713.2 594.3,721.3 594.4,710.0 594.5,714.8 594.7,717.1 594.8,712.4 594.9,716.9 595.1,723.1 595.2,719.2 595.3,713.8 595.5,713.7 595.6,719.2 595.7,718.0 595.9,717.6 596.0,725.3 596.1,720.6 596.3,720.2 596.4,714.3 596.6,723.0 596.7,714.5 596.8,718.5 597.0,718.5 597.1,725.4 597.2,711.4 597.4,708.4 597.5,724.1 597.6,719.6 597.8,727.1 597.9,717.8 598.0,717.3 598.2,717.0 598.3,723.7 598.5,709.3 598.6,714.0 598.7,724.6 598.9,721.1 599.0,719.0 599.1,718.1 599.3,710.8 599.4,722.3 599.5,720.1 599.7,719.0 599.8,719.0 599.9,718.2 600.1,716.4 600.2,710.3 600.3,712.0 600.5,716.0 600.6,723.8 600.8,721.7 600.9,721.7 601.0,718.4 601.2,722.6 601.3,720.5 601.4,714.4 601.6,712.5 601.7,718.6 601.8,711.6 602.0,729.5 602.1,717.9 602.2,720.3 602.4,714.7 602.5,718.4 602.7,716.9 602.8,715.7 602.9,718.6 603.1,715.3 603.2,719.7 603.3,722.9 603.5,720.6 603.6,717.1 603.7,719.9 603.9,720.9 604.0,725.0 604.1,721.7 604.3,715.3 604.4,716.3 604.5,714.7 604.7,719.6 604.8,718.8 605.0,714.9 605.1,722.5 605.2,705.4 605.4,722.2 605.5,715.5 605.6,711.2 605.8,720.8 605.9,728.5 606.0,724.3 606.2,727.2 606.3,727.5 606.4,710.3 606.6,714.1 606.7,714.5 606.8,721.9 607.0,717.8 607.1,719.9 607.3,719.1 607.4,719.1 607.5,713.5 607.7,716.6 607.8,717.2 607.9,718.8 608.1,724.7 608.2,716.1 608.3,717.6 608.5,710.3 608.6,725.6 608.7,722.1 608.9,717.8 609.0,716.1 609.2,715.8 609.3,718.3 609.4,720.4 609.6,717.5 609.7,710.4 609.8,714.0 610.0,723.1 610.1,720.1 610.2,725.1 610.4,722.8 610.5,714.2 610.6,712.5 610.8,720.7 610.9,715.0 611.0,722.9 611.2,713.7 611.3,719.6 611.5,718.7 611.6,721.3 611.7,720.3 611.9,710.1 612.0,716.2 612.1,715.3 612.3,719.3 612.4,719.2 612.5,719.4 612.7,721.7 612.8,715.0 612.9,722.2 613.1,715.1 613.2,711.9 613.4,714.5 613.5,722.3 613.6,711.2 613.8,721.5 613.9,719.0 614.0,720.1 614.2,721.7 614.3,722.3 614.4,719.9 614.6,718.1 614.7,717.3 614.8,724.0 615.0,711.6 615.1,716.9 615.2,717.4 615.4,717.4 615.5,714.6 615.7,715.9 615.8,716.8 615.9,721.3 616.1,715.1 616.2,718.0 616.3,718.0 616.5,719.3 616.6,716.3 616.7,716.1 616.9,716.5 617.0,711.0 617.1,714.3 617.3,717.5 617.4,715.9 617.5,724.7 617.7,714.3 617.8,719.8 618.0,721.1 618.1,715.4 618.2,722.2 618.4,715.1 618.5,720.7 618.6,723.7 618.8,718.8 618.9,714.5 619.0,720.3 619.2,715.3 619.3,718.3 619.4,717.9 619.6,713.9 619.7,717.8 619.9,706.4 620.0,719.3 620.1,721.6 620.3,726.1 620.4,723.1 620.5,718.3 620.7,725.5 620.8,724.1 620.9,716.3 621.1,719.3 621.2,722.1 621.3,725.3 621.5,721.6 621.6,719.1 621.7,719.4 621.9,719.2 622.0,719.6 622.2,720.0 622.3,716.9 622.4,714.3 622.6,715.5 622.7,720.5 622.8,714.7 623.0,716.1 623.1,716.1 623.2,715.4 623.4,715.5 623.5,722.6 623.6,718.2 623.8,719.7 623.9,722.4 624.1,706.0 624.2,719.3 624.3,721.4 624.5,716.0 624.6,719.2 624.7,720.2 624.9,717.1 625.0,715.3 625.1,716.4 625.3,714.9 625.4,721.5 625.5,721.9 625.7,712.4 625.8,722.5 625.9,715.8 626.1,719.8 626.2,723.8 626.4,715.7 626.5,714.8 626.6,727.6 626.8,721.6 626.9,717.8 627.0,726.5 627.2,716.2 627.3,727.1 627.4,712.4 627.6,722.7 627.7,717.8 627.8,724.1 628.0,713.0 628.1,720.3 628.3,722.1 628.4,717.8 628.5,719.5 628.7,730.2 628.8,720.8 628.9,717.5 629.1,722.1 629.2,717.5 629.3,719.4 629.5,715.1 629.6,720.5 629.7,712.1 629.9,720.7 630.0,718.5 630.1,720.1 630.3,723.0 630.4,718.8 630.6,720.9 630.7,714.9 630.8,718.6 631.0,714.4 631.1,714.5 631.2,719.9 631.4,718.8 631.5,707.1 631.6,714.1 631.8,716.9 631.9,710.9 632.0,720.9 632.2,724.5 632.3,714.0 632.4,719.6 632.6,724.7 632.7,721.2 632.9,717.7 633.0,722.4 633.1,717.8 633.3,715.3 633.4,716.0 633.5,713.5 633.7,724.1 633.8,708.8 633.9,726.9 634.1,721.3 634.2,723.1 634.3,715.7 634.5,717.1 634.6,712.5 634.8,714.0 634.9,714.8 635.0,718.2 635.2,716.4 635.3,719.2 635.4,713.5 635.6,715.1 635.7,712.6 635.8,717.2 636.0,718.6 636.1,715.5 636.2,719.8 636.4,718.9 636.5,721.6 636.6,715.8 636.8,717.0 636.9,720.7 637.1,709.7 637.2,715.7 637.3,719.0 637.5,721.7 637.6,721.5 637.7,718.6 637.9,724.9 638.0,721.8 638.1,717.3 638.3,714.7 638.4,723.0 638.5,713.4 638.7,714.9 638.8,722.5 639.0,724.1 639.1,715.8 639.2,715.6 639.4,719.2 639.5,715.2 639.6,705.3 639.8,718.3 639.9,712.4 640.0,720.2 640.2,723.9 640.3,722.4 640.4,724.7 640.6,713.9 640.7,717.2 640.8,716.4 641.0,715.8 641.1,721.0 641.3,717.7 641.4,720.1 641.5,719.7 641.7,722.7 641.8,724.7 641.9,718.3 642.1,721.5 642.2,721.2 642.3,714.3 642.5,717.6 642.6,718.3 642.7,719.1 642.9,718.6 643.0,714.1 643.1,719.7 643.3,711.3 643.4,712.5 643.6,723.4 643.7,719.6 643.8,714.5 644.0,721.4 644.1,724.8 644.2,717.1 644.4,712.6 644.5,725.0 644.6,714.0 644.8,723.8 644.9,721.9 645.0,716.6 645.2,719.8 645.3,720.6 645.5,720.0 645.6,726.0 645.7,712.6 645.9,720.3 646.0,722.8 646.1,723.2 646.3,716.3 646.4,717.4 646.5,725.7 646.7,720.6 646.8,724.5 646.9,717.0 647.1,721.2 647.2,716.1 647.3,715.9 647.5,714.1 647.6,720.1 647.8,720.4 647.9,717.9 648.0,714.7 648.2,720.0 648.3,720.3 648.4,714.5 648.6,725.8 648.7,712.4 648.8,718.9 649.0,717.0 649.1,713.9 649.2,721.8 649.4,717.3 649.5,713.5 649.7,717.1 649.8,715.2 649.9,721.0 650.1,715.3 650.2,717.4 650.3,719.9 650.5,723.6 650.6,716.5 650.7,722.6 650.9,716.9 651.0,712.3 651.1,719.7 651.3,716.8 651.4,722.7 651.5,715.1 651.7,726.7 651.8,718.3 652.0,723.1 652.1,722.3 652.2,722.3 652.4,711.8 652.5,722.0 652.6,712.6 652.8,718.7 652.9,721.1 653.0,718.6 653.2,719.1 653.3,718.9 653.4,714.2 653.6,725.2 653.7,717.2 653.9,718.5 654.0,716.8 654.1,721.4 654.3,711.1 654.4,716.8 654.5,722.1 654.7,720.2 654.8,719.4 654.9,720.3 655.1,714.6 655.2,722.8 655.3,708.1 655.5,720.2 655.6,719.0 655.7,719.0 655.9,716.0 656.0,727.0 656.2,718.5 656.3,715.3 656.4,719.8 656.6,716.6 656.7,711.2 656.8,722.7 657.0,721.7 657.1,718.5 657.2,717.6 657.4,718.6 657.5,721.9 657.6,721.3 657.8,720.4 657.9,716.6 658.0,708.1 658.2,717.9 658.3,724.5 658.5,711.4 658.6,720.0 658.7,715.1 658.9,716.5 659.0,718.6 659.1,717.8 659.3,727.0 659.4,714.1 659.5,728.5 659.7,712.3 659.8,718.8 659.9,726.3 660.1,716.9 660.2,711.1 660.4,711.3 660.5,716.0 660.6,715.7 660.8,717.0 660.9,714.5 661.0,719.0 661.2,715.2 661.3,723.0 661.4,716.4 661.6,723.5 661.7,722.8 661.8,712.4 662.0,717.1 662.1,710.0 662.2,722.3 662.4,725.8 662.5,722.4 662.7,714.4 662.8,715.2 662.9,724.0 663.1,720.5 663.2,717.7 663.3,720.1 663.5,727.1 663.6,707.5 663.7,709.6 663.9,714.9 664.0,722.5 664.1,725.6 664.3,715.1 664.4,715.9 664.6,713.6 664.7,712.9 664.8,719.4 665.0,719.6 665.1,717.6 665.2,719.4 665.4,723.2 665.5,718.3 665.6,713.0 665.8,718.0 665.9,716.9 666.0,710.3 666.2,720.7 666.3,718.3 666.4,719.3 666.6,718.4 666.7,716.7 666.9,722.5 667.0,718.9 667.1,708.9 667.3,722.7 667.4,717.0 667.5,712.4 667.7,709.6 667.8,714.8 667.9,722.3 668.1,719.4 668.2,712.8 668.3,712.9 668.5,720.5 668.6,718.4 668.7,712.4 668.9,722.5 669.0,712.0 669.2,726.0 669.3,722.8 669.4,715.9 669.6,716.2 669.7,722.7 669.8,710.7 670.0,721.6 670.1,716.7 670.2,710.5 670.4,716.0 670.5,713.3 670.6,723.1 670.8,720.5 670.9,723.6 671.1,717.3 671.2,718.5 671.3,721.3 671.5,715.6 671.6,720.2 671.7,713.1 671.9,716.3 672.0,720.4 672.1,715.1 672.3,717.4 672.4,711.7 672.5,722.5 672.7,713.8 672.8,718.8 672.9,721.7 673.1,714.2 673.2,722.5 673.4,719.3 673.5,717.5 673.6,715.1 673.8,717.5 673.9,721.8 674.0,716.5 674.2,724.8 674.3,725.1 674.4,722.8 674.6,715.8 674.7,721.8 674.8,717.1 675.0,719.1 675.1,720.7 675.3,719.0 675.4,710.9 675.5,714.2 675.7,718.4 675.8,719.0 675.9,726.9 676.1,713.1 676.2,717.5 676.3,715.2 676.5,712.4 676.6,720.1 676.7,711.0 676.9,725.1 677.0,720.3 677.1,721.9 677.3,721.5 677.4,712.8 677.6,715.4 677.7,714.9 677.8,721.0 678.0,716.8 678.1,725.2 678.2,715.6 678.4,724.5 678.5,721.1 678.6,723.0 678.8,716.7 678.9,723.0 679.0,716.5 679.2,716.2 679.3,724.7 679.5,712.8 679.6,715.9 679.7,721.0 679.9,720.7 680.0,719.1 680.1,717.3 680.3,717.7 680.4,721.6 680.5,715.4 680.7,720.3 680.8,719.4 680.9,721.5 681.1,715.0 681.2,715.1 681.3,713.5 681.5,721.3 681.6,718.4 681.8,716.0 681.9,722.6 682.0,723.3 682.2,716.4 682.3,722.3 682.4,719.5 682.6,722.1 682.7,713.1 682.8,715.6 683.0,717.2 683.1,714.3 683.2,717.9 683.4,720.5 683.5,709.5 683.6,720.7 683.8,703.8 683.9,720.7 684.1,715.1 684.2,725.3 684.3,716.5 684.5,719.6 684.6,720.1 684.7,719.2 684.9,719.9 685.0,716.0 685.1,710.8 685.3,720.8 685.4,725.8 685.5,721.6 685.7,719.1 685.8,722.2 686.0,717.0 686.1,720.8 686.2,714.2 686.4,717.6 686.5,716.4 686.6,720.1 686.8,717.9 686.9,721.4 687.0,715.6 687.2,718.4 687.3,722.4 687.4,713.2 687.6,720.0 687.7,715.7 687.8,718.1 688.0,712.7 688.1,719.5 688.3,719.2 688.4,717.3 688.5,722.8 688.7,718.5 688.8,716.2 688.9,719.8 689.1,719.1 689.2,719.8 689.3,716.1 689.5,716.9 689.6,714.6 689.7,720.1 689.9,713.1 690.0,719.4 690.2,716.7 690.3,722.3 690.4,724.9 690.6,715.9 690.7,723.2 690.8,713.1 691.0,724.5 691.1,724.0 691.2,724.3 691.4,717.8 691.5,722.5 691.6,722.0 691.8,716.0 691.9,723.1 692.0,717.4 692.2,711.7 692.3,722.7 692.5,726.3 692.6,713.1 692.7,716.1 692.9,725.9 693.0,718.0 693.1,727.0 693.3,715.4 693.4,714.3 693.5,723.5 693.7,714.3 693.8,717.2 693.9,715.1 694.1,714.9 694.2,720.4 694.3,715.5 694.5,718.0 694.6,715.9 694.8,722.0 694.9,727.2 695.0,706.9 695.2,721.0 695.3,720.6 695.4,725.9 695.6,712.5 695.7,723.9 695.8,725.3 696.0,721.4 696.1,717.4 696.2,718.6 696.4,727.0 696.5,713.5 696.7,712.1 696.8,715.7 696.9,718.7 697.1,717.4 697.2,709.0 697.3,721.8 697.5,716.1 697.6,718.0 697.7,720.4 697.9,718.7 698.0,719.2 698.1,710.0 698.3,714.8 698.4,722.2 698.5,722.8 698.7,719.3 698.8,713.6 699.0,717.3 699.1,715.3 699.2,713.2 699.4,719.5 699.5,714.5 699.6,716.6 699.8,713.0 699.9,716.5 700.0,709.9 700.2,718.7 700.3,717.4 700.4,721.1 700.6,715.8 700.7,717.0 700.9,727.2 701.0,725.7 701.1,723.3 701.3,721.4 701.4,711.6 701.5,718.8 701.7,718.9 701.8,716.6 701.9,717.1 702.1,713.6 702.2,719.0 702.3,721.1 702.5,716.5 702.6,714.0 702.7,717.9 702.9,721.2 703.0,717.4 703.2,719.4 703.3,721.6 703.4,713.7 703.6,721.3 703.7,720.5 703.8,722.8 704.0,719.4 704.1,715.4 704.2,723.1 704.4,716.8 704.5,719.2 704.6,721.7 704.8,707.8 704.9,717.8 705.1,717.0 705.2,725.0 705.3,708.0 705.5,717.2 705.6,717.3 705.7,713.5 705.9,718.7 706.0,718.0 706.1,723.3 706.3,720.6 706.4,720.6 706.5,714.6 706.7,712.0 706.8,723.0 706.9,714.4 707.1,715.4 707.2,717.9 707.4,718.5 707.5,717.1 707.6,719.0 707.8,710.3 707.9,723.9 708.0,717.6 708.2,713.6 708.3,715.7 708.4,717.3 708.6,713.3 708.7,715.8 708.8,712.6 709.0,714.0 709.1,717.3 709.2,716.9 709.4,715.9 709.5,723.5 709.7,718.9 709.8,714.7 709.9,719.5 710.1,717.3 710.2,717.9 710.3,717.1 710.5,722.6 710.6,717.7 710.7,714.8 710.9,725.8 711.0,727.5 711.1,719.3 711.3,718.2 711.4,717.1 711.6,714.6 711.7,722.0 711.8,717.0 712.0,715.4 712.1,716.1 712.2,721.9 712.4,721.2 712.5,718.9 712.6,716.8 712.8,718.3 712.9,722.8 713.0,713.9 713.2,712.8 713.3,709.8 713.4,720.1 713.6,718.8 713.7,716.2 713.9,723.6 714.0,722.3 714.1,723.0 714.3,714.2 714.4,716.7 714.5,720.9 714.7,724.2 714.8,720.3 714.9,713.7 715.1,718.2 715.2,714.0 715.3,718.5 715.5,712.4 715.6,720.4 715.8,719.2 715.9,718.1 716.0,721.2 716.2,719.5 716.3,719.5 716.4,721.6 716.6,712.9 716.7,716.9 716.8,722.4 717.0,722.1 717.1,718.4 717.2,722.1 717.4,713.1 717.5,714.4 717.6,719.8 717.8,714.4 717.9,721.4 718.1,718.6 718.2,718.0 718.3,726.4 718.5,716.3 718.6,715.5 718.7,721.1 718.9,712.3 719.0,717.6 719.1,720.3 719.3,711.3 719.4,714.3 719.5,719.3 719.7,710.3 719.8,710.6 720.0,719.1 720.1,715.1 720.2,709.8 720.4,729.1 720.5,711.8 720.6,720.6 720.8,724.0 720.9,711.9 721.0,721.2 721.2,725.9 721.3,715.3 721.4,724.7 721.6,717.6 721.7,719.7 721.8,717.1 722.0,719.0 722.1,723.2 722.3,719.5 722.4,718.3 722.5,717.0 722.7,717.3 722.8,721.0 722.9,721.1 723.1,718.7 723.2,719.0 723.3,706.4 723.5,715.5 723.6,716.4 723.7,714.4 723.9,716.5 724.0,711.7 724.1,719.9 724.3,717.5 724.4,722.7 724.6,717.1 724.7,720.1 724.8,727.4 725.0,721.8 725.1,713.3 725.2,716.6 725.4,716.1 725.5,719.9 725.6,711.0 725.8,715.9 725.9,723.0 726.0,721.0 726.2,713.7 726.3,721.5 726.5,713.8 726.6,711.7 726.7,724.5 726.9,720.3 727.0,717.8 727.1,718.3 727.3,718.1 727.4,714.5 727.5,713.7 727.7,715.9 727.8,719.4 727.9,716.8 728.1,716.7 728.2,718.7 728.3,720.8 728.5,721.7 728.6,715.5 728.8,717.9 728.9,720.8 729.0,719.5 729.2,712.3 729.3,722.0 729.4,718.6 729.6,714.0 729.7,718.1 729.8,725.5 730.0,716.2 730.1,721.8 730.2,717.6 730.4,719.0 730.5,711.4 730.7,717.6 730.8,721.6 730.9,717.8 731.1,718.5 731.2,719.2 731.3,711.5 731.5,715.4 731.6,717.7 731.7,725.0 731.9,721.6 732.0,709.5 732.1,713.8 732.3,714.8 732.4,716.0 732.5,724.2 732.7,717.8 732.8,714.2 733.0,716.5 733.1,720.2 733.2,716.2 733.4,714.6 733.5,722.8 733.6,723.0 733.8,721.5 733.9,725.4 734.0,723.6 734.2,723.3 734.3,724.6 734.4,721.3 734.6,724.7 734.7,723.3 734.8,715.9 735.0,719.1 735.1,719.2 735.3,720.1 735.4,719.6 735.5,718.3 735.7,713.0 735.8,721.0 735.9,721.2 736.1,719.9 736.2,715.7 736.3,719.1 736.5,713.4 736.6,716.0 736.7,718.6 736.9,715.0 737.0,714.1 737.2,722.7 737.3,714.0 737.4,716.5 737.6,723.9 737.7,722.1 737.8,723.1 738.0,715.2 738.1,714.9 738.2,711.9 738.4,719.2 738.5,706.3 738.6,715.5 738.8,719.2 738.9,719.4 739.0,718.9 739.2,722.2 739.3,715.3 739.5,720.3 739.6,717.7 739.7,712.9 739.9,716.0 740.0,716.2 740.1,720.4 740.3,712.9 740.4,719.9 740.5,718.3 740.7,710.5 740.8,726.2 740.9,715.3 741.1,718.8 741.2,724.8 741.4,719.0 741.5,715.1 741.6,719.8 741.8,714.2 741.9,719.9 742.0,716.1 742.2,721.1 742.3,728.3 742.4,719.5 742.6,728.2 742.7,717.8 742.8,715.5 743.0,710.2 743.1,716.5 743.2,721.3 743.4,711.9 743.5,719.2 743.7,713.0 743.8,718.9 743.9,724.7 744.1,721.7 744.2,721.8 744.3,717.2 744.5,716.2 744.6,721.5 744.7,720.5 744.9,724.4 745.0,718.5 745.1,719.8 745.3,726.1 745.4,716.2 745.6,714.9 745.7,719.4 745.8,713.7 746.0,710.4 746.1,709.3 746.2,716.2 746.4,717.7 746.5,715.1 746.6,712.1 746.8,716.5 746.9,715.3 747.0,722.4 747.2,715.2 747.3,715.7 747.4,718.5 747.6,719.1 747.7,719.5 747.9,716.7 748.0,718.9 748.1,716.9 748.3,715.2 748.4,719.5 748.5,716.4 748.7,720.8 748.8,720.5 748.9,719.7 749.1,721.3 749.2,719.7 749.3,717.0 749.5,718.2 749.6,721.9 749.7,716.8 749.9,717.8 750.0,714.8 750.2,719.5 750.3,717.6 750.4,721.0 750.6,721.4 750.7,715.8 750.8,716.2 751.0,717.7 751.1,722.9 751.2,710.7 751.4,718.9 751.5,719.0 751.6,713.6 751.8,725.7 751.9,715.1 752.1,719.3 752.2,720.6 752.3,714.1 752.5,724.1 752.6,722.7 752.7,713.1 752.9,728.8 753.0,720.1 753.1,721.9 753.3,719.3 753.4,720.2 753.5,720.6 753.7,715.8 753.8,718.3 753.9,719.0 754.1,724.5 754.2,716.3 754.4,714.7 754.5,720.9 754.6,716.2 754.8,719.3 754.9,719.2 755.0,712.2 755.2,714.6 755.3,715.6 755.4,720.1 755.6,719.8 755.7,723.9 755.8,720.5 756.0,718.3 756.1,722.0 756.3,712.7 756.4,715.6 756.5,716.3 756.7,720.3 756.8,710.8 756.9,719.1 757.1,720.6 757.2,715.6 757.3,716.0 757.5,716.7 757.6,717.9 757.7,717.6 757.9,720.7 758.0,718.9 758.1,713.2 758.3,718.4 758.4,717.5 758.6,713.4 758.7,718.8 758.8,715.6 759.0,721.4 759.1,713.5 759.2,714.0 759.4,714.6 759.5,714.3 759.6,719.2 759.8,714.9 759.9,723.3 760.0,724.1 760.2,720.7 760.3,723.4 760.4,718.5 760.6,712.3 760.7,721.7 760.9,720.1 761.0,722.8 761.1,715.5 761.3,715.2 761.4,716.3 761.5,718.8 761.7,716.9 761.8,712.7 761.9,712.4 762.1,713.1 762.2,717.5 762.3,719.0 762.5,723.7 762.6,717.5 762.8,721.0 762.9,722.1 763.0,715.7 763.2,717.6 763.3,718.2 763.4,714.9 763.6,719.8 763.7,725.8 763.8,716.3 764.0,715.1 764.1,725.5 764.2,714.5 764.4,723.9 764.5,720.6 764.6,715.8 764.8,717.8 764.9,711.8 765.1,714.8 765.2,720.4 765.3,720.4 765.5,715.9 765.6,724.6 765.7,713.5 765.9,718.3 766.0,715.9 766.1,719.0 766.3,721.1 766.4,714.0 766.5,718.2 766.7,712.4 766.8,712.8 767.0,708.3 767.1,719.4 767.2,715.5 767.4,714.0 767.5,713.9 767.6,716.8 767.8,724.7 767.9,714.4 768.0,718.3 768.2,724.8 768.3,715.6 768.4,721.8 768.6,724.3 768.7,718.3 768.8,716.4 769.0,719.3 769.1,718.7 769.3,718.9 769.4,718.8 769.5,717.1 769.7,716.8 769.8,713.5 769.9,726.9 770.1,718.3 770.2,721.6 770.3,719.2 770.5,717.6 770.6,715.5 770.7,712.8 770.9,719.5 771.0,722.3 771.2,719.9 771.3,715.5 771.4,714.9 771.6,714.2 771.7,718.2 771.8,716.2 772.0,714.5 772.1,713.8 772.2,720.4 772.4,721.6 772.5,724.7 772.6,723.3 772.8,718.5 772.9,719.6 773.0,717.6 773.2,716.0 773.3,723.1 773.5,717.0 773.6,716.6 773.7,715.1 773.9,727.9 774.0,714.7 774.1,719.6 774.3,727.8 774.4,722.8 774.5,714.3 774.7,717.5 774.8,717.7 774.9,715.0 775.1,713.0 775.2,719.0 775.3,725.6 775.5,718.8 775.6,713.6 775.8,721.9 775.9,719.6 776.0,722.7 776.2,717.6 776.3,725.7 776.4,715.5 776.6,715.9 776.7,711.8 776.8,717.1 777.0,720.4 777.1,718.9 777.2,716.6 777.4,718.0 777.5,710.0 777.7,710.5 777.8,720.4 777.9,718.0 778.1,724.3 778.2,717.7 778.3,714.5 778.5,720.6 778.6,727.1 778.7,714.8 778.9,722.9 779.0,713.5 779.1,726.6 779.3,716.1 779.4,712.1 779.5,717.0 779.7,719.7 779.8,718.0 780.0,725.5 780.1,721.9 780.2,714.8 780.4,714.0 780.5,722.6 780.6,722.0 780.8,714.6 780.9,724.6 781.0,713.6 781.2,717.7 781.3,716.6 781.4,718.4 781.6,716.7 781.7,724.0 781.9,721.2 782.0,712.5 782.1,716.3 782.3,724.3 782.4,714.4 782.5,717.5 782.7,711.4 782.8,718.3 782.9,718.0 783.1,724.9 783.2,713.6 783.3,720.6 783.5,721.6 783.6,718.7 783.7,723.5 783.9,718.6 784.0,717.0 784.2,718.8 784.3,716.0 784.4,713.6 784.6,717.1 784.7,722.8 784.8,715.5 785.0,713.0 785.1,714.2 785.2,719.6 785.4,716.4 785.5,711.3 785.6,718.8 785.8,719.5 785.9,723.4 786.0,719.1 786.2,713.3 786.3,721.3 786.5,726.9 786.6,722.7 786.7,716.7 786.9,723.9 787.0,720.5 787.1,712.8 787.3,718.4 787.4,710.4 787.5,716.8 787.7,715.4 787.8,723.2 787.9,718.0 788.1,723.5 788.2,725.3 788.4,711.2 788.5,721.4 788.6,723.5 788.8,716.0 788.9,723.4 789.0,718.6 789.2,722.0 789.3,714.9 789.4,723.1 789.6,717.8 789.7,722.0 789.8,715.7 790.0,724.6 790.1,726.9 790.2,715.4 790.4,725.3 790.5,715.2 790.7,720.4 790.8,720.9 790.9,711.8 791.1,721.0 791.2,718.6 791.3,718.7 791.5,717.1 791.6,719.5 791.7,713.1 791.9,716.9 792.0,717.3 792.1,720.8 792.3,710.5 792.4,721.0 792.6,717.4 792.7,718.2 792.8,720.0 793.0,716.1 793.1,718.0 793.2,715.0 793.4,716.8 793.5,720.6 793.6,718.5 793.8,720.7 793.9,713.9 794.0,719.2 794.2,716.9 794.3,722.1 794.4,713.9 794.6,718.1 794.7,713.0 794.9,724.3 795.0,721.5 795.1,720.2 795.3,724.1 795.4,717.1 795.5,721.1 795.7,717.1 795.8,720.6 795.9,721.4 796.1,720.3 796.2,725.9 796.3,720.0 796.5,716.0 796.6,724.6 796.8,727.6 796.9,723.0 797.0,718.0 797.2,720.0 797.3,717.0 797.4,723.9 797.6,726.0 797.7,719.7 797.8,716.4 798.0,717.0 798.1,721.6 798.2,715.6 798.4,722.8 798.5,718.7 798.6,714.2 798.8,721.3 798.9,721.4 799.1,707.0 799.2,724.4 799.3,711.6 799.5,722.4 799.6,724.8 799.7,720.4 799.9,716.9 800.0,715.8 800.1,723.2 800.3,724.2 800.4,717.8 800.5,722.9 800.7,711.3 800.8,718.1 800.9,714.8 801.1,721.7 801.2,718.8 801.4,713.3 801.5,707.7 801.6,712.5 801.8,715.8 801.9,716.8 802.0,721.1 802.2,723.2 802.3,712.3 802.4,713.9 802.6,718.3 802.7,710.8 802.8,719.6 803.0,721.0 803.1,719.5 803.3,713.7 803.4,717.9 803.5,720.6 803.7,712.9 803.8,715.9 803.9,717.4 804.1,724.6 804.2,718.3 804.3,721.9 804.5,720.5 804.6,716.9 804.7,723.3 804.9,714.3 805.0,717.0 805.1,731.2 805.3,713.2 805.4,720.2 805.6,715.1 805.7,722.7 805.8,710.2 806.0,710.8 806.1,717.8 806.2,723.3 806.4,723.7 806.5,725.8 806.6,721.9 806.8,719.5 806.9,719.7 807.0,716.1 807.2,717.9 807.3,709.9 807.5,722.0 807.6,722.6 807.7,717.0 807.9,708.3 808.0,719.2 808.1,719.6 808.3,717.2 808.4,718.2 808.5,716.4 808.7,724.6 808.8,720.7 808.9,720.7 809.1,718.3 809.2,714.6 809.3,726.0 809.5,718.7 809.6,716.1 809.8,719.9 809.9,717.7 810.0,720.1 810.2,726.4 810.3,719.4 810.4,719.5 810.6,716.7 810.7,716.8 810.8,720.9 811.0,714.9 811.1,717.1 811.2,719.4 811.4,727.8 811.5,708.8 811.6,716.6 811.8,723.6 811.9,717.6 812.1,721.1 812.2,719.5 812.3,718.4 812.5,712.6 812.6,715.4 812.7,717.5 812.9,719.3 813.0,715.8 813.1,711.4 813.3,719.6 813.4,714.7 813.5,721.9 813.7,714.5 813.8,711.4 814.0,716.8 814.1,722.0 814.2,722.1 814.4,723.0 814.5,718.3 814.6,719.5 814.8,716.0 814.9,722.7 815.0,715.8 815.2,720.0 815.3,725.2 815.4,716.1 815.6,719.6 815.7,714.6 815.8,719.9 816.0,716.6 816.1,720.7 816.3,714.1 816.4,715.2 816.5,713.8 816.7,715.7 816.8,717.0 816.9,717.1 817.1,712.9 817.2,722.7 817.3,718.5 817.5,720.4 817.6,720.4 817.7,725.1 817.9,721.5 818.0,713.2 818.2,722.6 818.3,719.3 818.4,716.7 818.6,725.5 818.7,721.0 818.8,714.4 819.0,716.2 819.1,723.2 819.2,712.1 819.4,731.9 819.5,717.4 819.6,712.9 819.8,721.5 819.9,717.9 820.0,718.9 820.2,713.6 820.3,715.1 820.5,721.4 820.6,712.5 820.7,718.7 820.9,719.1 821.0,723.7 821.1,721.6 821.3,716.1 821.4,710.4 821.5,722.0 821.7,721.3 821.8,724.8 821.9,717.2 822.1,706.9 822.2,716.6 822.4,722.7 822.5,719.9 822.6,718.6 822.8,722.1 822.9,720.1 823.0,722.2 823.2,718.3 823.3,716.1 823.4,718.0 823.6,714.3 823.7,729.0 823.8,720.0 824.0,721.2 824.1,715.7 824.2,716.2 824.4,723.0 824.5,715.7 824.7,719.6 824.8,720.1 824.9,717.6 825.1,718.0 825.2,725.9 825.3,729.9 825.5,713.2 825.6,719.6 825.7,721.3 825.9,717.4 826.0,710.3 826.1,727.8 826.3,718.9 826.4,714.3 826.5,716.1 826.7,720.9 826.8,715.5 827.0,714.3 827.1,719.2 827.2,712.9 827.4,721.1 827.5,723.7 827.6,713.1 827.8,718.1 827.9,717.2 828.0,722.2 828.2,721.0 828.3,719.5 828.4,716.3 828.6,710.8 828.7,711.7 828.9,712.1 829.0,717.7 829.1,718.4 829.3,719.8 829.4,718.7 829.5,721.4 829.7,714.9 829.8,710.4 829.9,711.6 830.1,723.9 830.2,718.3 830.3,714.5 830.5,717.3 830.6,720.7 830.7,726.8 830.9,729.0 831.0,716.9 831.2,722.2 831.3,717.9 831.4,714.5 831.6,720.1 831.7,715.5 831.8,722.5 832.0,724.1 832.1,716.6 832.2,724.5 832.4,707.8 832.5,717.4 832.6,717.3 832.8,715.0 832.9,718.3 833.1,721.2 833.2,714.9 833.3,718.4 833.5,721.4 833.6,720.9 833.7,714.9 833.9,716.8 834.0,721.1 834.1,715.2 834.3,714.0 834.4,722.4 834.5,717.9 834.7,714.7 834.8,712.0 834.9,716.2 835.1,723.7 835.2,720.3 835.4,721.7 835.5,716.8 835.6,721.9 835.8,716.7 835.9,716.1 836.0,716.1 836.2,718.7 836.3,724.7 836.4,705.2 836.6,713.0 836.7,718.1 836.8,716.2 837.0,718.1 837.1,719.6 837.2,724.8 837.4,715.6 837.5,714.1 837.7,719.4 837.8,721.6 837.9,713.5 838.1,717.3 838.2,723.8 838.3,719.3 838.5,717.5 838.6,714.0 838.7,715.0 838.9,718.7 839.0,708.1 839.1,722.2 839.3,721.9 839.4,723.1 839.6,712.3 839.7,710.5 839.8,713.0 840.0,716.3 840.1,714.3 840.2,719.6 840.4,718.7 840.5,711.3 840.6,718.7 840.8,722.6 840.9,721.3 841.0,721.1 841.2,719.2 841.3,711.2 841.4,713.9 841.6,711.2 841.7,718.7 841.9,722.6 842.0,716.6 842.1,714.2 842.3,719.7 842.4,725.2 842.5,717.2 842.7,715.0 842.8,720.4 842.9,724.6 843.1,716.5 843.2,712.9 843.3,722.2 843.5,716.3 843.6,716.1 843.8,719.3 843.9,715.5 844.0,722.3 844.2,716.1 844.3,722.3 844.4,720.8 844.6,711.9 844.7,717.7 844.8,724.4 845.0,712.7 845.1,716.8 845.2,725.8 845.4,713.3 845.5,716.6 845.6,717.7 845.8,718.6 845.9,714.2 846.1,720.6 846.2,717.6 846.3,713.1 846.5,724.8 846.6,723.2 846.7,717.8 846.9,722.4 847.0,720.2 847.1,717.3 847.3,723.3 847.4,718.7 847.5,718.6 847.7,715.0 847.8,724.3 848.0,719.5 848.1,723.7 848.2,724.6 848.4,718.7 848.5,715.7 848.6,717.2 848.8,715.4 848.9,718.6 849.0,724.7 849.2,711.6 849.3,719.1 849.4,711.0 849.6,720.6 849.7,723.8 849.8,725.9 850.0,711.9 850.1,721.5 850.3,714.9 850.4,720.5 850.5,716.5 850.7,713.5 850.8,721.4 850.9,714.5 851.1,717.3 851.2,718.8 851.3,721.4 851.5,721.9 851.6,723.2 851.7,723.3 851.9,718.0 852.0,718.2 852.1,713.1 852.3,717.4 852.4,724.3 852.6,718.0 852.7,720.4 852.8,714.5 853.0,719.9 853.1,717.2 853.2,720.6 853.4,712.3 853.5,724.5 853.6,717.0 853.8,716.7 853.9,726.4 854.0,719.7 854.2,727.1 854.3,715.4 854.5,721.0 854.6,720.3 854.7,717.6 854.9,717.0 855.0,720.5 855.1,721.1 855.3,721.5 855.4,718.5 855.5,719.5 855.7,720.4 855.8,715.7 855.9,720.8 856.1,715.6 856.2,726.4 856.3,718.2 856.5,713.0 856.6,719.7 856.8,713.5 856.9,717.0 857.0,723.2 857.2,715.7 857.3,723.1 857.4,720.1 857.6,716.9 857.7,715.5 857.8,715.6 858.0,719.5 858.1,723.2 858.2,717.7 858.4,724.3 858.5,718.9 858.7,715.1 858.8,715.2 858.9,720.1 859.1,715.8 859.2,704.9 859.3,717.9 859.5,715.1 859.6,719.1 859.7,717.3 859.9,722.7 860.0,716.2 860.1,717.1 860.3,718.8 860.4,721.2 860.5,719.4 860.7,726.1 860.8,713.7 861.0,713.8 861.1,717.7 861.2,727.3 861.4,716.1 861.5,716.7 861.6,715.2 861.8,718.0 861.9,721.4 862.0,713.7 862.2,719.9 862.3,723.4 862.4,719.7 862.6,719.3 862.7,724.2 862.8,719.0 863.0,721.9 863.1,720.9 863.3,722.9 863.4,720.9 863.5,720.1 863.7,717.3 863.8,714.2 863.9,717.0 864.1,710.3 864.2,711.1 864.3,714.2 864.5,720.0 864.6,720.0 864.7,722.6 864.9,712.1 865.0,722.9 865.2,712.5 865.3,717.8 865.4,720.1 865.6,717.4 865.7,721.3 865.8,717.8 866.0,718.7 866.1,719.1 866.2,714.4 866.4,713.6 866.5,722.0 866.6,715.8 866.8,718.0 866.9,722.0 867.0,725.3 867.2,715.6 867.3,719.9 867.5,718.9 867.6,712.3 867.7,716.9 867.9,720.0 868.0,713.5 868.1,721.8 868.3,711.4 868.4,717.9 868.5,725.2 868.7,717.1 868.8,715.1 868.9,716.9 869.1,720.2 869.2,717.0 869.4,714.4 869.5,715.6 869.6,718.2 869.8,714.5 869.9,722.0 870.0,715.9 870.2,719.8 870.3,713.4 870.4,715.8 870.6,714.0 870.7,719.9 870.8,722.5 871.0,716.4 871.1,721.0 871.2,722.7 871.4,720.3 871.5,719.9 871.7,716.5 871.8,713.1 871.9,715.9 872.1,714.2 872.2,718.1 872.3,717.8 872.5,717.7 872.6,719.1 872.7,721.4 872.9,718.2 873.0,716.7 873.1,727.4 873.3,720.7 873.4,714.4 873.6,721.4 873.7,712.7 873.8,721.1 874.0,719.7 874.1,720.1 874.2,714.9 874.4,718.6 874.5,716.5 874.6,724.2 874.8,713.7 874.9,717.1 875.0,719.2 875.2,721.4 875.3,724.1 875.4,715.8 875.6,712.1 875.7,718.3 875.9,721.2 876.0,719.4 876.1,720.6 876.3,717.3 876.4,716.3 876.5,720.8 876.7,716.6 876.8,715.9 876.9,714.9 877.1,720.0 877.2,717.8 877.3,716.5 877.5,723.0 877.6,720.1 877.7,716.2 877.9,720.5 878.0,721.3 878.2,723.0 878.3,717.2 878.4,719.3 878.6,717.2 878.7,722.1 878.8,716.4 879.0,717.6 879.1,717.9 879.2,720.0 879.4,719.5 879.5,717.7 879.6,714.1 879.8,720.7 879.9,721.2 880.1,712.9 880.2,718.5 880.3,711.7 880.5,715.3 880.6,711.3 880.7,724.4 880.9,718.5 881.0,721.9 881.1,714.8 881.3,724.8 881.4,720.7 881.5,724.8 881.7,718.6 881.8,724.2 881.9,719.7 882.1,719.7 882.2,715.9 882.4,716.5 882.5,719.3 882.6,718.7 882.8,721.5 882.9,711.7 883.0,715.5 883.2,716.4 883.3,722.6 883.4,716.2 883.6,712.6 883.7,713.9 883.8,715.4 884.0,714.9 884.1,709.5 884.3,717.5 884.4,714.4 884.5,719.8 884.7,712.7 884.8,717.3 884.9,725.6 885.1,723.9 885.2,718.9 885.3,718.2 885.5,726.8 885.6,716.0 885.7,724.6 885.9,717.7 886.0,722.6 886.1,714.9 886.3,715.7 886.4,715.4 886.6,720.1 886.7,714.0 886.8,719.5 887.0,719.2 887.1,724.5 887.2,717.5 887.4,715.5 887.5,717.1 887.6,716.2 887.8,715.8 887.9,721.0 888.0,710.6 888.2,713.6 888.3,716.1 888.4,717.7 888.6,716.8 888.7,723.9 888.9,723.1 889.0,721.6 889.1,722.4 889.3,721.5 889.4,724.0 889.5,716.2 889.7,713.4 889.8,715.0 889.9,717.9 890.1,720.6 890.2,720.9 890.3,713.8 890.5,718.0 890.6,719.6 890.8,716.8 890.9,715.9 891.0,717.7 891.2,715.2 891.3,726.4 891.4,714.8 891.6,726.1 891.7,721.8 891.8,719.2 892.0,730.5 892.1,711.0 892.2,723.8 892.4,720.0 892.5,719.9 892.6,719.4 892.8,718.3 892.9,712.3 893.1,720.4 893.2,713.1 893.3,724.7 893.5,720.1 893.6,714.5 893.7,723.1 893.9,717.2 894.0,720.2 894.1,715.2 894.3,716.2 894.4,720.7 894.5,716.5 894.7,719.6 894.8,724.6 895.0,724.3 895.1,716.4 895.2,720.1 895.4,719.4 895.5,714.7 895.6,718.0 895.8,709.8 895.9,724.5 896.0,714.2 896.2,723.6 896.3,724.3 896.4,712.9 896.6,721.7 896.7,719.8 896.8,719.3 897.0,718.1 897.1,722.9 897.3,717.8 897.4,713.1 897.5,723.2 897.7,724.2 897.8,723.0 897.9,715.2 898.1,724.1 898.2,725.1 898.3,713.3 898.5,719.7 898.6,723.4 898.7,720.4 898.9,722.8 899.0,717.5 899.2,727.4 899.3,717.2 899.4,716.0 899.6,718.1 899.7,712.5 899.8,723.5 900.0,722.5 900.1,725.5 900.2,711.1 900.4,714.6 900.5,716.3 900.6,721.2 900.8,713.6 900.9,718.4 901.0,719.2 901.2,720.5 901.3,722.6 901.5,722.3 901.6,722.4 901.7,716.7 901.9,717.2 902.0,718.9 902.1,721.9 902.3,716.2 902.4,715.7 902.5,720.9 902.7,721.2 902.8,714.7 902.9,717.8 903.1,722.1 903.2,718.2 903.3,717.6 903.5,716.1 903.6,718.4 903.8,719.6 903.9,716.4 904.0,716.2 904.2,720.4 904.3,720.1 904.4,721.4 904.6,722.4 904.7,720.6 904.8,719.2 905.0,710.2 905.1,712.6 905.2,719.0 905.4,719.6 905.5,724.2 905.7,721.3 905.8,716.4 905.9,717.8 906.1,724.0 906.2,716.6 906.3,717.4 906.5,719.1 906.6,714.9 906.7,713.5 906.9,720.9 907.0,719.5 907.1,721.5 907.3,718.6 907.4,719.9 907.5,716.7 907.7,719.4 907.8,717.7 908.0,716.3 908.1,721.3 908.2,713.9 908.4,717.2 908.5,717.9 908.6,719.0 908.8,717.8 908.9,721.5 909.0,720.2 909.2,713.8 909.3,721.4 909.4,710.1 909.6,715.7 909.7,716.7 909.9,715.0 910.0,720.3 910.1,725.2 910.3,721.1 910.4,717.6 910.5,714.3 910.7,722.9 910.8,721.8 910.9,717.1 911.1,711.8 911.2,713.5 911.3,719.0 911.5,714.2 911.6,716.6 911.7,715.5 911.9,721.0 912.0,720.3 912.2,723.6 912.3,719.0 912.4,717.9 912.6,717.2 912.7,722.1 912.8,709.2 913.0,720.5 913.1,719.9 913.2,717.7 913.4,724.7 913.5,725.7 913.6,713.1 913.8,719.1 913.9,727.7 914.0,715.5 914.2,719.0 914.3,719.5 914.5,717.9 914.6,719.6 914.7,721.8 914.9,709.2 915.0,717.8 915.1,719.4 915.3,720.0 915.4,717.0 915.5,720.1 915.7,719.8 915.8,714.9 915.9,725.3 916.1,720.3 916.2,714.5 916.4,716.3 916.5,721.6 916.6,718.2 916.8,718.5 916.9,717.3 917.0,716.5 917.2,720.0 917.3,720.9 917.4,717.4 917.6,710.5 917.7,721.6 917.8,713.2 918.0,725.0 918.1,716.0 918.2,721.6 918.4,718.8 918.5,717.8 918.7,721.5 918.8,718.4 918.9,718.1 919.1,717.1 919.2,716.7 919.3,715.7 919.5,720.3 919.6,718.4 919.7,714.5 919.9,721.4 920.0,714.6 920.1,720.9 920.3,722.4 920.4,718.1 920.6,717.7 920.7,716.5 920.8,713.4 921.0,718.4 921.1,724.7 921.2,713.9 921.4,720.9 921.5,722.8 921.6,720.8 921.8,714.9 921.9,722.8 922.0,716.7 922.2,720.8 922.3,718.6 922.4,721.1 922.6,723.0 922.7,722.7 922.9,720.3 923.0,717.6 923.1,719.1 923.3,713.8 923.4,714.2 923.5,718.4 923.7,715.9 923.8,716.2 923.9,720.8 924.1,716.0 924.2,711.0 924.3,717.1 924.5,726.7 924.6,714.6 924.8,719.4 924.9,719.8 925.0,722.3 925.2,716.8 925.3,719.6 925.4,710.3 925.6,723.8 925.7,720.3 925.8,711.6 926.0,720.3 926.1,717.1 926.2,718.7 926.4,715.7 926.5,716.0 926.6,714.5 926.8,719.1 926.9,714.8 927.1,717.9 927.2,715.9 927.3,720.7 927.5,727.9 927.6,724.8 927.7,716.0 927.9,719.7 928.0,722.2 928.1,716.3 928.3,715.7 928.4,718.2 928.5,725.6 928.7,715.1 928.8,721.1 928.9,720.9 929.1,720.1 929.2,718.4 929.4,724.7 929.5,719.2 929.6,724.1 929.8,722.8 929.9,724.8 930.0,718.9 930.2,720.2 930.3,715.7 930.4,722.1 930.6,716.8 930.7,719.0 930.8,714.9 931.0,722.7 931.1,723.2 931.3,718.2 931.4,716.8 931.5,716.1 931.7,713.5 931.8,715.8 931.9,715.8 932.1,709.7 932.2,718.8 932.3,713.1 932.5,719.3 932.6,715.9 932.7,718.0 932.9,718.6 933.0,712.6 933.1,712.2 933.3,718.4 933.4,719.1 933.6,719.5 933.7,724.8 933.8,713.4 934.0,718.1 934.1,714.6 934.2,713.7 934.4,719.6 934.5,715.9 934.6,721.5 934.8,724.7 934.9,721.2 935.0,719.8 935.2,718.3 935.3,719.8 935.5,722.2 935.6,722.0 935.7,717.8 935.9,723.9 936.0,718.3 936.1,719.1 936.3,717.8 936.4,727.8 936.5,713.4 936.7,727.4 936.8,717.4 936.9,720.7 937.1,719.5 937.2,720.3 937.3,719.2 937.5,721.0 937.6,713.5 937.8,714.1 937.9,713.7 938.0,716.9 938.2,720.1 938.3,708.5 938.4,717.7 938.6,724.8 938.7,711.3 938.8,710.4 939.0,723.6 939.1,717.3 939.2,719.9 939.4,713.4 939.5,725.8 939.6,719.7 939.8,718.3 939.9,717.2 940.1,722.6 940.2,714.2 940.3,723.6 940.5,715.9 940.6,707.3 940.7,727.6 940.9,716.6 941.0,714.1 941.1,725.0 941.3,717.2 941.4,719.0 941.5,720.3 941.7,723.9 941.8,720.8 942.0,719.8 942.1,725.6 942.2,726.9 942.4,723.3 942.5,722.7 942.6,720.4 942.8,718.6 942.9,717.1 943.0,720.7 943.2,715.6 943.3,717.2 943.4,720.3 943.6,715.7 943.7,718.2 943.8,717.4 944.0,711.6 944.1,724.1 944.3,720.6 944.4,719.9 944.5,716.2 944.7,723.9 944.8,722.6 944.9,725.3 945.1,728.2 945.2,722.9 945.3,724.7 945.5,719.3 945.6,714.9 945.7,717.9 945.9,723.9 946.0,714.3 946.2,712.8 946.3,717.1 946.4,717.3 946.6,720.7 946.7,714.7 946.8,712.9 947.0,721.9 947.1,714.1 947.2,721.3 947.4,720.5 947.5,707.8 947.6,714.8 947.8,711.2 947.9,724.4 948.0,712.5 948.2,709.1 948.3,720.0 948.5,715.5 948.6,719.7 948.7,718.2 948.9,722.4 949.0,714.3 949.1,718.4 949.3,722.4 949.4,718.9 949.5,723.2 949.7,719.0 949.8,719.3 949.9,722.9 950.1,721.4 950.2,707.2 950.4,714.6 950.5,718.8 950.6,726.8 950.8,719.2 950.9,727.1 951.0,713.1 951.2,717.9 951.3,710.3 951.4,715.6 951.6,717.4 951.7,718.2 951.8,722.3 952.0,717.9 952.1,727.1 952.2,720.0 952.4,709.0 952.5,722.3 952.7,716.1 952.8,714.6 952.9,723.6 953.1,714.2 953.2,721.2 953.3,718.7 953.5,725.6 953.6,724.7 953.7,719.8 953.9,721.1 954.0,722.4 954.1,713.7 954.3,719.0 954.4,723.9 954.5,723.5 954.7,723.0 954.8,715.1 955.0,718.6 955.1,716.9 955.2,720.5 955.4,719.1 955.5,718.8 955.6,715.3 955.8,718.1 955.9,718.3 956.0,714.4 956.2,719.1 956.3,714.9 956.4,719.2 956.6,716.0 956.7,722.0 956.9,717.7 957.0,716.3 957.1,721.2 957.3,718.1 957.4,717.7 957.5,721.9 957.7,721.0 957.8,722.3 957.9,714.3 958.1,717.9 958.2,715.8 958.3,721.5 958.5,720.2 958.6,718.8 958.7,715.5 958.9,723.2 959.0,722.5 959.2,714.6 959.3,721.9 959.4,718.7 959.6,720.1 959.7,712.9 959.8,718.5 960.0,722.2 960.1,713.8 960.2,720.2 960.4,717.6 960.5,721.7 960.6,723.9 960.8,717.2 960.9,719.3 961.1,713.2 961.2,719.3 961.3,721.6 961.5,712.9 961.6,717.4 961.7,720.8 961.9,715.1 962.0,719.9 962.1,712.6 962.3,714.2 962.4,718.4 962.5,718.7 962.7,719.8 962.8,719.3 962.9,721.6 963.1,716.8 963.2,727.2 963.4,715.1 963.5,720.7 963.6,717.5 963.8,717.9 963.9,717.6 964.0,706.8 964.2,726.4 964.3,723.2 964.4,719.2 964.6,715.7 964.7,723.7 964.8,712.2 965.0,724.4 965.1,720.0 965.2,718.9 965.4,719.9 965.5,717.3 965.7,714.3 965.8,719.3 965.9,715.7 966.1,714.1 966.2,720.4 966.3,718.0 966.5,725.6 966.6,720.1 966.7,717.6 966.9,712.3 967.0,727.6 967.1,717.8 967.3,720.3 967.4,723.6 967.6,722.3 967.7,718.6 967.8,714.8 968.0,720.5 968.1,715.0 968.2,722.2 968.4,721.1 968.5,717.9 968.6,716.5 968.8,715.9 968.9,722.3 969.0,716.8 969.2,718.9 969.3,714.1 969.4,719.5 969.6,715.7 969.7,715.6 969.9,717.9 970.0,725.3 970.1,726.2 970.3,720.9 970.4,719.0 970.5,718.3 970.7,721.1 970.8,724.7 970.9,717.2 971.1,724.3 971.2,717.7 971.3,711.3 971.5,718.7 971.6,712.3 971.8,720.2 971.9,719.4 972.0,714.6 972.2,718.3 972.3,715.9 972.4,722.7 972.6,720.4 972.7,717.7 972.8,721.1 973.0,716.3 973.1,710.4 973.2,719.8 973.4,719.2 973.5,715.0 973.6,721.6 973.8,716.6 973.9,719.1 974.1,717.3 974.2,712.8 974.3,723.7 974.5,716.7 974.6,717.3 974.7,717.9 974.9,717.8 975.0,711.6 975.1,711.5 975.3,715.7 975.4,718.0 975.5,721.3 975.7,719.1 975.8,720.3 976.0,715.6 976.1,721.2 976.2,715.5 976.4,718.7 976.5,724.2 976.6,716.1 976.8,716.9 976.9,715.3 977.0,722.0 977.2,715.4 977.3,719.0 977.4,722.7 977.6,714.1 977.7,716.4 977.8,724.1 978.0,708.9 978.1,714.1 978.3,719.4 978.4,722.0 978.5,720.4 978.7,718.3 978.8,711.1 978.9,720.7 979.1,723.5 979.2,721.8 979.3,718.8 979.5,725.8 979.6,720.9 979.7,720.1 979.9,716.5 980.0,721.4 980.1,723.3 980.3,719.1 980.4,718.7 980.6,715.3 980.7,714.9 980.8,717.8 981.0,718.5 981.1,721.7 981.2,711.7 981.4,715.2 981.5,721.6 981.6,713.3 981.8,718.1 981.9,721.5 982.0,721.7 982.2,719.3 982.3,713.5 982.5,717.4 982.6,720.0 982.7,720.8 982.9,724.3 983.0,719.0 983.1,716.7 983.3,718.1 983.4,709.3 983.5,719.0 983.7,721.0 983.8,724.6 983.9,713.9 984.1,722.4 984.2,721.0 984.3,718.4 984.5,716.0 984.6,709.3 984.8,721.0 984.9,719.6 985.0,721.2 985.2,722.3 985.3,714.4 985.4,716.6 985.6,720.9 985.7,718.8 985.8,710.8 986.0,717.9 986.1,707.6 986.2,720.8 986.4,725.2 986.5,721.2 986.7,719.7 986.8,720.3 986.9,721.2 987.1,718.6 987.2,720.9 987.3,724.2 987.5,712.6 987.6,721.5 987.7,717.4 987.9,723.3 988.0,713.1 988.1,716.1 988.3,725.0 988.4,723.0 988.5,718.8 988.7,721.9 988.8,721.0 989.0,719.8 989.1,715.9 989.2,716.2 989.4,717.2 989.5,720.2 989.6,725.6 989.8,717.6 989.9,719.0 990.0,718.4 990.2,709.9 990.3,718.3 990.4,718.1 990.6,714.4 990.7,718.3 990.9,718.4 991.0,713.8 991.1,714.2 991.3,721.8 991.4,718.2 991.5,718.5 991.7,720.7 991.8,723.9 991.9,725.5 992.1,718.5 992.2,717.7 992.3,712.5 992.5,716.7 992.6,718.9 992.7,717.9 992.9,718.5 993.0,724.5 993.2,720.7 993.3,717.9 993.4,721.8 993.6,722.2 993.7,722.1 993.8,720.3 994.0,718.1 994.1,715.9 994.2,721.8 994.4,716.9 994.5,719.6 994.6,715.2 994.8,714.5 994.9,718.9 995.0,720.3 995.2,718.3 995.3,717.7 995.5,722.9 995.6,720.1 995.7,715.0 995.9,712.8 996.0,719.2 996.1,717.4 996.3,717.0 996.4,718.8 996.5,717.0 996.7,716.2 996.8,720.2 996.9,716.2 997.1,716.8 997.2,722.1 997.4,717.4 997.5,709.4 997.6,720.5 997.8,717.4 997.9,714.7 998.0,716.1 998.2,723.2 998.3,716.7 998.4,718.2 998.6,720.4 998.7,709.0 998.8,719.4 999.0,714.5 999.1,717.1 999.2,721.2 999.4,723.0 999.5,721.1 999.7,719.2 999.8,719.9 999.9,712.9 1000.1,714.2 1000.2,724.5 1000.3,717.2 1000.5,722.3 1000.6,712.6 1000.7,717.1 1000.9,725.8 1001.0,712.2 1001.1,710.2 1001.3,712.3 1001.4,722.9 1001.6,721.8 1001.7,721.9 1001.8,716.5 1002.0,718.2 1002.1,721.0 1002.2,709.0 1002.4,719.4 1002.5,719.7 1002.6,722.5 1002.8,718.6 1002.9,728.3 1003.0,720.5 1003.2,715.9 1003.3,716.4 1003.4,715.7 1003.6,719.5 1003.7,713.6 1003.9,719.6 1004.0,719.6 1004.1,714.0 1004.3,713.5 1004.4,713.6 1004.5,721.4 1004.7,720.9 1004.8,718.8 1004.9,714.9 1005.1,713.3 1005.2,722.0 1005.3,712.8 1005.5,720.5 1005.6,720.4 1005.7,715.1 1005.9,721.6 1006.0,710.6 1006.2,719.1 1006.3,718.8 1006.4,714.6 1006.6,717.7 1006.7,720.2 1006.8,714.0 1007.0,715.8 1007.1,722.6 1007.2,722.1 1007.4,714.6 1007.5,709.8 1007.6,720.5 1007.8,712.1 1007.9,723.4 1008.1,718.2 1008.2,717.4 1008.3,718.0 1008.5,719.2 1008.6,720.1 1008.7,722.1 1008.9,711.9 1009.0,721.9 1009.1,719.6 1009.3,713.7 1009.4,720.8 1009.5,722.6 1009.7,720.8 1009.8,718.0 1009.9,719.0 1010.1,718.0 1010.2,712.1 1010.4,718.4 1010.5,717.9 1010.6,718.1 1010.8,717.8 1010.9,717.9 1011.0,719.8 1011.2,724.6 1011.3,724.7 1011.4,711.8 1011.6,723.4 1011.7,713.4 1011.8,724.1 1012.0,718.0 1012.1,721.6 1012.3,718.2 1012.4,713.6 1012.5,719.2 1012.7,708.6 1012.8,726.4 1012.9,723.2 1013.1,717.8 1013.2,723.7 1013.3,715.9 1013.5,716.4 1013.6,720.9 1013.7,721.8 1013.9,716.3 1014.0,718.1 1014.1,713.8 1014.3,714.1 1014.4,719.1 1014.6,721.5 1014.7,717.1 1014.8,719.0 1015.0,712.7 1015.1,720.3 1015.2,713.5 1015.4,719.6 1015.5,719.4 1015.6,711.0 1015.8,722.4 1015.9,720.5 1016.0,723.6 1016.2,709.2 1016.3,713.4 1016.5,717.9 1016.6,712.8 1016.7,720.8 1016.9,712.5 1017.0,717.9 1017.1,721.7 1017.3,714.0 1017.4,711.9 1017.5,718.9 1017.7,714.1 1017.8,720.3 1017.9,714.0 1018.1,710.5 1018.2,715.1 1018.3,718.4 1018.5,720.7 1018.6,714.8 1018.8,710.0 1018.9,726.8 1019.0,714.4 1019.2,712.0 1019.3,722.1 1019.4,723.6 1019.6,717.4 1019.7,721.4 1019.8,730.2 1020.0,723.5 1020.1,718.6 1020.2,716.9 1020.4,718.8 1020.5,720.0 1020.6,715.7 1020.8,721.1 1020.9,710.8 1021.1,718.6 1021.2,722.8 1021.3,723.0 1021.5,722.2 1021.6,727.0 1021.7,716.6 1021.9,717.4 1022.0,716.9 1022.1,718.0 1022.3,714.7 1022.4,718.1 1022.5,723.3 1022.7,715.2 1022.8,722.4 1023.0,716.4 1023.1,713.5 1023.2,715.8 1023.4,729.3 1023.5,720.1 1023.6,717.6 1023.8,719.1 1023.9,727.1 1024.0,719.9 1024.2,722.4 1024.3,717.1 1024.4,713.8 1024.6,712.8 1024.7,717.6 1024.8,724.5 1025.0,722.7 1025.1,717.4 1025.3,718.9 1025.4,711.5 1025.5,718.4 1025.7,717.6 1025.8,719.8 1025.9,710.5 1026.1,717.9 1026.2,716.4 1026.3,716.7 1026.5,725.4 1026.6,725.5 1026.7,716.5 1026.9,723.7 1027.0,723.3 1027.2,715.8 1027.3,721.0 1027.4,724.2 1027.6,720.7 1027.7,720.9 1027.8,720.9 1028.0,717.8 1028.1,714.6 1028.2,718.6 1028.4,718.0 1028.5,717.0 1028.6,718.9 1028.8,724.1 1028.9,713.2 1029.0,719.4 1029.2,716.2 1029.3,724.2 1029.5,717.2 1029.6,720.1 1029.7,717.3 1029.9,713.5 1030.0,712.7 1030.1,724.1 1030.3,716.2 1030.4,718.1 1030.5,720.8 1030.7,709.8 1030.8,719.0 1030.9,723.9 1031.1,726.4 1031.2,724.0 1031.3,729.7 1031.5,718.6 1031.6,713.9 1031.8,717.6 1031.9,722.7 1032.0,724.3 1032.2,713.6 1032.3,730.0 1032.4,710.7 1032.6,721.7 1032.7,718.6 1032.8,717.9 1033.0,715.1 1033.1,716.2 1033.2,720.5 1033.4,718.3 1033.5,722.2 1033.7,718.0 1033.8,716.1 1033.9,723.0 1034.1,713.0 1034.2,723.3 1034.3,710.3 1034.5,714.5 1034.6,723.1 1034.7,716.6 1034.9,714.7 1035.0,714.4 1035.1,718.2 1035.3,721.0 1035.4,718.2 1035.5,721.2 1035.7,728.1 1035.8,710.6 1036.0,719.7 1036.1,714.1 1036.2,713.5 1036.4,717.5 1036.5,719.6 1036.6,724.2 1036.8,723.9 1036.9,725.2 1037.0,719.2 1037.2,722.4 1037.3,722.6 1037.4,718.8 1037.6,719.6 1037.7,723.5 1037.9,724.2 1038.0,710.8 1038.1,725.2 1038.3,721.0 1038.4,717.6 1038.5,717.7 1038.7,713.6 1038.8,718.4 1038.9,721.0 1039.1,712.0 1039.2,717.8 1039.3,718.0 1039.5,716.0 1039.6,718.1 1039.7,710.0 1039.9,723.8 1040.0,717.5 1040.2,711.9 1040.3,724.3 1040.4,720.4 1040.6,718.0 1040.7,719.2 1040.8,719.9 1041.0,723.9 1041.1,719.4 1041.2,720.0 1041.4,723.1 1041.5,718.7 1041.6,722.1 1041.8,718.1 1041.9,722.2 1042.1,716.4 1042.2,725.3 1042.3,717.7 1042.5,716.8 1042.6,721.3 1042.7,720.4 1042.9,716.6 1043.0,712.6 1043.1,718.2 1043.3,719.0 1043.4,716.3 1043.5,725.9 1043.7,722.1 1043.8,717.1 1043.9,710.9 1044.1,716.7 1044.2,714.0 1044.4,721.3 1044.5,721.0 1044.6,709.2 1044.8,719.7 1044.9,726.4 1045.0,720.7 1045.2,716.8 1045.3,721.3 1045.4,717.6 1045.6,715.5 1045.7,711.2 1045.8,708.6 1046.0,713.3 1046.1,713.9 1046.2,717.7 1046.4,719.3 1046.5,712.8 1046.7,717.1 1046.8,716.1 1046.9,716.6 1047.1,712.4 1047.2,721.8 1047.3,722.4 1047.5,720.5 1047.6,726.1 1047.7,716.8 1047.9,720.6 1048.0,715.6 1048.1,715.5 1048.3,721.8 1048.4,716.9 1048.6,722.8 1048.7,719.8 1048.8,722.2 1049.0,725.1 1049.1,715.1 1049.2,719.1 1049.4,719.5 1049.5,716.3 1049.6,715.3 1049.8,720.7 1049.9,715.3 1050.0,718.5 1050.2,720.5 1050.3,719.0 1050.4,718.6 1050.6,710.8 1050.7,718.0 1050.9,712.8 1051.0,715.1 1051.1,726.3 1051.3,718.5 1051.4,716.8 1051.5,720.7 1051.7,720.5 1051.8,719.9 1051.9,715.3 1052.1,716.8 1052.2,726.2 1052.3,720.3 1052.5,727.1 1052.6,717.2 1052.8,714.6 1052.9,721.8 1053.0,711.6 1053.2,724.5 1053.3,716.7 1053.4,715.7 1053.6,722.1 1053.7,718.5 1053.8,717.3 1054.0,712.6 1054.1,722.4 1054.2,717.3 1054.4,721.4 1054.5,713.7 1054.6,717.0 1054.8,719.7 1054.9,713.9 1055.1,717.1 1055.2,721.4 1055.3,723.0 1055.5,723.1 1055.6,718.1 1055.7,723.2 1055.9,723.4 1056.0,722.8 1056.1,716.7 1056.3,722.3 1056.4,716.0 1056.5,715.7 1056.7,724.6 1056.8,718.0 1056.9,717.1 1057.1,720.8 1057.2,714.1 1057.4,719.1 1057.5,720.8 1057.6,723.4 1057.8,718.1 1057.9,716.4 1058.0,722.9 1058.2,725.2 1058.3,722.4 1058.4,721.4 1058.6,718.2 1058.7,718.6 1058.8,725.0 1059.0,723.8 1059.1,720.2 1059.3,719.0 1059.4,718.3 1059.5,717.3 1059.7,723.6 1059.8,714.3 1059.9,722.0 1060.1,726.9 1060.2,720.9 1060.3,717.8 1060.5,711.9 1060.6,712.5 1060.7,711.4 1060.9,717.6 1061.0,723.5 1061.1,711.8 1061.3,713.7 1061.4,717.5 1061.6,714.0 1061.7,720.5 1061.8,726.3 1062.0,720.5 1062.1,719.0 1062.2,720.9 1062.4,719.3 1062.5,721.6 1062.6,714.9 1062.8,714.6 1062.9,718.2 1063.0,711.8 1063.2,719.6 1063.3,715.4 1063.5,717.2 1063.6,716.3 1063.7,713.9 1063.9,715.4 1064.0,716.0 1064.1,723.7 1064.3,714.9 1064.4,715.5 1064.5,715.6 1064.7,714.5 1064.8,722.8 1064.9,717.1 1065.1,716.3 1065.2,722.9 1065.3,721.2 1065.5,712.6 1065.6,718.7 1065.8,721.1 1065.9,717.1 1066.0,719.9 1066.2,719.9 1066.3,719.9 1066.4,718.5 1066.6,721.2 1066.7,716.8 1066.8,715.7 1067.0,719.1 1067.1,719.8 1067.2,726.4 1067.4,713.3 1067.5,718.3 1067.7,717.9 1067.8,721.3 1067.9,711.2 1068.1,714.1 1068.2,718.2 1068.3,717.0 1068.5,714.5 1068.6,718.5 1068.7,722.2 1068.9,718.8 1069.0,716.2 1069.1,718.3 1069.3,718.2 1069.4,713.7 1069.5,717.0 1069.7,723.7 1069.8,718.4 1070.0,714.4 1070.1,726.9 1070.2,715.2 1070.4,727.4 1070.5,712.0 1070.6,717.9 1070.8,719.9 1070.9,718.0 1071.0,717.2 1071.2,721.8 1071.3,718.2 1071.4,721.1 1071.6,715.6 1071.7,717.5 1071.8,712.2 1072.0,714.2 1072.1,710.7 1072.3,725.2 1072.4,712.3 1072.5,721.2 1072.7,719.4 1072.8,716.7 1072.9,722.2 1073.1,718.5 1073.2,719.1 1073.3,723.8 1073.5,716.7 1073.6,723.7 1073.7,717.9 1073.9,716.7 1074.0,718.0 1074.2,723.4 1074.3,724.5 1074.4,717.6 1074.6,711.8 1074.7,715.0 1074.8,720.8 1075.0,716.2 1075.1,713.2 1075.2,716.4 1075.4,714.6 1075.5,716.2 1075.6,722.8 1075.8,717.0 1075.9,714.3 1076.0,717.1 1076.2,731.0 1076.3,730.4 1076.5,711.4 1076.6,712.6 1076.7,716.8 1076.9,721.6 1077.0,708.4 1077.1,722.7 1077.3,727.6 1077.4,713.1 1077.5,716.6 1077.7,714.3 1077.8,718.9 1077.9,723.1 1078.1,722.5 1078.2,726.6 1078.4,719.3 1078.5,720.9 1078.6,719.5 1078.8,715.2 1078.9,717.4 1079.0,723.4 1079.2,718.5 1079.3,717.5 1079.4,712.2 1079.6,720.7 1079.7,715.1 1079.8,721.4 1080.0,715.8 1080.1,717.4 1080.2,720.6 1080.4,723.8 1080.5,720.2 1080.7,719.1 1080.8,719.4 1080.9,719.4 1081.1,721.6 1081.2,714.7 1081.3,722.1 1081.5,718.2 1081.6,711.5 1081.7,720.7 1081.9,721.9 1082.0,724.6 1082.1,709.8 1082.3,719.3 1082.4,722.4 1082.5,720.9 1082.7,718.9 1082.8,714.1 1083.0,717.1 1083.1,726.2 1083.2,718.3 1083.4,728.8 1083.5,724.4 1083.6,721.6 1083.8,719.9 1083.9,712.1 1084.0,717.9 1084.2,717.5 1084.3,721.8 1084.4,715.6 1084.6,721.9 1084.7,722.5 1084.9,711.0 1085.0,720.4 1085.1,726.2 1085.3,714.5 1085.4,723.5 1085.5,717.2 1085.7,711.8 1085.8,717.3 1085.9,718.8 1086.1,717.4 1086.2,720.6 1086.3,719.6 1086.5,712.9 1086.6,723.0 1086.7,718.5 1086.9,719.1 1087.0,722.2 1087.2,721.2 1087.3,726.8 1087.4,719.6 1087.6,716.8 1087.7,721.8 1087.8,716.1 1088.0,719.7 1088.1,718.3 1088.2,723.2 1088.4,723.1 1088.5,721.4 1088.6,719.6 1088.8,721.7 1088.9,714.2 1089.1,715.3 1089.2,720.9 1089.3,720.7 1089.5,718.3 1089.6,718.1 1089.7,714.4 1089.9,713.1 1090.0,715.2 1090.1,718.5 1090.3,718.7 1090.4,715.8 1090.5,721.0 1090.7,713.8 1090.8,717.3 1090.9,724.6 1091.1,712.9 1091.2,715.6 1091.4,713.4 1091.5,719.8 1091.6,722.4 1091.8,725.1 1091.9,709.6 1092.0,715.8 1092.2,723.4 1092.3,721.8 1092.4,722.0 1092.6,718.8 1092.7,719.3 1092.8,721.0 1093.0,720.1 1093.1,721.0 1093.3,716.0 1093.4,721.0 1093.5,722.5 1093.7,715.5 1093.8,719.1 1093.9,718.5 1094.1,720.7 1094.2,715.9 1094.3,724.4 1094.5,719.9 1094.6,715.4 1094.7,717.2 1094.9,722.8 1095.0,718.3 1095.1,715.9 1095.3,712.7 1095.4,721.2 1095.6,722.2 1095.7,718.7 1095.8,720.2 1096.0,718.2 1096.1,723.6 1096.2,722.9 1096.4,722.6 1096.5,715.4 1096.6,717.4 1096.8,719.2 1096.9,715.6 1097.0,712.1 1097.2,723.2 1097.3,714.2 1097.4,722.1 1097.6,718.7 1097.7,715.6 1097.9,723.3 1098.0,713.6 1098.1,715.1 1098.3,719.0 1098.4,713.5 1098.5,721.7 1098.7,716.1 1098.8,723.0 1098.9,720.4 1099.1,722.5 1099.2,721.3 1099.3,714.7 1099.5,725.6 1099.6,720.5 1099.8,713.7 1099.9,715.5 1100.0,719.9 1100.2,718.3 1100.3,717.1 1100.4,722.6 1100.6,720.0 1100.7,715.8 1100.8,711.9 1101.0,718.6 1101.1,713.2 1101.2,715.1 1101.4,724.0 1101.5,716.0 1101.6,723.9 1101.8,722.0 1101.9,716.5 1102.1,718.0 1102.2,717.1 1102.3,714.6 1102.5,719.8 1102.6,722.3 1102.7,718.3 1102.9,719.9 1103.0,723.8 1103.1,716.2 1103.3,718.0 1103.4,718.7 1103.5,718.9 1103.7,716.6 1103.8,724.6 1104.0,715.0 1104.1,720.0 1104.2,721.3 1104.4,730.1 1104.5,718.9 1104.6,715.1 1104.8,724.7 1104.9,721.7 1105.0,720.1 1105.2,721.1 1105.3,707.6 1105.4,718.2 1105.6,717.7 1105.7,721.9 1105.8,723.5 1106.0,718.1 1106.1,717.8 1106.3,726.2 1106.4,717.9 1106.5,713.5 1106.7,724.1 1106.8,720.9 1106.9,711.3 1107.1,718.1 1107.2,713.7 1107.3,721.1 1107.5,717.2 1107.6,721.2 1107.7,719.2 1107.9,712.9 1108.0,713.1 1108.1,721.6 1108.3,711.7 1108.4,716.7 1108.6,717.7 1108.7,717.5 1108.8,718.6 1109.0,719.5 1109.1,722.1 1109.2,724.9 1109.4,723.1 1109.5,719.6 1109.6,718.7 1109.8,721.8 1109.9,722.4 1110.0,722.6 1110.2,721.7 1110.3,715.8 1110.5,710.3 1110.6,714.8 1110.7,716.0 1110.9,718.4 1111.0,721.2 1111.1,718.8 1111.3,717.1 1111.4,725.3 1111.5,719.6 1111.7,716.7 1111.8,708.1 1111.9,721.7 1112.1,712.4 1112.2,714.3 1112.3,713.4 1112.5,715.0 1112.6,711.0 1112.8,722.6 1112.9,719.4 1113.0,716.5 1113.2,717.6 1113.3,720.5 1113.4,723.7 1113.6,719.2 1113.7,715.1 1113.8,715.2 1114.0,724.8 1114.1,714.3 1114.2,714.1 1114.4,731.1 1114.5,727.3 1114.7,722.3 1114.8,719.6 1114.9,711.7 1115.1,719.6 1115.2,719.6 1115.3,721.9 1115.5,713.8 1115.6,710.8 1115.7,718.3 1115.9,717.5 1116.0,717.9 1116.1,721.0 1116.3,720.9 1116.4,717.5 1116.5,720.2 1116.7,715.3 1116.8,715.9 1117.0,725.2 1117.1,715.7 1117.2,715.7 1117.4,713.6 1117.5,719.9 1117.6,719.5 1117.8,721.4 1117.9,714.3 1118.0,717.3 1118.2,715.6 1118.3,718.6 1118.4,715.2 1118.6,715.6 1118.7,713.5 1118.9,713.8 1119.0,722.8 1119.1,717.2 1119.3,718.7 1119.4,721.9 1119.5,721.9 1119.7,714.7 1119.8,717.9 1119.9,714.8 1120.1,721.4 1120.2,712.9 1120.3,722.1 1120.5,716.3 1120.6,721.3 1120.7,716.4 1120.9,719.8 1121.0,718.3 1121.2,719.5 1121.3,718.9 1121.4,733.2 1121.6,719.8 1121.7,719.9 1121.8,712.4 1122.0,712.2 1122.1,719.7 1122.2,722.9 1122.4,717.5 1122.5,715.0 1122.6,713.1 1122.8,716.3 1122.9,718.3 1123.0,711.9 1123.2,729.0 1123.3,716.2 1123.5,723.3 1123.6,719.4 1123.7,722.2 1123.9,718.3 1124.0,719.3 1124.1,726.8 1124.3,708.9 1124.4,718.8 1124.5,723.7 1124.7,713.2 1124.8,720.4 1124.9,721.9 1125.1,715.0 1125.2,709.0 1125.4,718.2 1125.5,717.6 1125.6,716.1 1125.8,715.1 1125.9,718.3 1126.0,714.1 1126.2,715.9 1126.3,724.9 1126.4,717.0 1126.6,713.4 1126.7,718.1 1126.8,717.6 1127.0,722.4 1127.1,714.1 1127.2,719.3 1127.4,718.5 1127.5,714.1 1127.7,717.2 1127.8,723.3 1127.9,718.4 1128.1,717.4 1128.2,726.5 1128.3,719.1 1128.5,724.0 1128.6,715.3 1128.7,727.2 1128.9,718.6 1129.0,717.4 1129.1,717.6 1129.3,708.3 1129.4,717.0 1129.6,717.9 1129.7,720.2 1129.8,713.1 1130.0,724.4 1130.1,718.2 1130.2,716.0 1130.4,718.7 1130.5,721.4 1130.6,722.6 1130.8,719.2 1130.9,717.5 1131.0,721.6 1131.2,718.4 1131.3,719.4 1131.4,719.2 1131.6,712.7 1131.7,719.5 1131.9,719.8 1132.0,722.5 1132.1,716.3 1132.3,714.9 1132.4,717.2 1132.5,720.8 1132.7,718.1 1132.8,711.7 1132.9,714.8 1133.1,714.9 1133.2,716.4 1133.3,717.8 1133.5,710.4 1133.6,717.3 1133.7,720.1 1133.9,723.4 1134.0,722.7 1134.2,724.8 1134.3,717.9 1134.4,716.7 1134.6,713.4 1134.7,716.1 1134.8,722.4 1135.0,711.1 1135.1,717.6 1135.2,717.2 1135.4,718.3 1135.5,719.0 1135.6,719.4 1135.8,719.1 1135.9,714.4 1136.1,721.4 1136.2,719.1 1136.3,718.7 1136.5,724.8 1136.6,721.0 1136.7,725.5 1136.9,717.3 1137.0,715.8 1137.1,722.4 1137.3,711.3 1137.4,716.5 1137.5,719.5 1137.7,721.5 1137.8,712.4 1137.9,718.8 1138.1,719.5 1138.2,721.9 1138.4,717.7 1138.5,720.9 1138.6,719.0 1138.8,721.4 1138.9,717.6 1139.0,717.2 1139.2,715.6 1139.3,721.6 1139.4,709.1 1139.6,730.7 1139.7,715.9 1139.8,717.0 1140.0,715.1 1140.1,722.3 1140.3,720.6 1140.4,725.8 1140.5,712.7 1140.7,720.4 1140.8,725.3 1140.9,729.7 1141.1,719.8 1141.2,723.4 1141.3,724.2 1141.5,718.2 1141.6,721.1 1141.7,715.7 1141.9,718.7 1142.0,721.6 1142.1,718.8 1142.3,716.9 1142.4,714.7 1142.6,717.8 1142.7,717.7 1142.8,721.4 1143.0,717.3 1143.1,724.9 1143.2,719.1 1143.4,717.6 1143.5,722.4 1143.6,722.9 1143.8,712.9 1143.9,720.0 1144.0,718.9 1144.2,721.2 1144.3,719.6 1144.5,723.3 1144.6,722.8 1144.7,722.5 1144.9,718.2 1145.0,719.2 1145.1,711.4 1145.3,718.4 1145.4,724.6 1145.5,715.5 1145.7,718.5 1145.8,712.9 1145.9,717.0 1146.1,715.5 1146.2,716.7 1146.3,714.4 1146.5,720.3 1146.6,716.9 1146.8,716.0 1146.9,725.3 1147.0,717.4 1147.2,719.8 1147.3,727.2 1147.4,725.9 1147.6,712.5 1147.7,720.6 1147.8,723.6 1148.0,715.3 1148.1,715.0 1148.2,720.5 1148.4,722.2 1148.5,723.0 1148.6,720.0 1148.8,723.2 1148.9,713.4 1149.1,716.4 1149.2,713.0 1149.3,719.8 1149.5,710.7 1149.6,722.3 1149.7,726.2 1149.9,717.7 1150.0,716.4 1150.1,721.5 1150.3,720.7 1150.4,716.5 1150.5,721.0 1150.7,721.7 1150.8,716.4 1151.0,723.6 1151.1,722.6 1151.2,718.9 1151.4,717.6 1151.5,713.0 1151.6,725.1 1151.8,719.4 1151.9,719.3 1152.0,720.1 1152.2,717.5 1152.3,718.7 1152.4,723.8 1152.6,715.7 1152.7,721.8 1152.8,713.9 1153.0,723.1 1153.1,716.2 1153.3,720.6 1153.4,720.9 1153.5,713.7 1153.7,717.1 1153.8,720.1 1153.9,713.5 1154.1,721.1 1154.2,719.0 1154.3,716.3 1154.5,718.5 1154.6,719.9 1154.7,717.7 1154.9,720.3 1155.0,720.5 1155.2,727.2 1155.3,711.1 1155.4,719.6 1155.6,720.2 1155.7,711.1 1155.8,718.1 1156.0,719.4 1156.1,713.2 1156.2,714.3 1156.4,722.0 1156.5,716.8 1156.6,714.0 1156.8,714.6 1156.9,715.8 1157.0,726.1 1157.2,721.7 1157.3,719.4 1157.5,717.3 1157.6,720.5 1157.7,722.0 1157.9,718.5 1158.0,706.9 1158.1,718.6 1158.3,715.9 1158.4,715.4 1158.5,715.4 1158.7,718.8 1158.8,710.5 1158.9,724.6 1159.1,722.5 1159.2,717.7 1159.3,716.6 1159.5,714.6 1159.6,716.7 1159.8,722.3 1159.9,720.1 1160.0,719.4 1160.2,718.3 1160.3,715.7 1160.4,722.6 1160.6,721.8 1160.7,718.5 1160.8,722.1 1161.0,714.2 1161.1,722.4 1161.2,721.0 1161.4,717.9 1161.5,726.4 1161.7,708.9 1161.8,723.9 1161.9,719.4 1162.1,720.9 1162.2,723.4 1162.3,724.3 1162.5,720.5 1162.6,714.2 1162.7,714.2 1162.9,722.3 1163.0,718.1 1163.1,728.5 1163.3,720.0 1163.4,720.9 1163.5,721.2 1163.7,714.0 1163.8,718.2 1164.0,718.6 1164.1,717.7 1164.2,718.4 1164.4,715.9 1164.5,718.8 1164.6,717.8 1164.8,721.7 1164.9,719.2 1165.0,718.3 1165.2,721.7 1165.3,710.5 1165.4,715.8 1165.6,718.7 1165.7,721.4 1165.9,715.9 1166.0,718.4 1166.1,720.8 1166.3,722.2 1166.4,719.2 1166.5,710.5 1166.7,723.6 1166.8,717.8 1166.9,714.5 1167.1,716.7 1167.2,715.7 1167.3,712.8 1167.5,717.6 1167.6,719.2 1167.7,718.0 1167.9,712.0 1168.0,715.9 1168.2,717.9 1168.3,724.1 1168.4,716.3 1168.6,718.0 1168.7,717.5 1168.8,719.2 1169.0,716.7 1169.1,716.9 1169.2,719.1 1169.4,716.8 1169.5,721.7 1169.6,721.3 1169.8,718.3 1169.9,719.0 1170.1,719.9 1170.2,712.6 1170.3,716.7 1170.5,716.4 1170.6,721.1 1170.7,722.0 1170.9,706.9 1171.0,721.1 1171.1,723.7 1171.3,720.4 1171.4,715.5 1171.5,711.5 1171.7,713.2 1171.8,717.2 1171.9,727.2 1172.1,722.1 1172.2,719.7 1172.4,719.1 1172.5,720.3 1172.6,712.1 1172.8,715.6 1172.9,716.6 1173.0,715.5 1173.2,717.0 1173.3,723.5 1173.4,723.6 1173.6,715.7 1173.7,717.3 1173.8,717.2 1174.0,714.0 1174.1,721.4 1174.2,721.8 1174.4,717.4 1174.5,715.6 1174.7,717.7 1174.8,721.7 1174.9,722.2 1175.1,712.3 1175.2,714.2 1175.3,719.4 1175.5,716.2 1175.6,724.7 1175.7,720.4 1175.9,720.9 1176.0,719.9 1176.1,715.0 1176.3,720.1 1176.4,713.2 1176.6,727.3 1176.7,727.5 1176.8,713.8 1177.0,715.3 1177.1,720.3 1177.2,706.5 1177.4,720.6 1177.5,717.0 1177.6,723.3 1177.8,722.8 1177.9,718.2 1178.0,719.9 1178.2,713.7 1178.3,719.0 1178.4,717.3 1178.6,718.0 1178.7,712.7 1178.9,713.9 1179.0,712.4 1179.1,719.3 1179.3,723.8 1179.4,714.1 1179.5,725.4 1179.7,718.7 1179.8,722.1 1179.9,720.7 1180.1,719.7 1180.2,719.4 1180.3,718.0 1180.5,715.2 1180.6,717.4 1180.8,718.7 1180.9,718.5 1181.0,723.2 1181.2,720.3 1181.3,713.1 1181.4,714.6 1181.6,724.8 1181.7,723.5 1181.8,720.3 1182.0,718.5 1182.1,721.1 1182.2,719.1 1182.4,719.5 1182.5,724.0 1182.6,718.2 1182.8,720.2 1182.9,723.0 1183.1,715.8 1183.2,719.2 1183.3,718.6 1183.5,720.8 1183.6,715.4 1183.7,720.9 1183.9,720.7 1184.0,717.7 1184.1,720.8 1184.3,720.8 1184.4,717.2 1184.5,717.2 1184.7,718.0 1184.8,713.9 1184.9,724.1 1185.1,721.8 1185.2,723.0 1185.4,726.4 1185.5,721.0 1185.6,720.9 1185.8,723.1 1185.9,713.6 1186.0,721.6 1186.2,716.6 1186.3,721.5 1186.4,721.5 1186.6,717.6 1186.7,716.1 1186.8,713.1 1187.0,716.6 1187.1,722.4 1187.3,718.1 1187.4,713.6 1187.5,720.8 1187.7,714.6 1187.8,716.4 1187.9,718.5 1188.1,714.6 1188.2,720.6 1188.3,715.0 1188.5,716.6 1188.6,717.0 1188.7,715.8 1188.9,718.7 1189.0,712.2 1189.1,708.0 1189.3,712.1 1189.4,722.3 1189.6,722.9 1189.7,717.7 1189.8,722.0 1190.0,717.6 1190.1,717.1 1190.2,719.7 1190.4,720.7 1190.5,719.8 1190.6,721.4 1190.8,721.8 1190.9,714.6 1191.0,722.2 1191.2,720.9 1191.3,718.2 1191.5,714.7 1191.6,715.2 1191.7,713.0 1191.9,720.2 1192.0,716.0 1192.1,715.3 1192.3,718.3 1192.4,712.4 1192.5,722.3 1192.7,716.2 1192.8,719.5 1192.9,719.7 1193.1,721.1 1193.2,713.7 1193.3,719.5 1193.5,718.7 1193.6,719.9 1193.8,715.1 1193.9,725.7 1194.0,719.5 1194.2,716.5 1194.3,718.8 1194.4,721.2 1194.6,722.2 1194.7,715.4 1194.8,724.5 1195.0,719.2 1195.1,724.4 1195.2,720.5 1195.4,716.9 1195.5,717.8 1195.7,722.4 1195.8,719.0 1195.9,717.2 1196.1,718.2 1196.2,717.1 1196.3,719.6 1196.5,715.9 1196.6,720.0 1196.7,722.3 1196.9,720.4 1197.0,716.0 1197.1,723.1 1197.3,722.3 1197.4,719.2 1197.5,716.8 1197.7,715.6 1197.8,724.8 1198.0,726.3 1198.1,718.0 1198.2,717.4 1198.4,719.9 1198.5,710.6 1198.6,732.8 1198.8,718.7 1198.9,710.2 1199.0,716.1 1199.2,717.0 1199.3,718.4 1199.4,718.0 1199.6,716.7 1199.7,718.4 1199.8,722.9 1200.0,717.4 1200.1,718.7 1200.3,717.6 1200.4,713.5 1200.5,720.7 1200.7,723.6 1200.8,721.3 1200.9,715.1 1201.1,724.2 1201.2,717.6 1201.3,714.0 1201.5,716.7 1201.6,714.8 1201.7,719.8 1201.9,716.7 1202.0,716.5 1202.2,722.7 1202.3,721.2 1202.4,720.5 1202.6,720.9 1202.7,719.1 1202.8,717.1 1203.0,715.9 1203.1,719.2 1203.2,715.6 1203.4,725.5 1203.5,712.1 1203.6,719.7 1203.8,713.2 1203.9,716.2 1204.0,720.2 1204.2,715.3 1204.3,717.5 1204.5,715.0 1204.6,709.6 1204.7,722.0 1204.9,720.3 1205.0,723.1 1205.1,715.7 1205.3,724.4 1205.4,719.9 1205.5,719.8 1205.7,726.2 1205.8,717.3 1205.9,710.7 1206.1,713.0 1206.2,723.4 1206.4,718.3 1206.5,726.1 1206.6,721.3 1206.8,720.6 1206.9,722.3 1207.0,720.0 1207.2,713.8 1207.3,723.6 1207.4,722.3 1207.6,721.7 1207.7,720.6 1207.8,713.9 1208.0,724.4 1208.1,715.9 1208.2,715.1 1208.4,713.9 1208.5,731.5 1208.7,721.7 1208.8,721.2 1208.9,718.7 1209.1,720.9 1209.2,718.6 1209.3,720.4 1209.5,721.0 1209.6,712.3 1209.7,720.4 1209.9,716.3 1210.0,723.0 1210.1,718.6 1210.3,715.8 1210.4,720.4 1210.5,716.0 1210.7,721.4 1210.8,717.8 1211.0,722.7 1211.1,726.8 1211.2,721.7 1211.4,710.7 1211.5,719.0 1211.6,717.4 1211.8,713.3 1211.9,718.6 1212.0,719.5 1212.2,721.8 1212.3,717.0 1212.4,717.6 1212.6,720.3 1212.7,721.8 1212.9,716.2 1213.0,721.1 1213.1,727.2 1213.3,715.1 1213.4,727.3 1213.5,720.4 1213.7,716.5 1213.8,724.0 1213.9,717.4 1214.1,720.7 1214.2,714.2 1214.3,711.7 1214.5,711.6 1214.6,714.9 1214.7,718.7 1214.9,719.9 1215.0,721.1 1215.2,730.1 1215.3,726.2 1215.4,726.9 1215.6,718.0 1215.7,713.6 1215.8,723.1 1216.0,716.6 1216.1,718.5 1216.2,720.3 1216.4,717.8 1216.5,718.2 1216.6,714.6 1216.8,715.5 1216.9,717.5 1217.1,721.7 1217.2,714.1 1217.3,717.4 1217.5,725.2 1217.6,716.9 1217.7,719.6 1217.9,711.8 1218.0,710.5 1218.1,718.2 1218.3,720.2 1218.4,716.0 1218.5,716.9 1218.7,721.4 1218.8,718.5 1218.9,718.0 1219.1,719.6 1219.2,716.8 1219.4,721.4 1219.5,715.5 1219.6,712.1 1219.8,716.3 1219.9,716.4 1220.0,712.3 1220.2,723.6 1220.3,717.6 1220.4,716.2 1220.6,718.1 1220.7,714.3 1220.8,719.4 1221.0,718.8 1221.1,716.4 1221.3,709.0 1221.4,725.0 1221.5,720.3 1221.7,716.4 1221.8,721.0 1221.9,718.4 1222.1,720.3 1222.2,716.9 1222.3,715.0 1222.5,717.2 1222.6,715.0 1222.7,717.8 1222.9,715.3 1223.0,716.0 1223.1,718.0 1223.3,717.7 1223.4,725.1 1223.6,712.8 1223.7,717.9 1223.8,722.0 1224.0,714.4 1224.1,712.5 1224.2,721.3 1224.4,711.3 1224.5,717.4 1224.6,717.1 1224.8,709.1 1224.9,713.3 1225.0,721.0 1225.2,719.1 1225.3,714.2 1225.4,719.5 1225.6,714.5 1225.7,718.2 1225.9,716.1 1226.0,715.2 1226.1,722.7 1226.3,710.0 1226.4,725.4 1226.5,713.8 1226.7,715.9 1226.8,711.6 1226.9,717.7 1227.1,718.7 1227.2,720.6 1227.3,714.3 1227.5,717.0 1227.6,724.7 1227.8,714.5 1227.9,720.4 1228.0,716.1 1228.2,717.1 1228.3,715.2 1228.4,721.2 1228.6,720.1 1228.7,712.7 1228.8,723.6 1229.0,715.9 1229.1,713.2 1229.2,723.4 1229.4,714.2 1229.5,724.9 1229.6,719.1 1229.8,720.5 1229.9,720.8 1230.1,714.3 1230.2,726.3 1230.3,721.1 1230.5,718.5 1230.6,717.5 1230.7,718.9 1230.9,719.1 1231.0,720.4 1231.1,724.6 1231.3,712.7 1231.4,717.0 1231.5,728.9 1231.7,718.9 1231.8,718.8 1232.0,718.7 1232.1,718.4 1232.2,718.2 1232.4,713.7 1232.5,718.6 1232.6,710.1 1232.8,721.6 1232.9,720.8 1233.0,719.0 1233.2,717.5 1233.3,727.0 1233.4,720.6 1233.6,718.2 1233.7,718.3 1233.8,716.2 1234.0,712.2 1234.1,716.2 1234.3,718.6 1234.4,721.7 1234.5,709.8 1234.7,722.2 1234.8,718.5 1234.9,722.9 1235.1,717.1 1235.2,721.3 1235.3,722.5 1235.5,715.5 1235.6,716.7 1235.7,715.0 1235.9,721.1 1236.0,717.7 1236.1,723.3 1236.3,729.8 1236.4,723.9 1236.6,721.9 1236.7,725.1 1236.8,720.4 1237.0,723.9 1237.1,719.6 1237.2,714.8 1237.4,714.4 1237.5,715.5 1237.6,714.7 1237.8,713.6 1237.9,722.7 1238.0,718.0 1238.2,716.8 1238.3,712.9 1238.5,710.2 1238.6,720.9 1238.7,720.2 1238.9,716.8 1239.0,724.2 1239.1,721.4 1239.3,715.5 1239.4,714.5 1239.5,719.6 1239.7,722.3 1239.8,723.8 1239.9,714.7 1240.1,711.9 1240.2,721.3 1240.3,717.8 1240.5,718.5 1240.6,717.6 1240.8,718.3 1240.9,718.9 1241.0,717.0 1241.2,720.6 1241.3,717.5 1241.4,717.0 1241.6,711.2 1241.7,711.1 1241.8,718.8 1242.0,720.6 1242.1,716.9 1242.2,720.8 1242.4,719.4 1242.5,717.0 1242.7,716.2 1242.8,715.5 1242.9,713.3 1243.1,721.6 1243.2,723.7 1243.3,718.4 1243.5,716.6 1243.6,713.9 1243.7,720.1 1243.9,721.9 1244.0,722.5 1244.1,717.9 1244.3,722.6 1244.4,720.3 1244.5,721.1 1244.7,711.9 1244.8,715.8 1245.0,721.5 1245.1,713.4 1245.2,715.3 1245.4,722.1 1245.5,714.2 1245.6,723.3 1245.8,719.2 1245.9,714.8 1246.0,718.2 1246.2,718.5 1246.3,720.3 1246.4,720.4 1246.6,717.9 1246.7,728.1 1246.9,715.7 1247.0,710.3 1247.1,715.1 1247.3,723.9 1247.4,715.9 1247.5,722.1 1247.7,721.1 1247.8,718.8 1247.9,714.8 1248.1,715.7 1248.2,717.3 1248.3,721.1 1248.5,716.7 1248.6,713.1 1248.7,715.5 1248.9,718.5 1249.0,716.4 1249.2,718.5 1249.3,718.7 1249.4,722.0 1249.6,725.8 1249.7,727.9 1249.8,713.9 1250.0,715.6 1250.1,714.6 1250.2,724.1 1250.4,713.2 1250.5,721.8 1250.6,724.5 1250.8,716.8 1250.9,720.6 1251.0,715.8 1251.2,720.5 1251.3,717.8 1251.5,714.5 1251.6,718.8 1251.7,717.8 1251.9,724.3 1252.0,714.8 1252.1,727.0 1252.3,719.4 1252.4,714.2 1252.5,723.3 1252.7,715.6 1252.8,714.2 1252.9,732.3 1253.1,720.2 1253.2,719.1 1253.4,721.3 1253.5,723.7 1253.6,721.9 1253.8,722.7 1253.9,716.1 1254.0,725.0 1254.2,720.2 1254.3,723.4 1254.4,726.6 1254.6,715.3 1254.7,710.3 1254.8,715.4 1255.0,718.3 1255.1,722.4 1255.2,717.9 1255.4,717.2 1255.5,717.7 1255.7,727.0 1255.8,715.3 1255.9,718.4 1256.1,713.9 1256.2,718.0 1256.3,714.4 1256.5,726.0 1256.6,718.9 1256.7,715.2 1256.9,715.9 1257.0,717.9 1257.1,727.3 1257.3,719.8 1257.4,719.2 1257.6,723.5 1257.7,718.9 1257.8,723.3 1258.0,713.9 1258.1,722.2 1258.2,711.6 1258.4,725.5 1258.5,718.8 1258.6,723.2 1258.8,718.7 1258.9,716.3 1259.0,711.8 1259.2,714.3 1259.3,721.4 1259.4,719.4 1259.6,719.1 1259.7,716.7 1259.9,716.5 1260.0,713.1 1260.1,710.7 1260.3,720.2 1260.4,721.4 1260.5,715.2 1260.7,717.4 1260.8,714.5 1260.9,718.7 1261.1,719.9 1261.2,725.1 1261.3,716.3 1261.5,724.7 1261.6,719.5 1261.8,716.1 1261.9,718.2 1262.0,717.1 1262.2,717.7 1262.3,716.2 1262.4,723.0 1262.6,716.3 1262.7,720.5 1262.8,726.8 1263.0,717.9 1263.1,715.4 1263.2,711.6 1263.4,716.3 1263.5,717.7 1263.6,720.4 1263.8,722.9 1263.9,719.9 1264.1,721.1 1264.2,718.6 1264.3,714.6 1264.5,720.4 1264.6,716.0 1264.7,713.4 1264.9,719.1 1265.0,719.3 1265.1,714.6 1265.3,722.5 1265.4,717.4 1265.5,711.6 1265.7,717.4 1265.8,727.6 1265.9,719.1 1266.1,719.8 1266.2,715.1 1266.4,713.8 1266.5,723.1 1266.6,722.4 1266.8,715.9 1266.9,719.7 1267.0,719.4 1267.2,720.0 1267.3,717.7 1267.4,715.2 1267.6,714.8 1267.7,720.8 1267.8,703.0 1268.0,709.2 1268.1,723.5 1268.3,722.3 1268.4,722.3 1268.5,720.4 1268.7,719.0 1268.8,720.6 1268.9,718.9 1269.1,719.0 1269.2,726.5 1269.3,720.7 1269.5,717.8 1269.6,718.1 1269.7,720.2 1269.9,721.0 1270.0,722.5 1270.1,721.0 1270.3,721.8 1270.4,713.0 1270.6,727.4 1270.7,717.2 1270.8,712.1 1271.0,714.4 1271.1,718.7 1271.2,717.0 1271.4,714.1 1271.5,711.9 1271.6,721.5 1271.8,713.6 1271.9,717.3 1272.0,718.4 1272.2,713.5 1272.3,718.4 1272.5,725.6 1272.6,717.1 1272.7,720.9 1272.9,721.1 1273.0,718.8 1273.1,724.0 1273.3,720.8 1273.4,721.5 1273.5,719.6 1273.7,717.1 1273.8,720.5 1273.9,719.6 1274.1,711.4 1274.2,723.2 1274.3,726.9 1274.5,721.7 1274.6,720.8 1274.8,720.5 1274.9,716.0 1275.0,718.3 1275.2,725.5 1275.3,715.2 1275.4,714.6 1275.6,717.6 1275.7,713.4 1275.8,721.3 1276.0,723.4 1276.1,721.1 1276.2,713.7 1276.4,719.4 1276.5,716.2 1276.6,721.3 1276.8,713.2 1276.9,722.9 1277.1,718.2 1277.2,719.4 1277.3,719.3 1277.5,717.2 1277.6,717.0 1277.7,721.6 1277.9,720.7 1278.0,715.3 1278.1,717.4 1278.3,717.6 1278.4,719.7 1278.5,721.1 1278.7,721.7 1278.8,720.2 1279.0,714.9 1279.1,717.6 1279.2,717.5 1279.4,726.5 1279.5,713.4 1279.6,722.7 1279.8,717.8 1279.9,716.3 1280.0,722.4 1280.2,715.0 1280.3,719.5 1280.4,716.2 1280.6,728.2 1280.7,708.4 1280.8,719.3 1281.0,716.9 1281.1,718.4 1281.3,718.3 1281.4,724.7 1281.5,724.2 1281.7,717.4 1281.8,723.2 1281.9,716.6 1282.1,710.4 1282.2,719.8 1282.3,721.9 1282.5,726.1 1282.6,723.8 1282.7,718.6 1282.9,725.0 1283.0,720.5 1283.2,711.9 1283.3,719.1 1283.4,719.6 1283.6,721.7 1283.7,717.6 1283.8,717.6 1284.0,714.5 1284.1,717.0 1284.2,717.6 1284.4,722.5 1284.5,720.9 1284.6,719.3 1284.8,718.9 1284.9,720.4 1285.0,716.5 1285.2,724.0 1285.3,724.0 1285.5,721.0 1285.6,719.0 1285.7,719.0 1285.9,719.3 1286.0,715.5 1286.1,721.2 1286.3,721.9 1286.4,717.5 1286.5,720.9 1286.7,723.9 1286.8,721.4 1286.9,714.2 1287.1,719.7 1287.2,718.0 1287.4,715.7 1287.5,727.7 1287.6,719.7 1287.8,718.7 1287.9,724.4 1288.0,727.0 1288.2,723.1 1288.3,717.9 1288.4,711.8 1288.6,723.7 1288.7,710.1 1288.8,713.4 1289.0,721.3 1289.1,715.8 1289.2,714.6 1289.4,711.9 1289.5,721.2 1289.7,724.6 1289.8,716.6 1289.9,719.1 1290.1,721.8 1290.2,718.9 1290.3,719.6 1290.5,711.7 1290.6,720.0 1290.7,717.3 1290.9,716.7 1291.0,713.8 1291.1,720.7 1291.3,717.0 1291.4,712.5 1291.5,722.2 1291.7,719.3 1291.8,722.6 1292.0,718.1 1292.1,721.9 1292.2,724.9 1292.4,721.4 1292.5,716.8 1292.6,716.9 1292.8,720.1 1292.9,713.7 1293.0,709.2 1293.2,718.9 1293.3,722.5 1293.4,717.1 1293.6,715.6 1293.7,719.6 1293.9,720.8 1294.0,718.8 1294.1,721.5 1294.3,720.1 1294.4,714.5 1294.5,715.0 1294.7,722.2 1294.8,719.3 1294.9,723.4 1295.1,721.0 1295.2,712.1 1295.3,722.3 1295.5,715.2 1295.6,713.8 1295.7,722.3 1295.9,716.2 1296.0,715.1 1296.2,717.0 1296.3,724.5 1296.4,718.0 1296.6,713.7 1296.7,714.5 1296.8,721.7 1297.0,716.4 1297.1,716.0 1297.2,722.6 1297.4,721.6 1297.5,718.8 1297.6,718.2 1297.8,716.7 1297.9,715.6 1298.1,713.9 1298.2,717.9 1298.3,706.7 1298.5,722.6 1298.6,713.6 1298.7,712.3 1298.9,713.5 1299.0,726.2 1299.1,717.4 1299.3,716.5 1299.4,722.8 1299.5,723.2 1299.7,717.2 1299.8,717.4 1299.9,721.4 1300.1,715.9 1300.2,720.8 1300.4,720.8 1300.5,719.3 1300.6,714.5 1300.8,725.2 1300.9,720.2 1301.0,717.0 1301.2,708.8 1301.3,718.0 1301.4,717.5 1301.6,714.3 1301.7,721.6 1301.8,719.4 1302.0,718.1 1302.1,716.1 1302.2,714.0 1302.4,722.7 1302.5,725.2 1302.7,718.9 1302.8,716.0 1302.9,721.4 1303.1,717.8 1303.2,718.2 1303.3,719.7 1303.5,714.0 1303.6,720.7 1303.7,718.6 1303.9,727.0 1304.0,720.5 1304.1,713.5 1304.3,717.0 1304.4,720.5 1304.6,719.5 1304.7,720.5 1304.8,716.1 1305.0,722.7 1305.1,715.2 1305.2,717.8 1305.4,719.3 1305.5,711.0 1305.6,719.6 1305.8,717.1 1305.9,722.0 1306.0,715.8 1306.2,723.0 1306.3,716.7 1306.4,715.2 1306.6,712.6 1306.7,723.7 1306.9,718.6 1307.0,729.2 1307.1,721.5 1307.3,714.6 1307.4,722.3 1307.5,723.6 1307.7,723.3 1307.8,715.3 1307.9,720.6 1308.1,715.8 1308.2,724.1 1308.3,726.6 1308.5,719.8 1308.6,719.5 1308.8,716.2 1308.9,712.6 1309.0,716.3 1309.2,717.6 1309.3,720.0 1309.4,726.6 1309.6,710.6 1309.7,717.1 1309.8,716.5 1310.0,719.7 1310.1,717.4 1310.2,719.9 1310.4,712.2 1310.5,721.0 1310.6,720.8 1310.8,726.9 1310.9,715.3 1311.1,715.0 1311.2,721.2 1311.3,721.1 1311.5,717.6 1311.6,717.9 1311.7,719.4 1311.9,723.2 1312.0,724.0 1312.1,718.8 1312.3,722.4 1312.4,714.0 1312.5,722.8 1312.7,718.7 1312.8,714.9 1313.0,719.9 1313.1,709.4 1313.2,714.5 1313.4,726.1 1313.5,722.9 1313.6,722.8 1313.8,720.7 1313.9,720.0 1314.0,722.4 1314.2,717.8 1314.3,722.7 1314.4,724.7 1314.6,722.2 1314.7,712.4 1314.8,723.4 1315.0,724.3 1315.1,723.9 1315.3,715.6 1315.4,707.5 1315.5,712.3 1315.7,721.0 1315.8,710.3 1315.9,720.3 1316.1,711.8 1316.2,714.0 1316.3,713.3 1316.5,716.6 1316.6,721.1 1316.7,722.8 1316.9,720.1 1317.0,715.8 1317.1,723.0 1317.3,715.9 1317.4,717.3 1317.6,716.8 1317.7,715.4 1317.8,727.0 1318.0,710.9 1318.1,719.7 1318.2,721.3 1318.4,719.0 1318.5,719.7 1318.6,717.3 1318.8,722.4 1318.9,718.2 1319.0,714.4 1319.2,718.3 1319.3,721.5 1319.5,723.5 1319.6,718.1 1319.7,719.5 1319.9,716.3 1320.0,723.4 1320.1,715.6 1320.3,719.6 1320.4,719.3 1320.5,717.1 1320.7,722.5 1320.8,720.2 1320.9,713.9 1321.1,714.8 1321.2,728.0 1321.3,704.4 1321.5,716.9 1321.6,714.1 1321.8,716.5 1321.9,717.0 1322.0,717.7 1322.2,716.0 1322.3,717.4 1322.4,714.5 1322.6,716.5 1322.7,723.2 1322.8,710.2 1323.0,718.6 1323.1,721.5 1323.2,714.3 1323.4,722.4 1323.5,720.8 1323.7,721.5 1323.8,713.4 1323.9,714.2 1324.1,715.8 1324.2,715.2 1324.3,721.0 1324.5,709.8 1324.6,728.7 1324.7,713.3 1324.9,717.8 1325.0,717.5 1325.1,721.5 1325.3,719.8 1325.4,717.1 1325.5,721.0 1325.7,720.4 1325.8,721.5 1326.0,714.1 1326.1,717.9 1326.2,721.5 1326.4,723.3 1326.5,715.4 1326.6,722.6 1326.8,719.6 1326.9,717.8 1327.0,724.1 1327.2,719.1 1327.3,720.7 1327.4,720.4 1327.6,718.9 1327.7,715.3 1327.8,717.6 1328.0,730.6 1328.1,726.2 1328.3,723.9 1328.4,721.0 1328.5,714.7 1328.7,716.0 1328.8,717.6 1328.9,723.1 1329.1,722.8 1329.2,714.0 1329.3,712.7 1329.5,724.5 1329.6,728.8 1329.7,715.4 1329.9,721.8 1330.0,722.1 1330.2,720.1 1330.3,713.2 1330.4,719.1 1330.6,714.0 1330.7,714.2 1330.8,719.2 1331.0,713.5 1331.1,718.7 1331.2,714.7 1331.4,726.9 1331.5,723.0 1331.6,716.4 1331.8,719.2 1331.9,718.5 1332.0,714.8 1332.2,719.6 1332.3,721.3 1332.5,721.6 1332.6,718.9 1332.7,716.0 1332.9,716.9 1333.0,716.5 1333.1,714.5 1333.3,717.7 1333.4,715.2 1333.5,719.8 1333.7,726.7 1333.8,721.9 1333.9,714.5 1334.1,724.4 1334.2,715.6 1334.4,718.9 1334.5,722.6 1334.6,718.5 1334.8,725.8 1334.9,721.1 1335.0,717.7 1335.2,719.4 1335.3,716.6 1335.4,721.5 1335.6,716.0 1335.7,714.6 1335.8,716.3 1336.0,715.9 1336.1,712.5 1336.2,724.2 1336.4,713.5 1336.5,720.3 1336.7,715.7 1336.8,722.8 1336.9,721.4 1337.1,720.4 1337.2,718.3 1337.3,716.2 1337.5,716.7 1337.6,719.1 1337.7,722.3 1337.9,722.3 1338.0,719.8 1338.1,716.8 1338.3,715.3 1338.4,713.0 1338.6,726.0 1338.7,711.6 1338.8,717.8 1339.0,719.9 1339.1,714.5 1339.2,720.9 1339.4,718.7 1339.5,720.1 1339.6,717.3 1339.8,721.6 1339.9,718.6 1340.0,720.4 1340.2,722.6 1340.3,714.2 1340.4,717.6 1340.6,719.5 1340.7,716.2 1340.9,719.3 1341.0,721.3 1341.1,720.9 1341.3,715.8 1341.4,716.6 1341.5,720.0 1341.7,716.1 1341.8,724.3 1341.9,724.1 1342.1,717.5 1342.2,722.6 1342.3,710.8 1342.5,722.7 1342.6,715.4 1342.7,717.3 1342.9,715.1 1343.0,715.2 1343.2,715.2 1343.3,713.3 1343.4,716.6 1343.6,715.9 1343.7,718.6 1343.8,715.8 1344.0,719.6 1344.1,721.3 1344.2,726.8 1344.4,715.9 1344.5,719.7 1344.6,718.8 1344.8,722.4 1344.9,717.5 1345.1,715.7 1345.2,718.7 1345.3,716.8 1345.5,721.4 1345.6,717.8 1345.7,722.5 1345.9,718.7 1346.0,716.4 1346.1,720.1 1346.3,723.2 1346.4,715.5 1346.5,719.0 1346.7,717.9 1346.8,725.4 1346.9,724.8 1347.1,716.0 1347.2,718.8 1347.4,715.1 1347.5,715.7 1347.6,720.2 1347.8,713.9 1347.9,720.2 1348.0,723.9 1348.2,717.2 1348.3,716.4 1348.4,724.5 1348.6,719.3 1348.7,711.6 1348.8,713.8 1349.0,719.0 1349.1,721.0 1349.3,713.0 1349.4,714.8 1349.5,709.3 1349.7,726.2 1349.8,718.9 1349.9,715.2 1350.1,718.2 1350.2,718.5 1350.3,721.8 1350.5,717.6 1350.6,718.1 1350.7,716.1 1350.9,721.3 1351.0,711.1 1351.1,714.2 1351.3,706.1 1351.4,717.9 1351.6,716.8 1351.7,715.8 1351.8,717.0 1352.0,717.9 1352.1,719.5 1352.2,723.0 1352.4,716.5 1352.5,722.7 1352.6,722.3 1352.8,723.7 1352.9,719.0 1353.0,718.0 1353.2,721.9 1353.3,714.7 1353.4,728.7 1353.6,715.0 1353.7,720.7 1353.9,718.0 1354.0,714.5 1354.1,712.8 1354.3,714.0 1354.4,714.4 1354.5,722.3 1354.7,719.5 1354.8,711.3 1354.9,721.6 1355.1,719.8 1355.2,710.9 1355.3,712.9 1355.5,717.6 1355.6,717.7 1355.8,715.2 1355.9,713.9 1356.0,716.7 1356.2,720.1 1356.3,723.4 1356.4,717.4 1356.6,713.3 1356.7,725.9 1356.8,722.7 1357.0,714.0 1357.1,722.3 1357.2,717.3 1357.4,716.2 1357.5,717.2 1357.6,717.0 1357.8,718.4 1357.9,719.4 1358.1,721.3 1358.2,720.3 1358.3,722.8 1358.5,718.7 1358.6,720.9 1358.7,719.0 1358.9,714.5 1359.0,718.4 1359.1,716.6 1359.3,722.5 1359.4,719.8 1359.5,718.4 1359.7,716.1 1359.8,712.3 1360.0,713.1 1360.1,723.5 1360.2,721.3 1360.4,725.4 1360.5,718.7 1360.6,726.0 1360.8,716.8 1360.9,718.5 1361.0,716.9 1361.2,719.2 1361.3,720.7 1361.4,723.3 1361.6,722.7 1361.7,717.6 1361.8,718.1 1362.0,723.4 1362.1,719.6 1362.3,722.1 1362.4,719.0 1362.5,716.3 1362.7,717.1 1362.8,720.1 1362.9,716.8 1363.1,720.0 1363.2,721.9 1363.3,716.3 1363.5,721.6 1363.6,723.4 1363.7,721.1 1363.9,716.2 1364.0,717.2 1364.2,712.9 1364.3,719.7 1364.4,716.5 1364.6,715.0 1364.7,715.2 1364.8,725.1 1365.0,712.1 1365.1,723.2 1365.2,722.2 1365.4,714.6 1365.5,719.3 1365.6,715.9 1365.8,717.4 1365.9,711.7 1366.0,721.0 1366.2,721.5 1366.3,720.1 1366.5,716.0 1366.6,717.1 1366.7,716.7 1366.9,725.5 1367.0,722.2 1367.1,724.3 1367.3,713.0 1367.4,715.0 1367.5,718.5 1367.7,716.9 1367.8,715.1 1367.9,718.1 1368.1,726.3 1368.2,723.0 1368.3,726.1 1368.5,716.9 1368.6,723.5 1368.8,727.9 1368.9,717.4 1369.0,710.2 1369.2,717.2 1369.3,720.9 1369.4,713.3 1369.6,724.8 1369.7,716.4 1369.8,711.8 1370.0,717.9 1370.1,721.1 1370.2,712.5 1370.4,722.0 1370.5,716.5 1370.7,717.7 1370.8,717.9 1370.9,718.6 1371.1,720.9 1371.2,717.2 1371.3,726.0 1371.5,713.0 1371.6,720.9 1371.7,724.0 1371.9,718.6 1372.0,717.5 1372.1,719.8 1372.3,714.8 1372.4,718.3 1372.5,710.7 1372.7,717.6 1372.8,721.4 1373.0,717.5 1373.1,718.4 1373.2,718.1 1373.4,716.1 1373.5,724.8 1373.6,713.4 1373.8,723.1 1373.9,717.9 1374.0,720.3 1374.2,719.4 1374.3,721.4 1374.4,716.9 1374.6,717.5 1374.7,725.4 1374.9,715.8 1375.0,719.9 1375.1,716.0 1375.3,719.5 1375.4,713.0 1375.5,721.4 1375.7,717.2 1375.8,722.9 1375.9,715.3 1376.1,719.1 1376.2,719.5 1376.3,724.4 1376.5,716.9 1376.6,716.6 1376.7,717.5 1376.9,714.0 1377.0,720.5 1377.2,727.6 1377.3,721.1 1377.4,716.8 1377.6,721.0 1377.7,720.1 1377.8,719.5 1378.0,724.0 1378.1,715.7 1378.2,720.1 1378.4,725.5 1378.5,714.7 1378.6,713.0 1378.8,718.5 1378.9,717.4 1379.0,722.3 1379.2,720.3 1379.3,717.3 1379.5,722.1 1379.6,710.4 1379.7,719.7 1379.9,721.9 1380.0,723.4 1380.1,713.5 1380.3,723.4 1380.4,723.5 1380.5,721.1 1380.7,716.4 1380.8,712.1 1380.9,718.2 1381.1,711.1 1381.2,711.0 1381.4,712.7 1381.5,720.0 1381.6,716.8 1381.8,716.5 1381.9,718.4 1382.0,721.2 1382.2,715.6 1382.3,720.7 1382.4,717.8 1382.6,721.0 1382.7,715.7 1382.8,715.8 1383.0,716.0 1383.1,719.7 1383.2,718.4 1383.4,715.4 1383.5,709.6 1383.7,715.1 1383.8,716.4 1383.9,723.6 1384.1,720.3 1384.2,713.0 1384.3,713.3 1384.5,727.4 1384.6,723.5 1384.7,714.6 1384.9,716.6 1385.0,716.2 1385.1,723.0 1385.3,709.8 1385.4,720.8 1385.6,718.2 1385.7,715.6 1385.8,721.8 1386.0,713.1 1386.1,719.8 1386.2,718.9 1386.4,719.9 1386.5,725.6 1386.6,715.9 1386.8,721.1 1386.9,718.4 1387.0,719.8 1387.2,720.0 1387.3,716.0 1387.4,717.7 1387.6,716.2 1387.7,715.8 1387.9,725.2 1388.0,717.1 1388.1,720.5 1388.3,717.6 1388.4,717.2 1388.5,724.6 1388.7,718.5 1388.8,719.7 1388.9,723.8 1389.1,725.9 1389.2,720.4 1389.3,712.3 1389.5,721.3 1389.6,717.1 1389.8,716.7 1389.9,722.4 1390.0,723.2 1390.2,720.9 1390.3,720.1 1390.4,719.4 1390.6,718.4 1390.7,716.4 1390.8,717.4 1391.0,724.1 1391.1,723.5 1391.2,715.2 1391.4,719.1 1391.5,716.6 1391.6,718.8 1391.8,720.3 1391.9,715.7 1392.1,712.6 1392.2,724.2 1392.3,722.1 1392.5,719.8 1392.6,720.7 1392.7,716.0 1392.9,713.1 1393.0,717.4 1393.1,719.6 1393.3,716.2 1393.4,718.7 1393.5,713.1 1393.7,715.3 1393.8,723.6 1393.9,722.3 1394.1,724.9 1394.2,724.4 1394.4,722.7 1394.5,719.1 1394.6,721.6 1394.8,718.1 1394.9,716.6 1395.0,718.4 1395.2,718.5 1395.3,720.6 1395.4,718.7 1395.6,719.4 1395.7,712.0 1395.8,718.2 1396.0,715.3 1396.1,718.2 1396.3,722.2 1396.4,718.5 1396.5,714.1 1396.7,717.1 1396.8,721.8 1396.9,727.5 1397.1,712.8 1397.2,722.1" stroke="#0000ff" stroke-width="2.8"/>
<g fill="none" stroke="#000" stroke-width="2.8" stroke-linecap="round">
<path d="M313.5,718.5h14.6 M313.5,590.5h14.6 M313.5,462.5h14.6 M313.5,334.4h14.6 M313.5,206.4h14.6 M313.5,78.4h14.6 M313.5,782.5h7.6 M313.5,654.5h7.6 M313.5,526.5h7.6 M313.5,398.4h7.6 M313.5,270.4h7.6 M313.5,142.4h7.6 M313.6,840.5v-13.6 M584.5,840.5v-13.6 M855.4,840.5v-13.6 M1126.3,840.5v-13.6 M1397.2,840.5v-13.6 M449.1,840.5v-6.7 M720.0,840.5v-6.7 M990.9,840.5v-6.7 M1261.8,840.5v-6.7"/>
<rect x="313.5" y="14.5" width="1083" height="826" stroke-linejoin="miter" stroke-linecap="square"/>
</g>
<g fill="none" stroke="#000" stroke-width="2.8" stroke-linecap="round">
<path d="M313.5,488.4H720.5" stroke-dasharray="29.7 27.25" stroke-dashoffset="4.6"/>
<path d="M358.6,489.4V844" stroke-dasharray="28.2 27.6"/>
</g>
<ellipse cx="359.05" cy="844.1" rx="13" ry="12.3" fill="#0000ff"/>
<ellipse cx="720.8" cy="842.4" rx="12.8" ry="12.35" fill="#ff0000"/>
<path d="M720.5,485.8V842.4" fill="none" stroke="#000" stroke-width="2.8" stroke-linecap="round" stroke-dasharray="28.2 27.6"/>
<g fill="none" stroke="#000" stroke-width="2.8" stroke-linecap="round">
<path d="M814.5,378.5h13.5 M814.5,294.4h13.5 M814.5,210.3h13.5 M814.5,126.2h13.5 M814.5,336.4h7.6 M814.5,252.4h7.6 M814.5,168.2h7.6 M814.5,84.2h7.6 M877.0,378.5v-13.8 M1085.5,378.5v-13.8 M1294.0,378.5v-13.8 M981.2,378.5v-7 M1189.8,378.5v-7"/>
<rect x="814.5" y="68.5" width="542" height="310"/>
</g>
<polyline points="877.0,144.2 878.7,144.2 880.3,144.2 882.0,144.2 883.7,144.3 885.3,144.3 887.0,144.3 888.7,144.3 890.3,144.3 892.0,144.3 893.7,144.4 895.3,144.4 897.0,144.4 898.7,144.4 900.4,144.5 902.0,144.5 903.7,144.6 905.4,144.6 907.0,144.7 908.7,144.7 910.4,144.8 912.0,144.9 913.7,145.0 915.4,145.1 917.0,145.2 918.7,145.3 920.4,145.4 922.0,145.5 923.7,145.7 925.4,145.9 927.0,146.0 928.7,146.2 930.4,146.5 932.0,146.7 933.7,147.0 935.4,147.2 937.0,147.5 938.7,147.9 940.4,148.2 942.1,148.6 943.7,149.1 945.4,149.5 947.1,150.0 948.7,150.5 950.4,151.1 952.1,151.7 953.7,152.4 955.4,153.1 957.1,153.9 958.7,154.7 960.4,155.6 962.1,156.5 963.7,157.5 965.4,158.6 967.1,159.7 968.7,160.9 970.4,162.2 972.1,163.5 973.7,164.9 975.4,166.4 977.1,168.0 978.7,169.7 980.4,171.4 982.1,173.3 983.8,175.2 985.4,177.2 987.1,179.3 988.8,181.5 990.4,183.8 992.1,186.2 993.8,188.7 995.4,191.3 997.1,194.0 998.8,196.8 1000.4,199.7 1002.1,202.7 1003.8,205.8 1005.4,208.9 1007.1,212.2 1008.8,215.5 1010.4,218.9 1012.1,222.4 1013.8,226.0 1015.4,229.7 1017.1,233.4 1018.8,237.2 1020.4,241.0 1022.1,244.9 1023.8,248.8 1025.5,252.8 1027.1,256.8 1028.8,260.8 1030.5,264.8 1032.1,268.8 1033.8,272.9 1035.5,276.9 1037.1,280.9 1038.8,284.9 1040.5,288.9 1042.1,292.8 1043.8,296.6 1045.5,300.4 1047.1,304.1 1048.8,307.7 1050.5,311.3 1052.1,314.7 1053.8,318.0 1055.5,321.3 1057.1,324.3 1058.8,327.3 1060.5,330.1 1062.1,332.8 1063.8,335.3 1065.5,337.6 1067.2,339.8 1068.8,341.8 1070.5,343.6 1072.2,345.3 1073.8,346.8 1075.5,348.0 1077.2,349.1 1078.8,350.0 1080.5,350.7 1082.2,351.2 1083.8,351.5 1085.5,351.7 1087.2,351.6 1088.8,351.4 1090.5,351.0 1092.2,350.4 1093.8,349.7 1095.5,348.7 1097.2,347.5 1098.8,346.2 1100.5,344.7 1102.2,342.9 1103.8,341.0 1105.5,339.0 1107.2,336.7 1108.9,334.3 1110.5,331.7 1112.2,329.0 1113.9,326.1 1115.5,323.1 1117.2,320.0 1118.9,316.7 1120.5,313.4 1122.2,309.9 1123.9,306.3 1125.5,302.6 1127.2,298.9 1128.9,295.1 1130.5,291.2 1132.2,287.3 1133.9,283.3 1135.5,279.3 1137.2,275.3 1138.9,271.3 1140.5,267.2 1142.2,263.2 1143.9,259.2 1145.5,255.2 1147.2,251.2 1148.9,247.2 1150.6,243.3 1152.2,239.4 1153.9,235.6 1155.6,231.9 1157.2,228.2 1158.9,224.6 1160.6,221.0 1162.2,217.6 1163.9,214.2 1165.6,210.9 1167.2,207.6 1168.9,204.5 1170.6,201.5 1172.2,198.5 1173.9,195.7 1175.6,192.9 1177.2,190.3 1178.9,187.7 1180.6,185.3 1182.2,182.9 1183.9,180.6 1185.6,178.5 1187.2,176.4 1188.9,174.4 1190.6,172.5 1192.3,170.7 1193.9,169.0 1195.6,167.4 1197.3,165.8 1198.9,164.3 1200.6,163.0 1202.3,161.6 1203.9,160.4 1205.6,159.2 1207.3,158.1 1208.9,157.1 1210.6,156.1 1212.3,155.2 1213.9,154.4 1215.6,153.6 1217.3,152.8 1218.9,152.1 1220.6,151.5 1222.3,150.9 1223.9,150.3 1225.6,149.8 1227.3,149.3 1228.9,148.9 1230.6,148.5 1232.3,148.1 1234.0,147.7 1235.6,147.4 1237.3,147.1 1239.0,146.8 1240.6,146.6 1242.3,146.4 1244.0,146.2 1245.6,146.0 1247.3,145.8 1249.0,145.6 1250.6,145.5 1252.3,145.4 1254.0,145.2 1255.6,145.1 1257.3,145.0 1259.0,144.9 1260.6,144.9 1262.3,144.8 1264.0,144.7 1265.6,144.7 1267.3,144.6 1269.0,144.6 1270.6,144.5 1272.3,144.5 1274.0,144.4 1275.7,144.4 1277.3,144.4 1279.0,144.4 1280.7,144.3 1282.3,144.3 1284.0,144.3 1285.7,144.3 1287.3,144.3 1289.0,144.3 1290.7,144.2 1292.3,144.2 1294.0,144.2" fill="none" stroke="#000" stroke-width="3.3" stroke-linecap="round" stroke-linejoin="round"/>
<path d="M814.5,124.2H1358.2" fill="none" stroke="#e00000" stroke-width="2.5" stroke-linecap="round" stroke-dasharray="29.5 27.4" stroke-dashoffset="47.8"/>
<ellipse cx="1085.85" cy="348.3" rx="12.75" ry="12.35" fill="#0000ff"/>
<text id="yl10" transform="translate(222.83,93.31) scale(0.5634,0.4910)" font-family="'Liberation Serif', serif" stroke="#fff" stroke-width="0.943" stroke-linejoin="round" font-size="100" fill="#000">1.0</text>
<text id="yl08" transform="translate(222.74,222.12) scale(0.5641,0.5000)" font-family="'Liberation Serif', serif" stroke="#fff" stroke-width="0.941" stroke-linejoin="round" font-size="100" fill="#000">0.8</text>
<text id="yl06" transform="translate(222.76,349.94) scale(0.5593,0.5000)" font-family="'Liberation Serif', serif" stroke="#fff" stroke-width="0.946" stroke-linejoin="round" font-size="100" fill="#000">0.6</text>
<text id="yl04" transform="translate(222.77,479.11) scale(0.5580,0.5070)" font-family="'Liberation Serif', serif" stroke="#fff" stroke-width="0.965" stroke-linejoin="round" font-size="100" fill="#000">0.4</text>
<text id="yl02" transform="translate(222.74,606.50) scale(0.5661,0.5030)" font-family="'Liberation Serif', serif" stroke="#fff" stroke-width="0.949" stroke-linejoin="round" font-size="100" fill="#000">0.2</text>
<text id="yl00" transform="translate(266.02,734.20) scale(0.5452,0.4955)" font-family="'Liberation Serif', serif" stroke="#fff" stroke-width="0.955" stroke-linejoin="round" font-size="100" fill="#000">0</text>
<text id="xl0" transform="translate(300.04,895.32) scale(0.5405,0.4848)" font-family="'Liberation Serif', serif" stroke="#fff" stroke-width="0.962" stroke-linejoin="round" font-size="100" fill="#000">0</text>
<text id="xl100" transform="translate(543.08,895.21) scale(0.5467,0.4881)" font-family="'Liberation Serif', serif" stroke="#fff" stroke-width="0.954" stroke-linejoin="round" font-size="100" fill="#000">100</text>
<text id="xl200" transform="translate(813.03,895.20) scale(0.5539,0.4955)" font-family="'Liberation Serif', serif" stroke="#fff" stroke-width="0.951" stroke-linejoin="round" font-size="100" fill="#000">200</text>
<text id="xl300" transform="translate(1083.86,895.20) scale(0.5489,0.4955)" font-family="'Liberation Serif', serif" stroke="#fff" stroke-width="0.952" stroke-linejoin="round" font-size="100" fill="#000">300</text>
<text id="xl400" transform="translate(1355.82,895.20) scale(0.5396,0.5045)" font-family="'Liberation Serif', serif" stroke="#fff" stroke-width="0.972" stroke-linejoin="round" font-size="100" fill="#000">400</text>
<text id="inve1" transform="translate(457.13,461.00) scale(0.5297,0.4864)" font-family="'Liberation Serif', serif" stroke="#fff" stroke-width="0.966" stroke-linejoin="round" font-size="100" fill="#000">1</text>
<text id="inve2" transform="translate(487.48,464.18) scale(0.6242,0.5011)" font-family="'Noto Serif CJK SC', serif" font-size="100" fill="#000">/</text>
<text id="inve3" transform="translate(512.57,461.14) scale(0.5568,0.4625)" font-family="'Liberation Serif', serif" stroke="#fff" stroke-width="0.655" stroke-linejoin="round" font-size="100" fill="#000">e</text>
<text id="tau1" transform="translate(370.94,811.70) scale(0.5255,0.3981) skewX(-15)" font-family="'Noto Serif CJK SC', serif" font-size="100" fill="#0000ff">τ</text>
<text id="sim1" transform="translate(417.82,812.78) scale(0.5250,0.4118)" font-family="'Liberation Serif', serif" font-size="100" fill="#000">~</text>
<text id="n15" transform="translate(463.76,813.12) scale(0.5494,0.5033)" font-family="'Liberation Serif', serif" stroke="#fff" stroke-width="0.948" stroke-linejoin="round" font-size="100" fill="#000">15</text>
<text id="us1" transform="translate(537.03,811.21) scale(0.5170,0.4759)" font-family="'Liberation Serif', serif" stroke="#fff" stroke-width="0.976" stroke-linejoin="round" font-size="100" fill="#000">µs</text>
<text id="tau2" transform="translate(729.77,804.80) scale(0.5234,0.4019) skewX(-15)" font-family="'Noto Serif CJK SC', serif" font-size="100" fill="#e00000">τ</text>
<text id="sub2" transform="translate(759.03,812.34) scale(0.3929,0.3552)" font-family="'Liberation Serif', serif" stroke="#fff" stroke-width="0.957" stroke-linejoin="round" font-size="100" fill="#e00000">0</text>
<text id="sim2" transform="translate(795.61,805.92) scale(0.5292,0.4176)" font-family="'Liberation Serif', serif" font-size="100" fill="#000">~</text>
<text id="n150" transform="translate(841.63,806.11) scale(0.5526,0.5078)" font-family="'Liberation Serif', serif" stroke="#fff" stroke-width="0.959" stroke-linejoin="round" font-size="100" fill="#000">150</text>
<text id="us2" transform="translate(942.12,804.73) scale(0.5193,0.4559)" font-family="'Liberation Serif', serif" stroke="#fff" stroke-width="0.963" stroke-linejoin="round" font-size="100" fill="#000">µs</text>
<text id="xt1" transform="translate(767.31,978.38) scale(0.4845,0.4800)" font-family="'Liberation Serif', 'Noto Serif CJK SC', serif" stroke="#000" stroke-width="1.224" stroke-linejoin="round" font-size="100" fill="#000">时间</text>
<text id="xt2" transform="translate(867.37,980.11) scale(0.6273,0.5053)" font-family="'Noto Serif CJK SC', serif" font-size="100" fill="#000">/</text>
<text id="xt3" transform="translate(891.94,976.10) scale(0.5148,0.4715)" font-family="'Liberation Serif', serif" stroke="#fff" stroke-width="0.964" stroke-linejoin="round" font-size="100" fill="#000">µs</text>
<text id="yt" transform="translate(178.38,596.93) rotate(-90) scale(0.4855,0.4648)" font-family="'Liberation Serif', 'Noto Serif CJK SC', serif" stroke="#000" stroke-width="1.247" stroke-linejoin="round" font-size="100" fill="#000">归一化衰荡信号</text>
<text id="iy150" transform="translate(734.77,137.83) scale(0.4036,0.3672)" font-family="'Liberation Serif', serif" stroke="#fff" stroke-width="0.962" stroke-linejoin="round" font-size="100" fill="#000">150</text>
<text id="iy100" transform="translate(734.79,221.34) scale(0.4015,0.3582)" font-family="'Liberation Serif', serif" stroke="#fff" stroke-width="0.954" stroke-linejoin="round" font-size="100" fill="#000">100</text>
<text id="iy50" transform="translate(754.45,305.64) scale(0.4089,0.3591)" font-family="'Liberation Serif', serif" stroke="#fff" stroke-width="0.94" stroke-linejoin="round" font-size="100" fill="#000">50</text>
<text id="iy0" transform="translate(774.97,389.36) scale(0.4071,0.3361)" font-family="'Liberation Serif', serif" stroke="#fff" stroke-width="0.934" stroke-linejoin="round" font-size="100" fill="#000">0</text>
<text id="ixm5a" transform="translate(837.55,425.84) scale(0.4894,0.3400)" font-family="'Liberation Serif', serif" stroke="#fff" stroke-width="0.063" stroke-linejoin="round" font-size="100" fill="#000">−</text>
<text id="ixm5b" transform="translate(868.99,423.36) scale(0.4017,0.3427)" font-family="'Liberation Serif', serif" stroke="#fff" stroke-width="0.951" stroke-linejoin="round" font-size="100" fill="#000">0.5</text>
<text id="ix0" transform="translate(1074.85,424.08) scale(0.4119,0.3609)" font-family="'Liberation Serif', serif" stroke="#fff" stroke-width="0.938" stroke-linejoin="round" font-size="100" fill="#000">0</text>
<text id="ix5" transform="translate(1267.99,424.08) scale(0.4026,0.3609)" font-family="'Liberation Serif', serif" stroke="#fff" stroke-width="0.95" stroke-linejoin="round" font-size="100" fill="#000">0.5</text>
<text id="ixt1" transform="translate(961.31,470.74) scale(0.3465,0.3287)" font-family="'Liberation Serif', 'Noto Serif CJK SC', serif" stroke="#000" stroke-width="1.732" stroke-linejoin="round" font-size="100" fill="#000">相对波数</text>
<text id="ixt2" transform="translate(1102.65,472.25) scale(0.4455,0.3558)" font-family="'Noto Serif CJK SC', serif" font-size="100" fill="#000">/</text>
<text id="ixt3" transform="translate(1120.07,469.58) scale(0.4078,0.3229)" font-family="'Liberation Serif', serif" stroke="#fff" stroke-width="0.638" stroke-linejoin="round" font-size="100" fill="#000">cm</text>
<text id="ixt4a" transform="translate(1173.19,466.58) scale(0.3426,0.3800)" font-family="'Liberation Serif', serif" stroke="#fff" stroke-width="0.078" stroke-linejoin="round" font-size="100" fill="#000">−</text>
<text id="ixt4b" transform="translate(1195.49,460.20) scale(0.2571,0.2415)" font-family="'Liberation Serif', serif" stroke="#fff" stroke-width="0.966" stroke-linejoin="round" font-size="100" fill="#000">1</text>
<text id="iyt1" transform="translate(708.85,320.34) rotate(-90) scale(0.3463,0.3354)" font-family="'Liberation Serif', 'Noto Serif CJK SC', serif" stroke="#000" stroke-width="1.716" stroke-linejoin="round" font-size="100" fill="#000">衰荡时间</text>
<text id="iyt2" transform="translate(710.63,178.93) rotate(-90) scale(0.4333,0.3509)" font-family="'Noto Serif CJK SC', serif" font-size="100" fill="#000">/</text>
<text id="iyt3" transform="translate(708.25,162.27) rotate(-90) scale(0.3682,0.3309)" font-family="'Liberation Serif', serif" stroke="#fff" stroke-width="0.991" stroke-linejoin="round" font-size="100" fill="#000">µs</text>
<text id="itau0" transform="translate(1072.71,151.05) scale(0.3638,0.2874) skewX(-15)" font-family="'Noto Serif CJK SC', serif" font-size="100" fill="#e00000">τ</text>
<text id="isub0" transform="translate(1093.07,156.25) scale(0.2833,0.2539)" font-family="'Liberation Serif', serif" stroke="#fff" stroke-width="0.94" stroke-linejoin="round" font-size="100" fill="#e00000">0</text>
<text id="itau" transform="translate(1114.07,356.63) scale(0.3791,0.2852) skewX(-15)" font-family="'Noto Serif CJK SC', serif" font-size="100" fill="#0000ff">τ</text>
</svg></body></html>
